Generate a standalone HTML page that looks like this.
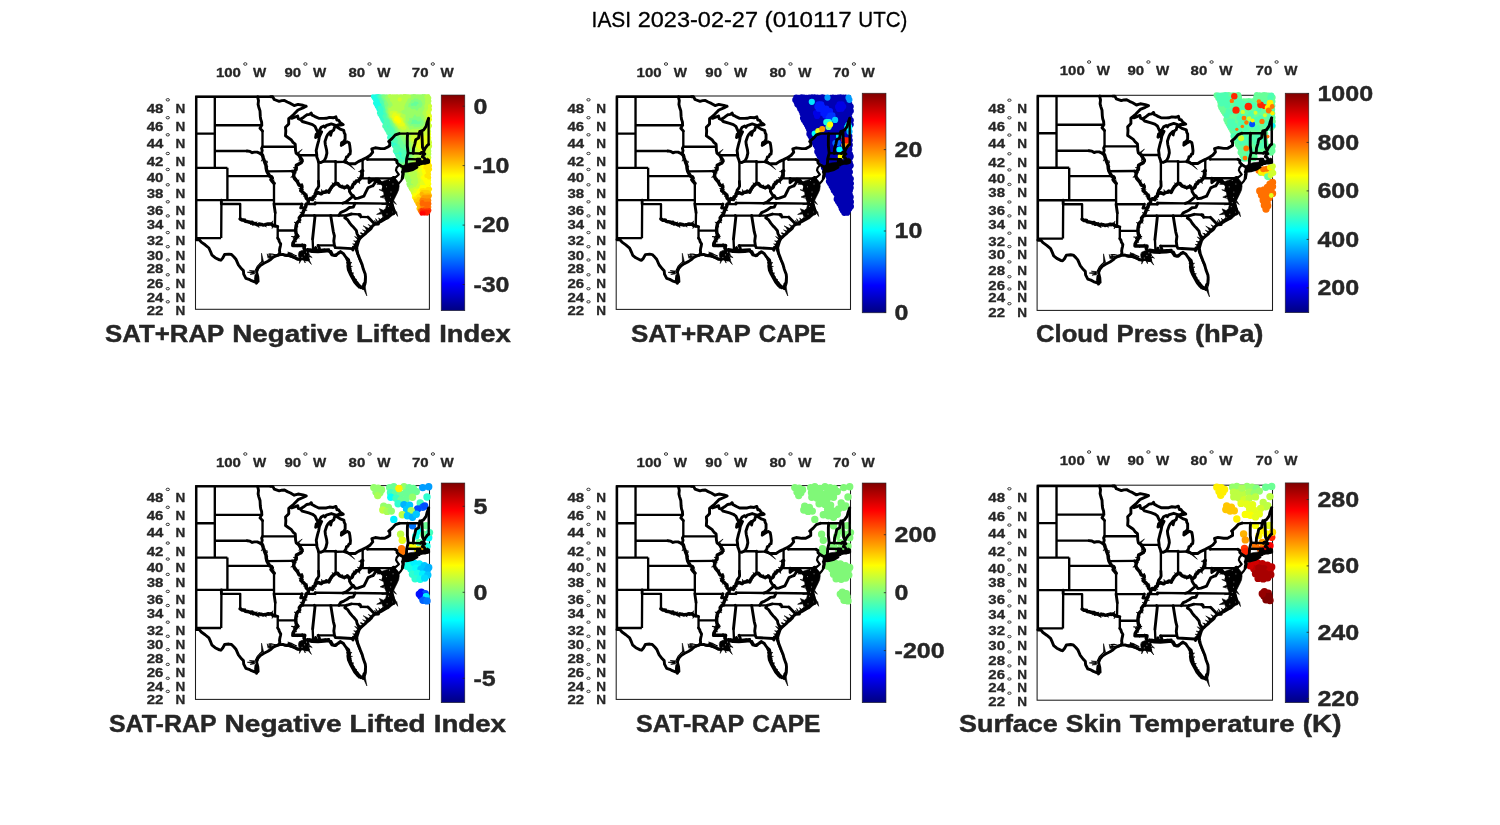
<!DOCTYPE html>
<html><head><meta charset="utf-8"><title>IASI 2023-02-27 (010117 UTC)</title>
<style>html,body{margin:0;padding:0;background:#fff;width:1500px;height:825px;overflow:hidden;font-family:"Liberation Sans",sans-serif}</style>
</head><body>
<svg width="1500" height="825" viewBox="0 0 1500 825" style="display:block;position:absolute;left:0;top:0;will-change:transform">
<defs>
<linearGradient id="jet" x1="0" y1="1" x2="0" y2="0"><stop offset="0.0000" stop-color="#000080"/><stop offset="0.0312" stop-color="#00009f"/><stop offset="0.0625" stop-color="#0000bf"/><stop offset="0.0938" stop-color="#0000df"/><stop offset="0.1250" stop-color="#0000ff"/><stop offset="0.1562" stop-color="#0020ff"/><stop offset="0.1875" stop-color="#0040ff"/><stop offset="0.2188" stop-color="#0060ff"/><stop offset="0.2500" stop-color="#0080ff"/><stop offset="0.2812" stop-color="#009fff"/><stop offset="0.3125" stop-color="#00bfff"/><stop offset="0.3438" stop-color="#00dfff"/><stop offset="0.3750" stop-color="#00ffff"/><stop offset="0.4062" stop-color="#20ffdf"/><stop offset="0.4375" stop-color="#40ffbf"/><stop offset="0.4688" stop-color="#60ff9f"/><stop offset="0.5000" stop-color="#80ff80"/><stop offset="0.5312" stop-color="#9fff60"/><stop offset="0.5625" stop-color="#bfff40"/><stop offset="0.5938" stop-color="#dfff20"/><stop offset="0.6250" stop-color="#ffff00"/><stop offset="0.6562" stop-color="#ffdf00"/><stop offset="0.6875" stop-color="#ffbf00"/><stop offset="0.7188" stop-color="#ff9f00"/><stop offset="0.7500" stop-color="#ff8000"/><stop offset="0.7812" stop-color="#ff6000"/><stop offset="0.8125" stop-color="#ff4000"/><stop offset="0.8438" stop-color="#ff2000"/><stop offset="0.8750" stop-color="#ff0000"/><stop offset="0.9062" stop-color="#df0000"/><stop offset="0.9375" stop-color="#bf0000"/><stop offset="0.9688" stop-color="#9f0000"/><stop offset="1.0000" stop-color="#800000"/></linearGradient>
<g id="st"><path d="M19.3 0.8L19.3 71.8M0.8 37.6L19.3 37.6M19.3 29.2L66.3 29.2M19.3 55.0L51.7 55.0M0.8 71.8L31.9 71.8M31.9 71.8L31.9 104.1M31.9 80.1L74.2 80.1M0.8 104.1L78.5 104.1M25.9 108.0L25.7 142.1M25.9 108.0L44.7 108.0L44.7 122.9M0.8 142.1L25.6 142.1M78.5 87.3L78.5 108.0M79.7 116.5L79.4 129.9M82.2 130.5L82.2 142.1M67.0 34.9L67.0 50.7M67.0 50.7L99.9 50.7M71.3 75.3L96.7 75.1M78.5 108.0L106.6 108.0M82.2 134.5L100.2 134.5M103.5 59.2L121.3 59.2M105.6 119.5L150.9 119.5M117.1 142.8L117.6 154.2M122.6 149.4L138.9 149.4M110.7 108.0L119.6 108.0M119.6 106.8L147.3 107.2L159.6 107.2L196.4 107.6M155.9 118.0L163.7 118.4M165.3 120.9L172.4 121.1M123.0 85.3L123.0 65.5M167.1 63.5L167.1 82.3L196.7 82.3M140.1 87.4L140.1 66.0M126.4 65.5L140.1 65.5M140.1 66.0L148.7 65.8M199.5 63.5L171.8 63.5M203.6 37.6L223.7 37.6M212.6 57.1L224.9 57.5M211.1 63.0L221.8 63.3M0.8 144.0L0.8 0.8L77.4 0.8M233.1 22.1L233.1 48.6M233.1 64.0L233.1 66.0" fill="none" stroke-width="2.35" stroke-linecap="butt"/><path d="M51.7 55.0L54.5 55.4L56.7 56.7L58.9 56.1L61.7 56.1L63.9 57.1L65.5 58.2L67.0 59.3M25.9 104.1L25.9 108.0M0.8 143.7L3.8 143.7M78.5 108.0L79.7 116.5M79.4 129.9L82.2 130.5M82.2 142.1L83.4 143.9L83.7 145.4L85.2 148.0L84.9 149.8L84.3 152.3L84.0 154.5L84.3 156.3L83.4 158.7M66.3 29.2L64.5 32.2L67.0 34.9M67.0 50.7L66.1 52.4L66.7 54.5L66.0 57.4L67.0 59.3M62.1 0.8L63.0 4.6L62.6 8.4L63.3 11.2L64.5 14.9L64.8 20.4L65.2 23.2L66.1 25.9L66.3 29.2M96.7 75.1L98.6 76.9M106.6 108.0L105.2 111.9L109.4 111.9M75.2 0.8L77.3 0.8L78.7 3.5L83.7 5.3L86.2 4.6L89.0 4.4L91.8 6.0L95.0 7.4L98.7 9.6L102.5 8.4L107.5 9.3L110.7 10.3M110.7 10.3L107.5 11.9L102.5 14.0L98.1 18.6L94.3 21.8M94.3 21.8L93.2 22.7L93.2 28.0L90.0 31.3L90.3 34.9L90.0 39.8L93.1 42.0L95.6 43.7L97.5 46.3L99.7 48.1L99.9 50.7L100.0 54.1L100.6 57.1L103.5 59.2M118.8 119.5L119.5 120.3L117.1 142.8M135.2 119.5L137.8 135.6L138.9 139.9L138.3 145.0L138.9 149.4M122.6 149.4L123.9 152.3L123.2 154.5M138.9 149.4L139.8 151.6L156.5 152.6L157.4 154.1L157.8 151.3L161.2 151.5M143.3 119.5L145.2 116.5L148.3 115.2L151.5 113.4L154.0 111.5L157.8 111.1L159.6 107.2M119.6 108.0L119.6 106.8M150.9 119.5L155.9 118.0M163.7 118.4L163.7 119.2L164.7 118.8L165.3 120.9M172.4 121.1L179.4 128.3M150.9 119.5L149.3 121.8L152.1 123.7L154.3 127.1L156.5 129.8L158.1 131.3L160.9 134.7L161.5 137.6L163.1 140.6L165.0 141.7M119.8 97.8L120.7 94.2L122.3 92.2L123.2 90.2L123.0 85.3M140.1 65.5L140.1 66.0M154.0 93.0L154.0 95.4L155.9 98.6L157.9 99.8L153.4 103.7L150.5 106.0L147.3 107.2M157.9 99.8L159.6 102.5L162.8 102.1L165.0 101.3L168.4 100.1L170.3 96.2L172.5 91.8L176.0 90.2L177.5 89.8L180.7 84.9L183.9 87.0L184.6 85.6M184.6 85.6L182.9 83.3L180.4 83.2L177.9 84.1L176.3 84.4L173.6 86.6L173.6 82.3M184.6 85.6L186.0 87.4L187.9 88.6L188.9 89.8L187.6 93.0L189.8 93.8L191.7 95.4L193.5 96.6M196.7 82.3L197.3 92.6L201.4 92.6M196.7 82.3L197.9 81.4L199.1 81.7M203.6 68.8L201.4 66.8L201.4 64.7L199.5 63.5M171.8 63.5L171.8 61.2M203.6 68.8L208.6 71.8M148.7 65.8L151.5 66.8L153.4 67.7L157.8 67.7L159.6 67.7L162.8 65.6L167.1 63.6L171.8 61.2L174.7 59.2L177.2 56.2L176.3 52.8L179.7 51.8L185.4 52.6L189.2 52.6L192.3 50.9L194.2 49.8L194.2 46.3L193.2 45.5L196.7 42.4L199.8 38.9L203.6 37.6M223.7 37.6L224.3 35.3L226.3 34.9M148.7 65.8L150.5 63.0L150.9 60.9L152.4 60.5L153.4 58.4L154.6 58.0L154.9 55.0L154.3 49.8L153.7 46.8L151.5 45.7L149.0 47.2L145.8 49.4L146.1 46.8L148.3 45.5L149.6 43.3L149.6 38.4L148.7 36.7L148.3 34.4L144.6 33.1L140.6 30.6L138.9 31.3L138.3 34.0L136.4 35.3L135.5 37.6L135.2 39.3L134.8 35.8L132.3 38.4L131.1 40.6L129.5 45.5L129.8 48.5L131.1 54.1L131.4 57.1L130.4 61.3L128.9 64.3L127.5 65.5L125.1 66.6L123.0 66.0L122.6 64.3L121.3 60.9L121.3 59.2L120.7 54.5L122.0 48.9L123.2 44.6L123.9 40.6L126.1 35.8L124.2 38.4L121.7 40.6L120.1 41.5L120.7 38.4L122.6 36.7M122.6 36.7L121.3 34.4L119.5 30.4L117.0 28.6L113.2 27.3L106.8 25.5L105.0 23.6M122.6 36.7L125.7 31.3L128.3 30.0L129.5 31.3L130.8 29.5L135.8 27.9L139.6 29.1L140.6 29.8L142.7 28.8L145.2 29.1L147.7 28.6L144.6 26.4L143.0 24.1L141.4 24.1L140.4 20.8L137.7 21.8L133.9 21.4L130.8 22.3L128.3 22.4L123.2 22.3L120.1 20.9L118.2 19.8L116.6 19.1L115.7 17.0L114.1 18.4L111.3 18.8L108.2 21.2L105.0 23.2M105.0 23.6L102.8 22.7L102.2 20.0L100.0 20.9L96.2 22.3L94.3 21.8M3.8 143.7L5.8 146.1L9.6 148.8L13.4 152.0L15.2 156.0L16.5 159.2L19.6 161.7L24.0 163.9L25.3 164.2L27.2 162.1L29.1 158.5L33.4 158.1L36.0 158.5L38.5 161.0L40.4 163.2L42.9 168.9L46.0 172.8L47.9 174.6L48.2 178.1L50.4 182.3L53.5 183.3L56.0 184.7L59.8 186.1L62.6 185.4M62.6 185.4L62.3 180.9L61.1 176.0L62.3 172.4L64.8 169.6L68.0 167.5L72.4 165.3L75.5 163.2L77.4 161.4L79.3 160.3L83.4 158.7M83.4 158.7L87.4 158.4L91.2 159.6L94.3 159.6L96.2 160.3L99.4 161.7L101.9 163.2L105.0 163.2L107.5 162.5L111.3 163.9L112.9 163.5L111.3 161.0L110.0 158.9L111.3 156.7L108.8 156.0L110.0 155.2M110.0 155.2L111.9 154.5L114.4 153.8L117.6 154.2L119.5 154.5L120.1 151.6L120.7 153.8L123.2 154.5L125.1 154.2L129.5 153.8L132.6 154.5L134.5 156.0L136.4 158.9L138.9 159.6L142.7 157.4L145.2 156.0L147.7 157.4L150.2 161.0L153.1 163.9L154.0 168.2L153.4 171.7L154.6 172.4L154.6 175.3L156.5 178.8L157.8 181.6L159.3 184.4L161.5 186.5L163.4 191.0L166.5 191.0L167.8 190.3L168.4 187.9L169.6 186.5L170.0 180.9L169.7 178.1L167.8 173.1L166.5 168.2L164.7 163.9L162.2 157.4L161.5 153.8L161.2 151.5M161.2 151.5L162.2 148.0L163.4 144.3L165.0 141.7L167.2 139.9L170.3 137.3L170.9 136.5L174.1 133.9L175.7 132.4L177.2 129.8L179.4 128.3L182.9 128.1L183.8 125.6L187.3 123.0L191.3 122.0L193.5 119.9L197.0 118.0L198.4 117.6L198.8 114.9L197.9 112.6L196.4 107.6M196.4 107.6L195.4 104.6L193.5 104.1L191.0 102.5L193.5 103.3L192.9 101.7L190.4 100.1L193.5 100.1L193.5 98.6L189.8 96.2L193.5 96.6L192.9 93.8L192.3 90.6L192.9 88.2L192.3 86.6L194.8 83.7L195.4 84.9L194.2 88.2L193.5 90.6L194.2 93.8L196.1 95.4L197.3 97.0L196.1 100.1L195.4 102.5L195.6 103.1L197.9 99.3L199.5 96.2L201.1 93.0L201.4 92.6L201.1 89.8L199.2 85.7L198.3 83.3L199.1 81.7M208.0 75.3L212.4 74.9L217.4 73.5L221.4 71.2L218.7 70.6L216.8 72.0L213.0 72.2L209.6 73.1L208.0 73.9M210.2 71.8L213.6 70.6L214.9 69.6L218.7 69.5L221.4 69.2L223.7 68.7L224.3 67.7L224.3 65.1L225.6 66.0L226.1 67.7L227.4 67.2L229.0 67.2L229.3 65.6L230.0 67.2L233.1 66.4M233.1 65.3L230.0 65.3L229.6 63.9L228.7 61.8L226.8 60.9L227.4 59.2L229.3 58.0L228.1 56.7L228.0 56.1L228.7 54.4L229.6 52.4L230.9 50.7L231.8 49.4L233.1 48.5M212.1 37.6L211.8 42.0L211.8 49.8L212.6 57.1L211.1 63.0L210.8 69.3L209.7 71.0L210.2 71.8M223.7 37.6L223.1 42.0L220.2 43.7L219.3 48.1L218.0 52.4L217.7 57.3M226.3 34.9L226.8 46.3L227.0 51.5L228.0 53.7L228.7 54.4M226.3 34.9L228.1 34.0L230.6 30.4L231.5 26.8L233.1 22.3M224.9 57.5L225.9 56.5L228.0 56.1M221.8 63.3L224.4 63.3L224.4 64.3L225.6 66.0M221.8 63.3L221.9 68.5L221.4 69.2M190.5 122.6L185.5 125.5L182.5 127.0L178.6 128.5L176.0 131.0L173.5 133.6L171.0 136.0L168.5 138.7L166.0 141.0L163.4 143.4L161.5 146.0L160.0 148.9L158.9 152.0M167.7 192.5L165.5 191.0L162.9 188.6M151.1 162.6L152.9 166.0L152.3 170.0L152.9 174.0L154.7 178.0L156.9 182.0L159.1 186.0L161.9 189.4L165.1 191.6M152.1 166.6L153.7 170.4L154.3 174.4L156.1 178.6L158.3 182.4L160.5 185.6L163.1 188.6M135.5 155.6L137.1 158.8L140.3 159.6L142.9 157.0L144.9 155.6M143.1 156.6L145.5 156.0L147.9 157.6M111.7 154.6L116.5 155.6L122.5 155.8L128.5 155.4L133.3 154.8L135.5 155.6M111.9 153.4L116.5 154.2L122.5 154.4L128.5 154.0L133.3 153.6M60.5 179.5L60.1 183.0L61.0 187.2M207.8 71.7L207.4 75.0L207.2 78.6L206.7 82.3" fill="none"/><path d="M44.7 122.9L46.6 124.1L48.5 124.0L49.8 125.3L51.7 125.6L53.5 126.0L55.1 126.4L56.7 126.2L57.6 127.9L59.2 127.4L60.8 128.3L62.3 129.0L63.6 127.9L64.8 128.3L66.1 128.4L67.4 129.0L69.2 128.7L71.1 128.3L72.7 127.9L74.3 128.1L75.8 127.9L76.8 129.0L78.0 129.6L79.4 129.9M74.2 80.1L76.1 80.9L76.8 82.1L75.5 83.7L76.8 85.3L78.6 87.3M67.0 59.3L67.7 61.8L68.3 63.5L69.2 66.0L70.5 69.3L70.8 72.6L71.4 75.1L72.7 77.6L74.2 80.1M103.5 59.2L105.0 61.8L106.6 64.3L105.6 66.8L103.8 67.7L100.9 69.3L100.6 73.5L98.7 75.5L98.6 76.9M98.6 76.9L98.1 80.1L99.1 82.5L101.9 85.7L103.5 89.0L106.3 89.8L106.4 91.4L105.3 94.6L108.2 97.0L110.7 99.7L110.7 102.1L112.9 104.1M112.9 104.1L112.6 107.2L110.7 108.0L110.4 109.9L109.4 111.9L108.2 114.6L106.9 118.4L105.6 119.5L103.8 121.8L104.1 124.1L101.3 127.1L100.6 130.2L100.3 132.4L100.2 134.5L100.6 137.6L101.9 139.9L100.6 142.1L98.7 145.0L97.5 147.2L97.3 149.4L109.2 149.4L108.5 152.0L109.7 154.5L110.0 155.2M112.9 104.1L114.4 102.5L117.0 103.5L117.6 100.9L119.5 100.1L119.8 97.8M119.8 97.8L122.6 96.6L125.7 97.8L127.6 96.3L129.5 96.2L130.8 95.0L133.3 96.2L134.2 94.0L136.4 90.6L140.1 87.4M140.1 87.4L142.1 87.4L143.9 89.8L147.1 91.1L149.6 91.4L152.1 90.3L154.0 93.0M154.0 93.0L156.5 91.4L157.8 88.2L159.3 87.4L160.9 84.9L162.8 84.9L165.0 82.5L166.5 78.4L166.2 75.1L167.1 74.8" fill="none" stroke-width="3.5"/><path d="M199.1 81.7L201.1 80.5L203.3 78.4L201.4 76.0L200.5 74.3L201.1 71.8L203.6 68.8M198.6 84.1L201.1 86.6L202.3 88.6L205.5 84.9L207.4 81.7L208.0 78.4L208.0 76.4L206.4 76.0L207.7 74.7L208.0 73.9L208.6 71.8" fill="none" stroke-width="2.2"/><path d="M185.8 85.7L191.8 83.7L197.2 81.4L199.9 82.4L202.9 86.0L203.7 90.0L203.1 94.0L201.8 97.0L199.8 101.0L197.2 106.3L198.5 111.7L201.2 118.3L197.2 115.0L195.9 120.0L193.1 122.8L190.5 123.4L187.9 121.6L186.1 117.6L183.8 112.6L187.8 114.3L190.1 112.4L190.9 109.0L190.5 105.6L189.2 102.3L184.5 101.0L188.5 99.0L187.8 93.0L186.5 89.0ZM186.3 86.0L181.3 88.2L186.7 88.0ZM188.3 94.2L183.5 93.6L187.9 95.8ZM191.3 106.6L186.1 108.6L191.7 108.2ZM196.9 105.6L200.9 108.4L198.1 104.4ZM185.2 116.0L181.1 118.4L185.8 118.0ZM199.8 116.2L202.1 120.4L201.2 115.8ZM187.7 120.4L185.9 124.4L189.3 121.6ZM183.2 126.6L180.1 122.6L181.8 127.4ZM179.2 128.2L177.1 125.4L178.0 128.8ZM176.5 130.4L172.7 128.4L175.5 131.6ZM174.0 132.8L167.6 129.8L173.0 134.4ZM171.4 135.3L167.1 133.8L170.6 136.7ZM168.8 138.0L164.5 136.8L168.2 139.4ZM166.4 140.1L161.1 138.6L165.6 141.9ZM164.0 142.6L159.1 140.4L162.8 144.2ZM161.8 145.2L158.1 144.8L161.2 146.8ZM160.3 148.2L157.1 147.8L159.7 149.6ZM186.2 125.1L183.1 121.8L184.8 125.9ZM165.1 141.9L162.5 138.2L163.9 142.5ZM168.1 139.7L166.1 136.6L166.9 140.3ZM181.2 127.8L179.1 124.2L179.8 128.2ZM172.7 134.6L169.9 131.6L171.5 135.4ZM167.4 191.4L171.3 199.9L169.6 190.6ZM154.0 167.9L156.5 166.6L153.6 166.5ZM153.5 171.3L156.9 170.4L153.5 169.9ZM153.9 174.4L156.5 174.8L154.3 173.2ZM155.6 178.1L158.3 177.0L155.4 176.7ZM156.7 181.0L159.5 181.2L157.1 179.8ZM158.9 184.2L161.3 183.4L158.9 183.0ZM160.4 187.0L162.9 186.8L160.6 185.8ZM103.9 155.6L106.5 154.4L109.5 154.0L112.1 155.0L113.5 157.4L114.1 160.2L113.1 162.8L111.1 164.2L108.1 164.0L105.1 163.0L103.3 161.2L102.9 158.2ZM110.6 162.6L115.9 168.4L112.4 161.4ZM104.4 162.3L103.9 167.4L106.2 162.9ZM108.0 163.8L109.7 167.0L109.4 163.4ZM112.9 160.3L116.7 161.6L113.7 158.9ZM96.5 157.3L92.3 156.0L95.7 158.7ZM75.6 162.1L74.5 157.6L73.8 162.1ZM73.8 161.4L71.7 157.8L72.4 161.8ZM68.1 165.9L66.0 157.2L66.1 166.1ZM58.9 175.2L51.8 176.3L58.9 177.4ZM58.6 174.8L53.9 174.4L58.4 176.0ZM58.4 176.8L54.5 178.4L58.6 178.0ZM150.0 66.4L159.2 73.5L151.4 64.8ZM145.9 46.2L147.9 45.6L149.1 47.2L148.5 49.0L146.5 49.2L145.5 47.8ZM207.9 69.6L211.2 67.8L214.5 66.9L218.5 66.4L222.5 65.8L226.5 64.6L229.5 63.2L231.9 62.2L233.9 63.2L234.1 66.0L231.9 67.6L229.1 67.2L227.5 66.8L223.5 67.8L218.5 68.8L214.5 69.8L211.1 71.2L208.1 72.2L207.3 71.0ZM101.7 59.1L106.7 53.3L100.5 57.7ZM48.3 124.0L47.8 125.8L46.8 124.1ZM51.4 125.6L49.8 122.6L49.9 125.3ZM55.4 126.5L53.6 127.9L53.9 126.1ZM57.6 127.9L54.5 128.6L56.9 126.6ZM60.0 127.8L61.7 125.8L58.7 127.1ZM63.3 128.2L63.5 131.6L62.2 129.2ZM66.7 128.5L64.6 130.2L65.2 128.3ZM69.8 128.5L70.8 131.2L68.3 128.8ZM73.1 127.8L73.6 129.9L71.6 128.2ZM76.3 128.5L77.3 124.8L75.4 127.4ZM78.7 129.8L76.5 132.5L77.3 129.2ZM77.0 82.5L74.4 82.6L76.3 81.2ZM76.7 85.2L78.9 84.1L75.8 84.0ZM68.2 63.1L65.6 65.2L67.6 61.7ZM69.1 65.5L72.3 65.4L68.5 64.1ZM70.3 68.8L72.3 66.2L69.8 67.4ZM70.8 72.3L72.5 70.4L70.6 70.8ZM72.1 76.4L73.3 75.5L71.4 75.0ZM73.3 78.6L71.6 79.5L72.5 77.3ZM74.5 80.6L71.2 80.1L73.8 79.3ZM105.5 62.6L103.4 65.1L104.7 61.3ZM105.7 66.6L108.2 65.7L106.3 65.2ZM103.7 67.7L103.9 65.7L105.1 67.1ZM101.5 69.0L102.3 70.1L102.8 68.2ZM100.7 73.0L97.6 71.6L100.8 71.5ZM98.6 75.7L100.9 77.1L99.6 74.6ZM98.4 80.8L95.1 81.3L97.9 79.4ZM100.4 84.0L101.0 82.0L99.4 82.9ZM102.4 86.8L103.6 83.7L101.7 85.4ZM104.5 89.3L103.6 90.4L103.0 88.9ZM106.8 89.9L106.7 87.2L105.3 89.5ZM105.8 93.2L103.1 92.4L106.3 91.8ZM106.1 95.2L108.4 93.6L104.9 94.2ZM108.5 97.3L105.9 98.4L107.4 96.3ZM110.5 99.5L111.7 97.8L109.5 98.4ZM110.7 102.5L107.8 100.1L110.7 101.0ZM111.8 107.5L112.4 105.2L113.2 106.9ZM110.4 109.5L108.9 108.4L110.7 108.0ZM109.5 111.8L111.7 111.6L110.1 110.4ZM108.1 114.7L111.7 114.2L108.7 113.3ZM107.0 118.2L104.3 116.3L107.4 116.8ZM105.2 119.9L108.0 120.6L106.3 118.9ZM103.9 122.8L105.4 121.4L103.7 121.3ZM102.5 125.8L105.5 126.9L103.5 124.7ZM101.0 128.2L98.5 126.1L101.3 126.8ZM100.5 131.4L102.7 130.7L100.7 129.9ZM100.2 133.9L101.5 134.0L100.3 132.4ZM100.7 138.3L103.0 138.5L100.5 136.9ZM101.4 140.6L103.7 142.4L102.2 139.3ZM99.7 143.6L98.7 141.6L100.5 142.3ZM98.4 145.6L101.3 145.8L99.2 144.3ZM97.3 147.6L100.0 149.2L98.0 146.3ZM99.0 149.4L98.6 146.3L97.5 149.4ZM103.0 149.4L101.8 151.1L101.5 149.4ZM106.4 149.4L106.8 147.3L104.9 149.4ZM109.4 149.4L109.4 151.3L107.9 149.4ZM109.0 153.1L110.2 150.9L108.4 151.8ZM116.0 103.1L115.3 104.6L114.7 102.6ZM117.7 100.5L120.0 103.7L117.3 102.0ZM119.7 98.2L118.2 99.2L119.5 99.7ZM123.4 96.9L121.9 98.6L122.0 96.4ZM125.5 97.7L123.7 98.5L124.1 97.1ZM127.5 96.5L126.0 93.4L126.3 97.4ZM130.4 95.3L130.9 97.5L129.3 96.3ZM133.7 96.4L133.7 93.6L132.3 95.7ZM134.8 93.1L135.8 94.5L134.0 94.4ZM136.5 90.5L137.0 92.4L135.7 91.8ZM139.2 88.1L136.4 86.7L138.1 89.1ZM143.3 88.9L140.9 89.4L142.3 87.7ZM146.4 90.9L147.1 88.8L145.0 90.3ZM149.1 91.3L148.7 93.7L147.6 91.2ZM152.1 90.3L151.5 88.2L150.7 90.9ZM153.9 92.9L156.7 91.3L153.0 91.6ZM156.9 90.5L158.2 91.2L156.3 91.9ZM159.3 87.4L157.8 84.8L158.0 88.1ZM161.2 84.4L159.6 84.1L160.4 85.7ZM163.6 84.0L164.2 87.7L162.6 85.1ZM165.3 82.2L161.7 81.5L164.3 83.3ZM166.4 78.8L167.8 79.5L165.9 80.2ZM166.2 74.7L163.0 75.5L166.3 76.2Z" fill="#000" stroke-width="0.6"/><path d="M159.7 153.0L160.9 156.6L162.8 161.4L165.3 167.2L167.7 173.0L169.4 178.0L170.5 183.0L170.3 188.0L169.1 191.5M117.7 150.0L118.7 153.6M120.1 150.8L119.7 154.0M87.7 158.8L92.5 158.2L96.5 159.6L100.5 161.4L103.5 162.6M92.5 157.2L97.1 158.2L101.1 160.0M88.5 160.0L93.1 160.4L96.9 161.6L100.9 163.2L104.1 164.2M96.1 140.5L98.7 140.9M100.9 140.0L103.9 140.2M97.9 142.2L100.3 138.6M73.3 158.2L76.5 158.0L80.1 158.8L83.5 158.2M73.1 160.2L76.5 160.0L80.1 160.6L83.5 159.8M59.7 174.6L61.7 170.4L64.1 167.8L66.6 165.5M61.3 176.0L63.5 171.8L65.7 169.2L68.3 167.0M61.9 179.0L62.1 183.6L62.1 187.0" fill="none" stroke-width="1.2"/><path d="M193.9 84.4h0M193.9 106.4h0M192.9 110.4h0M188.5 101.4h0M197.5 88.0h0M195.5 96.0h0M191.5 118.0h0M109.1 158.8h0M106.5 161.4h0M111.1 156.2h0M190.9 90.8h0M195.1 101.2h0" fill="none" stroke="#fff" stroke-width="0.7"/></g>
</defs>
<g font-family="'Liberation Sans', sans-serif">
<text x="591.6" y="26.7" font-size="21.90" font-weight="normal" fill="#000000" stroke="#000000" stroke-width="0.30" stroke-linejoin="round" textLength="39.5" lengthAdjust="spacingAndGlyphs">IASI</text>
<text x="637.7" y="26.7" font-size="21.90" font-weight="normal" fill="#000000" stroke="#000000" stroke-width="0.30" stroke-linejoin="round" textLength="120.3" lengthAdjust="spacingAndGlyphs">2023-02-27</text>
<text x="764.6" y="26.7" font-size="21.90" font-weight="normal" fill="#000000" stroke="#000000" stroke-width="0.30" stroke-linejoin="round" textLength="87.1" lengthAdjust="spacingAndGlyphs">(010117</text>
<text x="858.3" y="26.7" font-size="21.90" font-weight="normal" fill="#000000" stroke="#000000" stroke-width="0.30" stroke-linejoin="round" textLength="49.1" lengthAdjust="spacingAndGlyphs">UTC)</text>
<rect x="195.50" y="96.00" width="233.90" height="213.30" fill="none" stroke="#1c1c1c" stroke-width="1.05"/>
<g transform="translate(429.40 96.00)">
<path d="M-56.4 0.5h0M-54.2 0.4h0M-52.4 0.3h0M-55.5 1.9h0M-53.3 2.2h0M-51.4 1.9h0M-54.5 3.6h0M-52.3 3.8h0M-50.4 3.6h0M-53.4 5.3h0M-51.5 5.0h0M-49.6 5.2h0M-54.3 7.1h0M-52.3 6.7h0M-50.6 7.0h0M-48.7 7.0h0M-53.4 8.6h0M-51.7 8.8h0M-49.6 8.5h0M-47.7 8.6h0M-52.5 10.4h0M-50.5 10.2h0M-48.5 10.4h0M-51.5 12.1h0M-47.6 12.1h0M-50.8 13.6h0M-48.9 13.7h0" stroke="#1affe5" stroke-width="4.4" stroke-linecap="round" fill="none"/><path d="M-50.8 0.1h0M-49.6 1.9h0M-48.6 3.5h0M-47.0 6.7h0M-46.7 10.0h0M-49.7 11.9h0M-45.9 11.8h0M-46.7 13.4h0M-45.0 13.7h0M-49.4 15.1h0M-47.7 15.4h0M-45.9 15.0h0M-50.4 16.9h0M-48.9 16.8h0M-46.7 16.7h0M-44.9 16.8h0M-49.8 18.6h0M-47.5 18.5h0M-45.9 18.5h0M-44.1 18.6h0M-48.5 20.2h0M-46.8 20.1h0M-47.8 21.8h0M-45.6 22.0h0M-46.9 23.7h0M-44.9 23.3h0M-43.0 23.5h0M-45.9 25.2h0M-42.1 25.2h0M-44.8 26.9h0M-41.2 26.7h0M-41.9 28.4h0M-43.0 30.1h0M-41.2 30.0h0M-42.1 31.6h0M-40.0 31.9h0M-38.4 31.7h0M-42.9 33.5h0M-39.0 33.5h0M-40.1 35.1h0M-38.4 35.2h0M-39.1 36.9h0M-40.0 38.2h0M-38.3 38.2h0M-36.2 38.5h0M-39.2 39.9h0M-37.2 39.9h0M-40.2 41.5h0M-38.1 41.6h0M-35.5 43.2h0M-38.1 44.8h0M-36.5 45.0h0M-37.1 46.7h0M-35.2 46.7h0M-33.5 46.4h0M-36.5 48.1h0M-34.6 48.2h0M-32.4 48.2h0M-35.5 49.7h0M-33.7 49.9h0M-31.6 49.9h0M-32.5 51.4h0M-33.3 53.1h0M-31.8 53.3h0M-30.6 55.1h0M-28.5 54.7h0M-33.5 56.4h0M-31.5 56.5h0M-29.8 56.6h0M-27.8 56.5h0M-32.6 58.0h0M-30.6 58.1h0M-28.7 58.4h0M-26.8 58.4h0M-29.9 60.0h0M-27.8 59.9h0M-30.4 61.6h0M-29.0 61.3h0M-26.6 61.5h0M-24.9 61.4h0M-27.9 63.0h0M-25.7 63.2h0M-24.2 63.0h0M-24.9 64.7h0M-28.0 66.3h0" stroke="#33ffcc" stroke-width="4.4" stroke-linecap="round" fill="none"/><path d="M-48.9 0.5h0M-47.9 2.0h0M-46.7 3.8h0M-47.5 5.5h0M-46.0 5.3h0M-45.1 6.7h0M-45.8 8.5h0M-44.8 10.2h0M-44.2 12.1h0M-43.0 13.7h0M-44.2 15.4h0M-43.2 17.1h0M-41.8 18.5h0M-44.8 20.2h0M-42.9 20.3h0M-44.0 21.6h0M-42.2 22.0h0M-41.2 23.5h0M-39.1 23.5h0M-43.7 24.9h0M-40.4 25.0h0M-42.8 26.5h0M-39.4 26.9h0M-44.1 28.4h0M-40.0 28.2h0M-38.3 28.3h0M-45.1 30.1h0M-39.1 30.1h0M-37.4 29.9h0M-43.9 31.7h0M-36.3 31.8h0M-41.2 33.5h0M-37.1 33.2h0M-35.2 33.3h0M-41.9 35.1h0M-36.3 35.0h0M-34.4 35.0h0M-41.2 36.8h0M-37.5 36.9h0M-35.5 36.7h0M-34.4 38.3h0M-35.4 39.8h0M-33.6 40.0h0M-36.6 41.6h0M-34.2 41.4h0M-32.5 41.9h0M-39.3 43.5h0M-37.3 43.5h0M-33.5 43.5h0M-31.8 43.5h0M-34.4 44.7h0M-32.4 45.0h0M-30.5 45.1h0M-31.6 46.4h0M-30.8 48.3h0M-28.9 48.3h0M-29.6 49.9h0M-26.0 49.7h0M-34.3 51.4h0M-30.4 51.4h0M-29.0 51.6h0M-26.9 51.6h0M-29.6 53.4h0M-27.7 53.0h0M-25.8 53.0h0M-23.8 53.3h0M-34.5 54.9h0M-32.4 54.9h0M-26.8 55.1h0M-24.9 54.7h0M-22.9 54.6h0M-21.3 54.9h0M-25.7 56.5h0M-24.1 56.7h0M-21.9 56.7h0M-25.0 58.3h0M-23.3 58.1h0M-31.8 59.9h0M-26.1 59.6h0M-24.1 60.1h0M-22.0 60.0h0M-22.9 61.5h0M-20.9 61.3h0M-31.5 63.0h0M-29.7 63.4h0M-30.8 64.6h0M-28.7 64.7h0M-27.0 64.8h0M-23.1 64.5h0M-21.1 64.6h0M-29.9 66.2h0M-26.0 66.7h0M-23.9 66.2h0M-26.8 68.1h0" stroke="#4dffb2" stroke-width="4.4" stroke-linecap="round" fill="none"/><path d="M-46.7 0.5h0M-45.7 2.1h0M-44.8 3.7h0M-44.1 5.2h0M-15.6 5.3h0M-13.5 5.3h0M-11.5 5.3h0M-18.5 6.8h0M-16.4 6.7h0M-14.3 7.1h0M-12.5 7.1h0M-10.6 6.9h0M-43.7 8.6h0M-19.5 8.8h0M-17.5 8.6h0M-15.6 8.6h0M-13.5 8.4h0M-11.4 8.5h0M-9.7 8.6h0M-43.1 10.0h0M-18.2 10.1h0M-16.5 10.5h0M-14.3 10.4h0M-12.8 10.0h0M-17.2 11.8h0M-13.3 12.1h0M-41.1 20.4h0M-40.0 21.6h0M-18.3 23.6h0M-16.4 23.6h0M-14.7 23.3h0M-12.8 23.4h0M-8.9 23.6h0M-38.1 24.9h0M-17.3 24.9h0M-15.5 25.2h0M-13.4 25.1h0M-11.5 25.1h0M-9.8 25.3h0M-7.9 25.2h0M-37.4 26.9h0M-18.4 26.9h0M-16.4 26.7h0M-14.3 26.6h0M-12.7 26.7h0M-10.8 26.5h0M-9.0 26.8h0M-6.9 26.9h0M-36.6 28.4h0M-19.3 28.4h0M-17.1 28.5h0M-15.4 28.5h0M-13.6 28.4h0M-11.8 28.6h0M-9.6 28.3h0M-35.5 29.9h0M-34.2 31.7h0M-33.4 33.2h0M-32.6 34.9h0M-33.3 36.8h0M-31.8 36.8h0M-32.8 38.5h0M-30.9 38.3h0M-31.6 40.0h0M-29.5 39.8h0M-30.7 41.7h0M-28.8 41.5h0M-29.7 43.0h0M-27.8 43.2h0M-28.7 44.9h0M-26.6 45.0h0M-25.1 45.1h0M-29.7 46.5h0M-27.8 46.4h0M-25.8 46.5h0M-27.0 48.4h0M-25.1 48.1h0M-23.1 48.2h0M-27.6 49.7h0M-24.1 50.0h0M-21.9 49.9h0M-25.0 51.8h0M-23.0 51.5h0M-21.4 51.5h0M-22.0 53.4h0M-20.2 53.4h0M-19.4 55.0h0M-20.2 56.6h0M-21.1 58.3h0M-19.1 58.1h0M-20.4 59.6h0M-18.5 59.9h0M-19.0 61.2h0M-22.2 63.0h0M-20.0 63.2h0M-18.1 63.2h0M-19.3 64.5h0M-22.0 66.3h0M-28.9 68.1h0M-25.2 67.9h0M-27.6 69.9h0" stroke="#66ff99" stroke-width="4.4" stroke-linecap="round" fill="none"/><path d="M-45.1 0.4h0M-43.0 0.4h0M-43.8 2.2h0M-19.1 1.8h0M-15.4 1.9h0M-13.5 2.0h0M-11.5 2.2h0M-43.1 3.8h0M-18.1 3.7h0M-16.2 3.6h0M-14.3 3.4h0M-12.7 3.6h0M-10.8 3.7h0M-8.7 3.6h0M-41.9 5.5h0M-19.3 5.2h0M-17.3 5.1h0M-9.6 5.1h0M-7.7 5.4h0M-43.0 6.9h0M-41.1 6.7h0M-22.3 6.9h0M-20.1 6.9h0M-8.8 6.9h0M-6.7 7.1h0M-41.9 8.7h0M-39.9 8.3h0M-21.1 8.7h0M-7.9 8.5h0M-5.9 8.6h0M-41.1 10.0h0M-22.0 10.3h0M-20.2 10.3h0M-10.8 10.2h0M-8.7 10.0h0M-6.9 10.0h0M-42.3 11.7h0M-20.9 12.1h0M-19.0 11.8h0M-15.5 11.8h0M-11.8 11.8h0M-9.8 11.8h0M-7.9 11.8h0M-41.2 13.4h0M-18.2 13.8h0M-16.5 13.4h0M-14.6 13.5h0M-12.7 13.8h0M-10.9 13.4h0M-41.9 15.1h0M-19.4 15.3h0M-13.8 15.1h0M-11.5 15.0h0M-41.0 16.7h0M-14.7 16.7h0M-40.0 18.7h0M-15.6 18.7h0M-13.7 18.7h0M-16.6 20.2h0M-14.5 20.0h0M-12.7 20.1h0M-10.8 19.9h0M-8.6 20.4h0M-21.1 22.0h0M-19.3 21.6h0M-17.5 21.7h0M-15.3 21.6h0M-13.7 21.7h0M-11.6 21.9h0M-9.8 21.9h0M-7.7 21.8h0M-37.3 23.6h0M-20.2 23.2h0M-10.7 23.4h0M-7.1 23.7h0M-5.0 23.5h0M-36.4 25.0h0M-23.1 25.0h0M-20.9 25.2h0M-19.5 25.1h0M-6.1 25.0h0M-35.4 26.5h0M-22.0 26.8h0M-20.4 26.6h0M-4.8 26.7h0M-34.7 28.4h0M-21.1 28.6h0M-7.6 28.2h0M-6.1 28.4h0M-33.5 29.9h0M-20.3 30.1h0M-18.2 30.0h0M-16.3 29.9h0M-14.4 30.0h0M-12.7 30.2h0M-10.5 30.2h0M-8.8 30.0h0M-6.8 30.1h0M-32.5 31.7h0M-19.2 31.6h0M-15.5 31.6h0M-13.8 31.5h0M-11.5 31.6h0M-10.0 31.6h0M-31.4 33.1h0M-30.6 35.1h0M-29.7 36.4h0M-28.8 38.4h0M-27.6 39.8h0M-25.7 40.0h0M-26.8 41.7h0M-25.0 41.6h0M-25.8 43.5h0M-24.0 43.4h0M-22.2 43.4h0M-22.9 44.8h0M-24.0 46.4h0M-22.1 46.6h0M-21.0 48.3h0M-20.4 49.8h0M-19.4 51.6h0M-18.2 53.2h0M-17.2 54.8h0M-18.2 56.4h0M-16.3 56.7h0M-17.5 58.1h0M-16.6 59.7h0M-17.5 61.4h0M-16.3 63.1h0M-17.2 64.8h0M-20.2 66.5h0M-23.0 68.2h0M-20.9 68.2h0M-26.1 69.7h0M-24.2 69.8h0" stroke="#80ff80" stroke-width="4.4" stroke-linecap="round" fill="none"/><path d="M-41.2 0.6h0M-22.1 0.4h0M-18.1 0.5h0M-16.3 0.3h0M-14.4 0.3h0M-12.6 0.5h0M-10.9 0.4h0M-9.0 0.4h0M-6.9 0.2h0M-4.9 0.3h0M-42.2 1.8h0M-40.2 1.8h0M-38.4 1.9h0M-36.3 2.0h0M-21.2 1.7h0M-17.5 1.7h0M-9.7 1.8h0M-7.9 1.8h0M-6.2 1.9h0M-3.9 1.8h0M-40.9 3.9h0M-39.2 3.8h0M-22.3 3.4h0M-20.2 3.7h0M-6.7 3.6h0M-5.1 3.6h0M-2.9 3.8h0M-40.2 5.2h0M-38.4 5.3h0M-23.2 5.1h0M-21.1 5.2h0M-5.7 5.2h0M-4.1 5.5h0M-39.4 6.8h0M-37.1 7.2h0M-23.9 7.1h0M-5.1 7.1h0M-3.0 7.1h0M-38.2 8.7h0M-36.5 8.5h0M-24.7 8.6h0M-22.9 8.4h0M-4.2 8.7h0M-39.2 10.3h0M-37.3 10.1h0M-35.4 10.2h0M-25.8 10.3h0M-24.1 10.1h0M-5.2 10.3h0M-40.1 11.9h0M-38.2 11.8h0M-28.9 11.7h0M-25.0 11.7h0M-22.9 11.9h0M-6.1 11.9h0M-3.9 11.9h0M-31.4 13.6h0M-27.6 13.7h0M-25.7 13.6h0M-24.0 13.6h0M-21.9 13.5h0M-20.2 13.4h0M-9.0 13.6h0M-6.8 13.4h0M-5.2 13.5h0M-40.1 15.2h0M-30.5 15.2h0M-28.9 15.0h0M-26.9 15.1h0M-24.8 15.2h0M-23.0 15.4h0M-21.3 15.2h0M-17.6 15.3h0M-15.3 15.3h0M-9.8 15.2h0M-7.6 15.2h0M-5.8 15.1h0M-29.6 16.8h0M-27.6 16.9h0M-25.8 16.8h0M-23.8 16.6h0M-22.3 16.6h0M-20.1 16.9h0M-18.5 16.8h0M-16.2 16.9h0M-12.8 16.6h0M-10.7 16.6h0M-8.6 16.8h0M-6.9 16.9h0M-27.0 18.7h0M-25.1 18.7h0M-23.0 18.5h0M-21.1 18.4h0M-19.0 18.7h0M-17.2 18.5h0M-11.8 18.5h0M-9.6 18.3h0M-7.8 18.3h0M-6.2 18.3h0M-39.0 20.3h0M-23.9 20.0h0M-22.1 19.9h0M-20.4 20.1h0M-18.3 20.1h0M-6.8 20.3h0M-5.0 20.3h0M-38.1 21.7h0M-24.7 22.0h0M-22.9 21.6h0M-6.1 21.7h0M-3.8 21.9h0M-24.1 23.4h0M-22.2 23.5h0M-25.0 25.3h0M-4.2 25.1h0M-23.9 26.6h0M-3.0 27.0h0M-23.2 28.4h0M-4.1 28.3h0M-31.8 29.8h0M-21.9 29.8h0M-4.8 30.2h0M-3.3 30.0h0M-30.5 31.5h0M-21.1 31.5h0M-17.5 31.7h0M-7.9 32.0h0M-6.1 31.9h0M-29.7 33.2h0M-20.0 33.3h0M-18.5 33.3h0M-16.3 33.2h0M-14.4 33.4h0M-12.5 33.2h0M-10.9 33.2h0M-8.9 33.3h0M-7.1 33.4h0M-28.7 34.8h0M-19.1 34.9h0M-27.9 36.6h0M-25.8 36.6h0M-26.8 38.2h0M-24.8 38.5h0M-23.3 38.4h0M-24.0 40.0h0M-21.9 40.2h0M-23.0 41.8h0M-21.3 44.7h0M-19.2 44.8h0M-20.0 46.6h0M-18.5 46.5h0M-19.1 48.3h0M-17.6 48.4h0M-18.3 49.8h0M-17.3 51.5h0M-16.5 53.1h0M-15.3 54.9h0M-14.4 56.6h0M-15.4 57.9h0M-14.4 59.9h0M-15.4 61.3h0M-11.7 61.6h0M-14.4 63.1h0M-15.5 64.8h0M-18.1 66.6h0M-16.4 66.3h0M-19.4 68.1h0M-21.9 69.9h0M-27.0 71.3h0M-25.0 71.3h0M-25.8 73.1h0M-24.8 74.5h0M-23.2 74.6h0M-21.0 74.8h0M-19.3 74.7h0M-25.9 76.3h0M-23.9 76.3h0M-22.0 76.5h0M-18.2 76.3h0M-24.7 77.9h0M-23.3 77.8h0M-21.3 78.1h0M-17.5 77.9h0M-24.2 79.8h0M-22.0 79.8h0M-20.1 79.6h0M-18.4 79.4h0M-16.3 79.4h0M-22.9 81.4h0M-21.4 81.1h0M-19.1 81.5h0M-15.6 81.3h0M-22.1 82.7h0M-20.4 82.7h0M-18.2 83.0h0M-16.2 82.9h0M-21.4 84.7h0M-19.3 84.4h0M-17.5 84.8h0M-20.1 86.3h0M-18.3 86.1h0M-20.9 88.1h0M-19.1 88.2h0M-17.3 88.1h0M-15.4 88.0h0M-20.3 89.4h0M-18.5 89.6h0M-16.3 89.6h0M-19.2 91.1h0" stroke="#99ff66" stroke-width="4.4" stroke-linecap="round" fill="none"/><path d="M-39.4 0.3h0M-37.2 0.5h0M-35.3 0.4h0M-33.4 0.5h0M-31.7 0.4h0M-29.5 0.5h0M-27.8 0.5h0M-25.7 0.3h0M-23.9 0.2h0M-20.4 0.4h0M-3.0 0.5h0M-1.3 0.1h0M-34.5 2.1h0M-32.3 1.9h0M-30.9 1.7h0M-28.6 1.7h0M-26.7 2.0h0M-25.0 2.1h0M-23.3 1.8h0M-2.3 1.9h0M-0.2 2.0h0M-37.4 3.8h0M-35.2 3.5h0M-33.7 3.6h0M-31.6 3.7h0M-27.6 3.4h0M-25.8 3.4h0M-24.1 3.8h0M-1.3 3.8h0M-36.1 5.1h0M-34.3 5.0h0M-32.7 5.1h0M-30.6 5.2h0M-28.8 5.3h0M-27.0 5.4h0M-25.1 5.3h0M-2.3 5.5h0M-0.1 5.1h0M-35.2 6.7h0M-33.7 7.1h0M-31.6 7.1h0M-29.8 6.9h0M-27.8 6.9h0M-25.8 6.7h0M-1.0 6.9h0M-34.7 8.4h0M-32.6 8.4h0M-30.8 8.8h0M-28.7 8.6h0M-26.6 8.6h0M-2.3 8.3h0M-0.4 8.3h0M-33.4 10.2h0M-31.4 10.5h0M-29.6 10.1h0M-28.0 10.4h0M-3.1 10.3h0M-1.3 10.2h0M-36.2 11.7h0M-34.6 12.0h0M-32.8 11.8h0M-30.5 12.0h0M-26.9 12.0h0M-2.0 11.9h0M-0.4 12.0h0M-39.0 13.6h0M-37.3 13.5h0M-35.3 13.6h0M-33.3 13.5h0M-29.5 13.7h0M-3.1 13.7h0M-1.4 13.3h0M-38.4 15.4h0M-36.3 15.1h0M-34.7 15.2h0M-32.6 15.3h0M-3.9 15.1h0M-1.9 15.0h0M-39.1 16.7h0M-31.7 16.7h0M-4.9 17.0h0M-3.2 16.8h0M-38.4 18.7h0M-28.8 18.5h0M-3.8 18.7h0M-2.1 18.4h0M-29.8 19.9h0M-27.7 20.3h0M-25.8 20.2h0M-3.2 20.3h0M-36.4 21.6h0M-29.0 21.6h0M-26.7 21.7h0M-2.3 21.9h0M-25.8 23.6h0M-3.0 23.3h0M-26.8 25.0h0M-2.3 25.0h0M-33.6 26.6h0M-25.9 26.6h0M-1.3 26.8h0M-32.5 28.4h0M-25.1 28.5h0M-1.9 28.2h0M-24.2 30.2h0M-28.9 31.5h0M-23.1 31.5h0M-4.1 31.7h0M-27.9 33.3h0M-25.8 33.5h0M-24.1 33.4h0M-22.2 33.3h0M-5.0 33.3h0M-3.1 33.6h0M-26.8 35.0h0M-24.9 35.1h0M-22.8 34.8h0M-21.2 35.3h0M-17.2 35.3h0M-15.5 35.2h0M-13.7 35.3h0M-11.7 34.9h0M-9.6 35.1h0M-7.6 35.2h0M-5.8 35.0h0M-23.9 36.8h0M-22.3 36.5h0M-20.1 36.7h0M-18.5 36.5h0M-16.2 36.7h0M-14.6 36.5h0M-12.4 36.8h0M-21.2 38.3h0M-19.3 38.2h0M-17.3 38.4h0M-15.2 38.6h0M-20.2 39.7h0M-18.5 40.1h0M-21.4 41.4h0M-19.4 41.5h0M-17.2 41.6h0M-20.4 43.4h0M-18.5 43.3h0M-17.5 44.8h0M-15.6 44.9h0M-16.5 46.7h0M-15.6 48.1h0M-16.3 50.1h0M-14.5 49.9h0M-15.7 51.5h0M-13.6 51.6h0M-0.2 51.8h0M-14.7 53.0h0M-12.5 53.1h0M-13.4 54.8h0M-0.2 55.0h0M-12.6 56.6h0M-10.8 56.6h0M-7.0 56.6h0M-3.0 56.4h0M-13.6 58.2h0M-11.8 58.1h0M-9.6 58.4h0M-3.9 58.3h0M-2.3 58.2h0M-0.2 57.9h0M-12.7 59.8h0M-10.8 59.8h0M-8.9 59.7h0M-7.0 59.7h0M-5.1 59.6h0M-3.2 59.9h0M-1.3 59.6h0M-13.5 61.7h0M-9.7 61.5h0M-8.0 61.4h0M-12.8 63.1h0M-10.8 63.1h0M-9.0 62.9h0M-13.3 64.6h0M-14.6 66.3h0M-17.3 68.2h0M-20.3 69.8h0M-18.4 69.6h0M-16.3 69.9h0M-22.9 71.2h0M-21.1 71.5h0M-19.3 71.2h0M-17.5 71.2h0M-23.9 73.0h0M-22.1 72.9h0M-20.2 72.9h0M-18.2 72.8h0M-16.6 72.9h0M-14.5 73.1h0M-17.4 74.7h0M-15.3 74.6h0M-13.4 74.9h0M-11.6 74.9h0M-20.0 76.5h0M-16.4 76.4h0M-14.5 76.5h0M-12.4 76.1h0M-19.1 77.8h0M-15.3 78.2h0M-13.7 77.8h0M-11.4 78.2h0M-14.4 79.9h0M-12.5 79.7h0M-17.1 81.4h0M-13.5 81.4h0M-11.8 81.5h0M-14.6 82.8h0M-12.8 82.7h0M-10.7 82.9h0M-15.3 84.8h0M-13.6 84.9h0M-11.8 84.7h0M-16.4 86.0h0M-14.7 86.1h0M-12.6 86.1h0M-10.5 86.3h0M-13.6 87.9h0M-11.6 87.8h0M-14.4 89.5h0M-12.5 89.6h0M-17.5 91.3h0M-15.5 91.3h0M-13.7 91.4h0M-18.5 92.8h0M-16.3 92.8h0" stroke="#b3ff4c" stroke-width="4.4" stroke-linecap="round" fill="none"/><path d="M-29.7 3.4h0M0.6 10.1h0M0.5 13.4h0M-0.1 15.0h0M-37.4 16.9h0M-35.5 16.8h0M-33.6 16.9h0M-1.2 16.6h0M-36.3 18.3h0M-32.5 18.6h0M-30.7 18.7h0M-0.2 18.6h0M-37.3 20.1h0M-1.2 20.3h0M-0.5 22.0h0M-35.3 23.5h0M-27.8 23.6h0M-1.4 23.4h0M-34.5 24.9h0M-0.4 25.1h0M-30.7 28.3h0M-0.4 28.3h0M-29.9 30.2h0M-28.0 30.0h0M-25.8 30.1h0M-1.1 29.9h0M0.5 29.8h0M-26.6 31.6h0M-25.0 31.5h0M-2.0 31.7h0M-0.5 31.7h0M-1.3 33.6h0M-3.8 34.8h0M-2.0 35.1h0M-0.4 35.2h0M-10.6 36.6h0M-8.9 36.6h0M-7.1 36.7h0M-5.0 36.8h0M-3.1 36.7h0M-1.2 36.9h0M-13.3 38.3h0M-11.5 38.4h0M-9.6 38.6h0M-8.1 38.3h0M-6.0 38.4h0M-4.2 38.6h0M-2.3 38.3h0M-16.3 40.1h0M-14.7 40.0h0M-12.8 39.8h0M-10.8 40.2h0M-8.7 40.2h0M-7.1 39.9h0M-5.2 39.9h0M-3.3 40.2h0M-1.3 40.0h0M-15.3 41.6h0M-13.7 41.7h0M-11.9 41.9h0M-16.5 43.2h0M-14.7 43.2h0M-13.7 44.8h0M-11.8 44.9h0M-0.1 44.8h0M-14.3 46.8h0M0.5 46.4h0M-13.6 48.5h0M-2.2 48.1h0M-0.2 48.4h0M-12.4 49.9h0M-1.3 49.7h0M0.6 50.0h0M-11.4 51.4h0M-2.1 51.5h0M-10.6 53.3h0M-8.7 53.2h0M-5.2 53.3h0M-3.0 53.4h0M-1.3 53.4h0M-11.7 54.7h0M-9.8 55.1h0M-7.7 54.6h0M-6.2 54.7h0M-4.0 54.8h0M-2.3 54.8h0M-8.8 56.7h0M-5.2 56.5h0M-1.1 56.4h0M-8.0 58.0h0M-6.1 58.0h0M-5.7 61.6h0M-4.2 61.4h0M-2.1 61.4h0M-0.2 61.5h0M-6.7 63.1h0M-5.1 62.9h0M-3.1 63.3h0M-11.7 64.9h0M-9.8 64.9h0M-12.5 66.4h0M-15.5 68.3h0M-13.6 68.0h0M-11.7 68.0h0M-14.6 69.7h0M-15.3 71.4h0M-13.8 71.4h0M-11.6 71.3h0M-10.0 71.3h0M-12.8 73.3h0M-10.5 73.0h0M-10.6 76.4h0M-8.8 76.5h0M-9.6 78.0h0M-10.5 79.9h0M-8.6 79.9h0M-9.7 81.2h0M-8.9 83.2h0M-9.5 84.5h0M-8.1 84.4h0M-8.6 86.3h0M-9.7 88.1h0M-10.6 89.6h0M-8.7 89.6h0M-11.8 91.4h0M-9.8 91.2h0M-14.7 93.0h0M-12.4 92.9h0M-10.7 92.9h0M-17.3 94.3h0M-15.3 94.3h0M-16.6 96.1h0" stroke="#ccff33" stroke-width="4.4" stroke-linecap="round" fill="none"/><path d="M-34.7 18.4h0M-35.4 20.3h0M-33.5 20.2h0M-31.6 20.3h0M0.5 20.3h0M-34.3 22.0h0M-30.8 22.0h0M-29.6 23.3h0M0.5 23.4h0M-32.8 25.3h0M-28.9 25.0h0M-31.8 26.6h0M-29.7 26.5h0M-27.9 26.7h0M-29.0 28.3h0M-26.7 28.4h0M-0.4 38.3h0M-9.6 41.5h0M-7.9 41.8h0M-5.8 41.7h0M-4.3 41.8h0M-2.4 41.7h0M-0.2 41.8h0M-12.6 43.3h0M-10.8 43.3h0M-8.6 43.2h0M-6.9 43.3h0M-4.8 43.2h0M-3.0 43.2h0M-1.3 43.4h0M-9.6 44.8h0M-7.7 45.1h0M-5.9 45.0h0M-3.9 45.0h0M-2.1 45.1h0M-12.4 46.8h0M-10.5 46.8h0M-9.0 46.6h0M-6.9 46.7h0M-4.9 46.6h0M-2.9 46.4h0M-1.2 46.8h0M-11.7 48.2h0M-9.5 48.5h0M-7.9 48.1h0M-5.8 48.4h0M-4.1 48.4h0M-10.9 50.1h0M-8.6 49.7h0M-6.8 49.8h0M-5.2 49.7h0M-3.3 50.0h0M-9.8 51.3h0M-7.7 51.4h0M-5.8 51.7h0M-4.2 51.8h0M-7.0 53.1h0M-1.4 63.1h0M-7.6 64.5h0M-6.1 64.7h0M-3.9 64.9h0M-10.6 66.3h0M-8.7 66.7h0M-9.5 67.9h0M-12.5 69.8h0M-10.7 69.5h0M-9.0 69.6h0M-7.9 71.6h0M-9.0 73.2h0M-6.7 72.9h0M-9.5 74.5h0M-7.6 74.5h0M-7.1 76.3h0M-7.7 78.1h0M-5.9 77.9h0M-6.9 79.4h0M-7.6 81.2h0M-7.0 83.1h0M-6.2 84.8h0M-7.1 86.2h0M-4.8 86.3h0M-7.7 87.8h0M-6.2 87.8h0M-4.1 88.1h0M-7.1 89.7h0M-4.9 89.5h0M-2.9 89.6h0M-8.7 93.0h0M-13.7 94.7h0M-11.5 94.4h0M-14.3 96.3h0M-12.4 96.3h0M-15.7 98.0h0M-13.6 97.9h0" stroke="#e5ff1a" stroke-width="4.4" stroke-linecap="round" fill="none"/><path d="M-32.7 21.9h0M-33.3 23.3h0M-31.5 23.3h0M-30.5 25.2h0M-2.1 65.0h0M-0.4 64.7h0M-7.0 66.5h0M-5.2 66.2h0M-3.1 66.3h0M-7.9 67.9h0M-5.9 67.9h0M-4.2 68.0h0M-6.7 69.7h0M-4.9 69.7h0M-6.0 71.6h0M-4.9 73.2h0M-2.9 72.9h0M-5.8 74.5h0M-4.1 74.7h0M-5.1 76.6h0M-3.3 76.4h0M-4.0 78.1h0M-2.2 78.1h0M-4.9 79.7h0M-6.2 81.4h0M-4.2 81.2h0M-2.2 81.4h0M-5.0 82.8h0M-3.3 83.0h0M-1.0 82.7h0M-4.0 84.6h0M-2.3 84.7h0M-0.4 84.4h0M-3.0 86.3h0M-1.4 86.1h0M-2.1 87.9h0M-0.2 87.9h0M-1.4 89.6h0M-7.8 91.2h0M-5.9 91.3h0M-3.8 91.3h0M-2.4 91.5h0M-0.5 91.0h0M-6.8 92.7h0M-4.9 92.7h0M-3.3 92.9h0M-9.7 94.7h0M-10.9 96.2h0M-9.0 96.1h0M-11.7 98.1h0M-9.6 97.9h0M-14.5 99.3h0M-12.8 99.7h0M-15.4 101.1h0M-13.5 101.1h0" stroke="#ffff00" stroke-width="4.4" stroke-linecap="round" fill="none"/><path d="M-1.1 66.5h0M-2.1 68.2h0M-0.3 68.0h0M-3.2 69.6h0M-1.0 69.8h0M0.5 69.8h0M-3.9 71.4h0M-2.3 71.5h0M-0.5 71.4h0M-1.4 72.9h0M0.6 73.2h0M-2.0 74.8h0M-0.4 74.9h0M-1.4 76.5h0M-0.4 78.2h0M-2.9 79.7h0M-1.3 79.4h0M-0.3 81.4h0M-1.4 92.9h0M0.6 93.1h0M-7.8 94.5h0M-6.1 94.3h0M-4.2 94.5h0M-2.1 94.5h0M-0.2 94.6h0M-10.5 99.7h0M-8.8 99.6h0M-11.8 101.0h0M-9.6 101.1h0M-8.1 101.2h0M-14.5 102.6h0M-12.5 102.9h0M-9.8 110.8h0" stroke="#ffe500" stroke-width="4.4" stroke-linecap="round" fill="none"/><path d="M-6.9 96.3h0M-5.1 96.3h0M-3.3 96.1h0M-1.4 96.2h0M-5.7 97.8h0M-4.0 97.6h0M-2.2 97.7h0M-0.2 97.6h0M-10.5 102.9h0M-8.8 103.0h0M-13.5 104.7h0M-11.4 104.6h0M-9.8 104.3h0M-12.5 105.9h0M-10.7 105.9h0M-10.8 112.6h0" stroke="#ffcc00" stroke-width="4.4" stroke-linecap="round" fill="none"/><path d="M-7.7 98.0h0M-6.8 99.5h0M-5.2 99.6h0M-3.1 99.6h0M-1.4 99.4h0M0.5 99.6h0M-8.8 105.9h0M-11.7 107.9h0M-9.6 107.7h0M-10.5 109.5h0M-8.6 109.2h0M-4.3 111.2h0M-8.6 112.8h0" stroke="#ffb300" stroke-width="4.4" stroke-linecap="round" fill="none"/><path d="M-5.8 101.2h0M-4.2 101.4h0M-2.3 101.1h0M-0.3 101.0h0M-6.9 102.8h0M-4.9 102.9h0M-3.1 103.0h0M-1.3 103.0h0M-7.7 110.9h0M-6.1 111.1h0M-2.0 110.9h0" stroke="#ff9900" stroke-width="4.4" stroke-linecap="round" fill="none"/><path d="M-7.8 104.3h0M-6.1 104.2h0M-4.0 104.4h0M-1.9 104.6h0M-0.2 104.4h0M-5.0 106.0h0M-3.1 106.0h0M-1.1 105.9h0M-6.8 109.5h0M-4.8 109.5h0M-0.2 110.9h0M-6.8 112.6h0M-3.0 112.6h0M-9.6 114.5h0" stroke="#ff8000" stroke-width="4.4" stroke-linecap="round" fill="none"/><path d="M-7.1 106.1h0M-7.7 107.7h0M-6.1 107.7h0M-4.2 107.9h0M-2.3 107.7h0M-0.1 107.8h0M-3.2 109.2h0M-1.4 109.3h0M-4.8 112.9h0M-1.4 112.7h0M-8.7 115.8h0" stroke="#ff6600" stroke-width="4.4" stroke-linecap="round" fill="none"/><path d="M-7.8 114.3h0M-6.0 114.5h0M-3.9 114.6h0M-2.4 114.4h0M-0.1 114.2h0" stroke="#ff3300" stroke-width="4.4" stroke-linecap="round" fill="none"/><path d="M-7.0 116.0h0M-4.9 116.0h0M-3.3 116.0h0M-1.0 115.9h0M-4.0 117.4h0M-2.3 117.5h0" stroke="#ff1a00" stroke-width="4.4" stroke-linecap="round" fill="none"/><path d="M-7.7 117.5h0M-5.9 117.4h0" stroke="#ff0000" stroke-width="4.4" stroke-linecap="round" fill="none"/>
</g>
<use href="#st" transform="translate(195.50 96.00) scale(1.00000 1.00000)" fill="none" stroke="#000" stroke-width="2.9" stroke-linejoin="round" stroke-linecap="round"/>
<rect x="441.20" y="95.00" width="23.60" height="215.70" fill="url(#jet)" stroke="#262626" stroke-width="0.6"/>
<path d="M464.8 106.2h-2.2" stroke="#262626" stroke-width="0.8"/>
<text x="473.4" y="113.5" font-size="21.20" font-weight="bold" fill="#262626" text-anchor="start" textLength="13.9" lengthAdjust="spacingAndGlyphs" stroke="#262626" stroke-width="0.40" stroke-linejoin="round">0</text>
<path d="M464.8 165.6h-2.2" stroke="#262626" stroke-width="0.8"/>
<text x="473.4" y="172.9" font-size="21.20" font-weight="bold" fill="#262626" text-anchor="start" textLength="36.1" lengthAdjust="spacingAndGlyphs" stroke="#262626" stroke-width="0.40" stroke-linejoin="round">-10</text>
<path d="M464.8 225.1h-2.2" stroke="#262626" stroke-width="0.8"/>
<text x="473.4" y="232.4" font-size="21.20" font-weight="bold" fill="#262626" text-anchor="start" textLength="36.1" lengthAdjust="spacingAndGlyphs" stroke="#262626" stroke-width="0.40" stroke-linejoin="round">-20</text>
<path d="M464.8 284.5h-2.2" stroke="#262626" stroke-width="0.8"/>
<text x="473.4" y="291.8" font-size="21.20" font-weight="bold" fill="#262626" text-anchor="start" textLength="36.1" lengthAdjust="spacingAndGlyphs" stroke="#262626" stroke-width="0.40" stroke-linejoin="round">-30</text>
<text x="146.7" y="112.6" font-size="12.70" font-weight="bold" fill="#262626" text-anchor="start" textLength="16.7" lengthAdjust="spacingAndGlyphs" stroke="#262626" stroke-width="0.30" stroke-linejoin="round">48</text>
<text x="175.6" y="112.6" font-size="12.70" font-weight="bold" fill="#262626" text-anchor="start" textLength="9.8" lengthAdjust="spacingAndGlyphs" stroke="#262626" stroke-width="0.30" stroke-linejoin="round">N</text>
<ellipse cx="167.8" cy="99.8" rx="1.7" ry="1.2" fill="none" stroke="#262626" stroke-width="0.95"/>
<text x="146.7" y="130.6" font-size="12.70" font-weight="bold" fill="#262626" text-anchor="start" textLength="16.7" lengthAdjust="spacingAndGlyphs" stroke="#262626" stroke-width="0.30" stroke-linejoin="round">46</text>
<text x="175.6" y="130.6" font-size="12.70" font-weight="bold" fill="#262626" text-anchor="start" textLength="9.8" lengthAdjust="spacingAndGlyphs" stroke="#262626" stroke-width="0.30" stroke-linejoin="round">N</text>
<ellipse cx="167.8" cy="117.7" rx="1.7" ry="1.2" fill="none" stroke="#262626" stroke-width="0.95"/>
<text x="146.7" y="147.7" font-size="12.70" font-weight="bold" fill="#262626" text-anchor="start" textLength="16.7" lengthAdjust="spacingAndGlyphs" stroke="#262626" stroke-width="0.30" stroke-linejoin="round">44</text>
<text x="175.6" y="147.7" font-size="12.70" font-weight="bold" fill="#262626" text-anchor="start" textLength="9.8" lengthAdjust="spacingAndGlyphs" stroke="#262626" stroke-width="0.30" stroke-linejoin="round">N</text>
<ellipse cx="167.8" cy="134.8" rx="1.7" ry="1.2" fill="none" stroke="#262626" stroke-width="0.95"/>
<text x="146.7" y="166.3" font-size="12.70" font-weight="bold" fill="#262626" text-anchor="start" textLength="16.7" lengthAdjust="spacingAndGlyphs" stroke="#262626" stroke-width="0.30" stroke-linejoin="round">42</text>
<text x="175.6" y="166.3" font-size="12.70" font-weight="bold" fill="#262626" text-anchor="start" textLength="9.8" lengthAdjust="spacingAndGlyphs" stroke="#262626" stroke-width="0.30" stroke-linejoin="round">N</text>
<ellipse cx="167.8" cy="153.5" rx="1.7" ry="1.2" fill="none" stroke="#262626" stroke-width="0.95"/>
<text x="146.7" y="182.3" font-size="12.70" font-weight="bold" fill="#262626" text-anchor="start" textLength="16.7" lengthAdjust="spacingAndGlyphs" stroke="#262626" stroke-width="0.30" stroke-linejoin="round">40</text>
<text x="175.6" y="182.3" font-size="12.70" font-weight="bold" fill="#262626" text-anchor="start" textLength="9.8" lengthAdjust="spacingAndGlyphs" stroke="#262626" stroke-width="0.30" stroke-linejoin="round">N</text>
<ellipse cx="167.8" cy="169.5" rx="1.7" ry="1.2" fill="none" stroke="#262626" stroke-width="0.95"/>
<text x="146.7" y="197.7" font-size="12.70" font-weight="bold" fill="#262626" text-anchor="start" textLength="16.7" lengthAdjust="spacingAndGlyphs" stroke="#262626" stroke-width="0.30" stroke-linejoin="round">38</text>
<text x="175.6" y="197.7" font-size="12.70" font-weight="bold" fill="#262626" text-anchor="start" textLength="9.8" lengthAdjust="spacingAndGlyphs" stroke="#262626" stroke-width="0.30" stroke-linejoin="round">N</text>
<ellipse cx="167.8" cy="184.8" rx="1.7" ry="1.2" fill="none" stroke="#262626" stroke-width="0.95"/>
<text x="146.7" y="214.7" font-size="12.70" font-weight="bold" fill="#262626" text-anchor="start" textLength="16.7" lengthAdjust="spacingAndGlyphs" stroke="#262626" stroke-width="0.30" stroke-linejoin="round">36</text>
<text x="175.6" y="214.7" font-size="12.70" font-weight="bold" fill="#262626" text-anchor="start" textLength="9.8" lengthAdjust="spacingAndGlyphs" stroke="#262626" stroke-width="0.30" stroke-linejoin="round">N</text>
<ellipse cx="167.8" cy="201.8" rx="1.7" ry="1.2" fill="none" stroke="#262626" stroke-width="0.95"/>
<text x="146.7" y="228.8" font-size="12.70" font-weight="bold" fill="#262626" text-anchor="start" textLength="16.7" lengthAdjust="spacingAndGlyphs" stroke="#262626" stroke-width="0.30" stroke-linejoin="round">34</text>
<text x="175.6" y="228.8" font-size="12.70" font-weight="bold" fill="#262626" text-anchor="start" textLength="9.8" lengthAdjust="spacingAndGlyphs" stroke="#262626" stroke-width="0.30" stroke-linejoin="round">N</text>
<ellipse cx="167.8" cy="215.9" rx="1.7" ry="1.2" fill="none" stroke="#262626" stroke-width="0.95"/>
<text x="146.7" y="245.4" font-size="12.70" font-weight="bold" fill="#262626" text-anchor="start" textLength="16.7" lengthAdjust="spacingAndGlyphs" stroke="#262626" stroke-width="0.30" stroke-linejoin="round">32</text>
<text x="175.6" y="245.4" font-size="12.70" font-weight="bold" fill="#262626" text-anchor="start" textLength="9.8" lengthAdjust="spacingAndGlyphs" stroke="#262626" stroke-width="0.30" stroke-linejoin="round">N</text>
<ellipse cx="167.8" cy="232.6" rx="1.7" ry="1.2" fill="none" stroke="#262626" stroke-width="0.95"/>
<text x="146.7" y="259.6" font-size="12.70" font-weight="bold" fill="#262626" text-anchor="start" textLength="16.7" lengthAdjust="spacingAndGlyphs" stroke="#262626" stroke-width="0.30" stroke-linejoin="round">30</text>
<text x="175.6" y="259.6" font-size="12.70" font-weight="bold" fill="#262626" text-anchor="start" textLength="9.8" lengthAdjust="spacingAndGlyphs" stroke="#262626" stroke-width="0.30" stroke-linejoin="round">N</text>
<ellipse cx="167.8" cy="246.7" rx="1.7" ry="1.2" fill="none" stroke="#262626" stroke-width="0.95"/>
<text x="146.7" y="272.9" font-size="12.70" font-weight="bold" fill="#262626" text-anchor="start" textLength="16.7" lengthAdjust="spacingAndGlyphs" stroke="#262626" stroke-width="0.30" stroke-linejoin="round">28</text>
<text x="175.6" y="272.9" font-size="12.70" font-weight="bold" fill="#262626" text-anchor="start" textLength="9.8" lengthAdjust="spacingAndGlyphs" stroke="#262626" stroke-width="0.30" stroke-linejoin="round">N</text>
<ellipse cx="167.8" cy="260.0" rx="1.7" ry="1.2" fill="none" stroke="#262626" stroke-width="0.95"/>
<text x="146.7" y="287.7" font-size="12.70" font-weight="bold" fill="#262626" text-anchor="start" textLength="16.7" lengthAdjust="spacingAndGlyphs" stroke="#262626" stroke-width="0.30" stroke-linejoin="round">26</text>
<text x="175.6" y="287.7" font-size="12.70" font-weight="bold" fill="#262626" text-anchor="start" textLength="9.8" lengthAdjust="spacingAndGlyphs" stroke="#262626" stroke-width="0.30" stroke-linejoin="round">N</text>
<ellipse cx="167.8" cy="274.8" rx="1.7" ry="1.2" fill="none" stroke="#262626" stroke-width="0.95"/>
<text x="146.7" y="301.6" font-size="12.70" font-weight="bold" fill="#262626" text-anchor="start" textLength="16.7" lengthAdjust="spacingAndGlyphs" stroke="#262626" stroke-width="0.30" stroke-linejoin="round">24</text>
<text x="175.6" y="301.6" font-size="12.70" font-weight="bold" fill="#262626" text-anchor="start" textLength="9.8" lengthAdjust="spacingAndGlyphs" stroke="#262626" stroke-width="0.30" stroke-linejoin="round">N</text>
<ellipse cx="167.8" cy="288.7" rx="1.7" ry="1.2" fill="none" stroke="#262626" stroke-width="0.95"/>
<text x="146.7" y="314.7" font-size="12.70" font-weight="bold" fill="#262626" text-anchor="start" textLength="16.7" lengthAdjust="spacingAndGlyphs" stroke="#262626" stroke-width="0.30" stroke-linejoin="round">22</text>
<text x="175.6" y="314.7" font-size="12.70" font-weight="bold" fill="#262626" text-anchor="start" textLength="9.8" lengthAdjust="spacingAndGlyphs" stroke="#262626" stroke-width="0.30" stroke-linejoin="round">N</text>
<ellipse cx="167.8" cy="301.8" rx="1.7" ry="1.2" fill="none" stroke="#262626" stroke-width="0.95"/>
<text x="215.9" y="77.0" font-size="12.70" font-weight="bold" fill="#262626" text-anchor="start" textLength="25.1" lengthAdjust="spacingAndGlyphs" stroke="#262626" stroke-width="0.30" stroke-linejoin="round">100</text>
<ellipse cx="245.3" cy="64.0" rx="1.65" ry="1.3" fill="none" stroke="#262626" stroke-width="0.9"/>
<text x="253.0" y="77.0" font-size="12.70" font-weight="bold" fill="#262626" text-anchor="start" textLength="13.2" lengthAdjust="spacingAndGlyphs" stroke="#262626" stroke-width="0.30" stroke-linejoin="round">W</text>
<text x="284.4" y="77.0" font-size="12.70" font-weight="bold" fill="#262626" text-anchor="start" textLength="16.7" lengthAdjust="spacingAndGlyphs" stroke="#262626" stroke-width="0.30" stroke-linejoin="round">90</text>
<ellipse cx="305.4" cy="64.0" rx="1.65" ry="1.3" fill="none" stroke="#262626" stroke-width="0.9"/>
<text x="313.1" y="77.0" font-size="12.70" font-weight="bold" fill="#262626" text-anchor="start" textLength="13.2" lengthAdjust="spacingAndGlyphs" stroke="#262626" stroke-width="0.30" stroke-linejoin="round">W</text>
<text x="348.5" y="77.0" font-size="12.70" font-weight="bold" fill="#262626" text-anchor="start" textLength="16.7" lengthAdjust="spacingAndGlyphs" stroke="#262626" stroke-width="0.30" stroke-linejoin="round">80</text>
<ellipse cx="369.5" cy="64.0" rx="1.65" ry="1.3" fill="none" stroke="#262626" stroke-width="0.9"/>
<text x="377.2" y="77.0" font-size="12.70" font-weight="bold" fill="#262626" text-anchor="start" textLength="13.2" lengthAdjust="spacingAndGlyphs" stroke="#262626" stroke-width="0.30" stroke-linejoin="round">W</text>
<text x="411.8" y="77.0" font-size="12.70" font-weight="bold" fill="#262626" text-anchor="start" textLength="16.7" lengthAdjust="spacingAndGlyphs" stroke="#262626" stroke-width="0.30" stroke-linejoin="round">70</text>
<ellipse cx="432.8" cy="64.0" rx="1.65" ry="1.3" fill="none" stroke="#262626" stroke-width="0.9"/>
<text x="440.5" y="77.0" font-size="12.70" font-weight="bold" fill="#262626" text-anchor="start" textLength="13.2" lengthAdjust="spacingAndGlyphs" stroke="#262626" stroke-width="0.30" stroke-linejoin="round">W</text>
<text x="105.0" y="341.5" font-size="24.30" font-weight="bold" fill="#262626" stroke="#262626" stroke-width="0.45" stroke-linejoin="round" textLength="119.3" lengthAdjust="spacingAndGlyphs">SAT+RAP</text>
<text x="232.3" y="341.5" font-size="24.30" font-weight="bold" fill="#262626" stroke="#262626" stroke-width="0.45" stroke-linejoin="round" textLength="115.7" lengthAdjust="spacingAndGlyphs">Negative</text>
<text x="356.0" y="341.5" font-size="24.30" font-weight="bold" fill="#262626" stroke="#262626" stroke-width="0.45" stroke-linejoin="round" textLength="75.2" lengthAdjust="spacingAndGlyphs">Lifted</text>
<text x="439.2" y="341.5" font-size="24.30" font-weight="bold" fill="#262626" stroke="#262626" stroke-width="0.45" stroke-linejoin="round" textLength="71.5" lengthAdjust="spacingAndGlyphs">Index</text>
<rect x="616.20" y="96.00" width="234.30" height="213.40" fill="none" stroke="#1c1c1c" stroke-width="1.05"/>
<g transform="translate(850.50 96.00)">
<path d="M-54.2 1.6h0M-51.7 1.8h0M-48.8 1.3h0M-46.5 1.7h0M-43.9 1.8h0M-41.2 1.6h0M-38.5 1.4h0M-36.1 1.4h0M-33.3 1.6h0M-31.0 1.8h0M-28.2 1.4h0M-25.6 1.8h0M-20.1 1.8h0M-17.6 1.5h0M-15.1 1.8h0M-12.4 1.6h0M-10.1 1.4h0M-7.3 1.6h0M-5.1 1.7h0M-55.2 3.9h0M-52.9 3.9h0M-50.5 3.8h0M-47.6 3.7h0M-45.3 3.7h0M-42.6 3.9h0M-40.1 3.5h0M-37.4 3.9h0M-34.5 3.9h0M-31.8 3.7h0M-29.8 3.8h0M-26.9 3.6h0M-24.2 3.7h0M-21.9 3.7h0M-18.8 3.5h0M-16.6 3.7h0M-14.1 3.7h0M-11.5 4.0h0M-8.7 3.9h0M-6.3 3.8h0M-3.4 4.0h0M-53.9 6.1h0M-51.5 6.0h0M-48.9 5.9h0M-46.4 6.0h0M-43.9 5.8h0M-41.4 6.1h0M-35.8 5.9h0M-33.1 6.1h0M-30.9 6.3h0M-28.0 5.9h0M-25.8 6.1h0M-22.8 6.1h0M-20.2 6.0h0M-17.7 5.9h0M-15.3 6.0h0M-12.7 6.0h0M-9.8 5.8h0M-7.6 5.9h0M-4.5 6.1h0M-2.5 6.2h0M-53.2 8.2h0M-50.6 8.1h0M-47.9 8.4h0M-45.2 8.1h0M-42.7 8.2h0M-39.7 8.4h0M-37.5 8.4h0M-34.7 8.3h0M-26.8 8.3h0M-24.2 8.2h0M-21.8 8.3h0M-19.0 8.2h0M-16.2 8.3h0M-13.7 8.4h0M-6.0 8.5h0M-3.3 8.1h0M-1.2 8.1h0M-51.3 10.3h0M-49.2 10.8h0M-46.4 10.4h0M-43.6 10.5h0M-41.2 10.5h0M-38.8 10.3h0M-35.9 10.8h0M-25.5 10.7h0M-23.3 10.4h0M-20.4 10.7h0M-17.6 10.7h0M-15.3 10.5h0M-4.9 10.4h0M-2.3 10.6h0M0.2 10.6h0M-50.3 12.8h0M-47.8 12.7h0M-44.8 12.7h0M-42.5 12.8h0M-40.1 12.8h0M-37.5 12.7h0M-34.8 12.7h0M-21.6 12.6h0M-19.2 13.0h0M-16.2 12.9h0M-14.1 12.8h0M-6.0 12.9h0M-3.4 12.8h0M-0.6 12.8h0M-48.9 15.0h0M-46.5 14.8h0M-43.6 15.3h0M-41.3 15.4h0M-38.4 14.9h0M-35.8 15.0h0M-33.5 15.0h0M-30.9 14.8h0M-28.5 14.9h0M-17.7 15.4h0M-15.4 14.9h0M-12.4 15.3h0M-9.7 15.1h0M-7.5 14.9h0M-4.6 15.3h0M-2.2 15.3h0M0.3 15.1h0M-48.0 17.6h0M-45.1 17.4h0M-42.3 17.6h0M-39.9 17.4h0M-37.1 17.3h0M-29.4 17.7h0M-19.0 17.6h0M-16.4 17.3h0M-14.0 17.1h0M-11.5 17.1h0M-8.4 17.1h0M-6.0 17.1h0M-3.2 17.4h0M-1.1 17.6h0M-46.6 19.3h0M-43.7 19.5h0M-41.4 19.6h0M-38.7 19.5h0M-36.0 19.6h0M-30.6 19.5h0M-28.0 19.5h0M-23.1 19.9h0M-14.9 19.4h0M-12.8 19.6h0M-9.8 19.7h0M-7.1 19.8h0M-4.8 19.9h0M-2.3 19.4h0M-47.5 22.0h0M-44.8 22.1h0M-42.4 21.9h0M-40.1 21.9h0M-37.3 21.7h0M-34.9 21.8h0M-32.3 22.0h0M-29.6 22.2h0M-26.8 21.9h0M-24.3 21.8h0M-16.4 21.7h0M-13.9 21.7h0M-11.4 21.9h0M-8.9 21.7h0M-6.0 21.9h0M-3.3 21.7h0M-1.1 22.1h0M-46.6 24.0h0M-43.5 24.4h0M-41.1 24.1h0M-38.9 24.3h0M-36.2 24.0h0M-33.4 24.4h0M-31.0 23.9h0M-28.0 23.8h0M-25.5 23.9h0M-23.1 24.0h0M-20.4 24.4h0M-17.6 24.2h0M-12.7 24.3h0M-9.8 23.9h0M-7.5 24.4h0M-5.0 23.9h0M-2.3 24.4h0M0.3 24.3h0M-45.0 26.6h0M-42.6 26.6h0M-39.9 26.1h0M-37.5 26.1h0M-34.9 26.7h0M-32.0 26.6h0M-29.3 26.3h0M-26.8 26.5h0M-19.1 26.5h0M-16.4 26.6h0M-14.0 26.3h0M-11.2 26.1h0M-8.5 26.3h0M-6.2 26.3h0M-3.4 26.2h0M-1.1 26.1h0M-43.6 28.8h0M-41.4 28.4h0M-38.3 28.8h0M-35.9 28.5h0M-33.2 28.7h0M-31.0 28.5h0M-27.9 28.7h0M-25.8 28.4h0M-22.8 28.6h0M-18.0 28.7h0M-15.2 28.5h0M-12.8 28.6h0M-10.2 28.4h0M-7.4 28.4h0M-4.7 28.8h0M0.2 28.6h0M-42.5 30.9h0M-39.8 31.0h0M-37.0 31.1h0M-34.8 31.1h0M-32.3 30.9h0M-29.5 31.1h0M-27.2 30.7h0M-24.5 31.0h0M-18.9 30.9h0M-16.7 31.0h0M-14.0 30.9h0M-11.5 31.0h0M-8.8 31.2h0M-6.1 31.0h0M-41.4 33.4h0M-38.9 33.4h0M-36.2 33.1h0M-33.3 32.9h0M-30.8 33.4h0M-25.9 33.5h0M-23.2 33.3h0M-20.3 33.1h0M-17.8 33.3h0M-15.4 33.0h0M-12.3 33.0h0M-10.0 33.2h0M-7.2 33.4h0M-4.6 33.3h0M-2.2 32.9h0M-39.7 35.2h0M-37.0 35.7h0M-34.7 35.5h0M-29.8 35.7h0M-26.7 35.4h0M-24.2 35.4h0M-21.6 35.2h0M-18.9 35.3h0M-16.4 35.5h0M-13.7 35.5h0M-11.5 35.6h0M-8.8 35.5h0M-5.9 35.7h0M-3.7 35.4h0M-41.1 37.9h0M-38.6 37.5h0M-33.4 38.0h0M-30.9 37.7h0M-28.1 37.8h0M-25.7 37.7h0M-22.8 37.8h0M-20.6 37.8h0M-17.6 37.8h0M-15.0 37.6h0M-12.7 37.9h0M-10.1 37.5h0M-7.6 37.9h0M-4.6 37.5h0M-2.1 37.5h0M-39.9 39.9h0M-37.3 39.9h0M-34.5 40.0h0M-32.0 40.0h0M-29.5 39.8h0M-26.8 39.9h0M-24.4 40.0h0M-21.9 40.1h0M-18.9 39.9h0M-16.7 40.3h0M-13.8 39.9h0M-8.9 40.2h0M-6.0 39.8h0M-3.6 39.7h0M-1.1 40.0h0M-38.8 42.2h0M-36.0 42.3h0M-33.6 42.1h0M-31.0 42.3h0M-28.3 42.5h0M-25.4 42.4h0M-23.1 42.4h0M-20.4 42.4h0M-17.5 42.0h0M-15.0 42.5h0M-12.7 42.1h0M-10.3 42.5h0M-7.6 41.9h0M-5.0 42.2h0M-2.1 42.5h0M-37.3 44.2h0M-34.7 44.8h0M-32.1 44.6h0M-29.6 44.8h0M-26.9 44.7h0M-24.2 44.7h0M-21.8 44.8h0M-18.8 44.7h0M-16.3 44.4h0M-14.0 44.7h0M-11.1 44.6h0M-8.7 44.2h0M-0.8 44.3h0M-35.8 46.7h0M-33.4 47.0h0M-30.6 47.1h0M-28.1 46.8h0M-25.6 46.9h0M-22.9 46.5h0M-20.4 46.9h0M-17.9 47.0h0M-10.0 46.7h0M-7.5 46.5h0M-4.6 46.6h0M-2.3 46.6h0M-35.0 48.8h0M-32.0 48.8h0M-29.8 49.0h0M-27.2 48.9h0M-24.2 48.9h0M-21.5 48.9h0M-19.2 49.0h0M-16.3 48.8h0M-13.7 48.8h0M-11.0 49.1h0M-8.5 49.0h0M-0.7 48.9h0M-33.5 51.0h0M-31.0 51.4h0M-28.2 51.5h0M-25.6 51.2h0M-23.1 51.1h0M-20.4 51.4h0M-18.0 51.3h0M-14.9 51.4h0M-12.7 51.4h0M-10.2 51.1h0M-7.2 51.4h0M-4.7 51.3h0M-2.3 51.5h0M-32.2 53.6h0M-29.7 53.6h0M-27.0 53.4h0M-24.1 53.7h0M-21.7 53.4h0M-19.1 53.6h0M-16.3 53.6h0M-14.2 53.3h0M-8.7 53.3h0M-5.9 53.7h0M-3.6 53.4h0M-1.2 53.4h0M-33.2 55.7h0M-31.0 55.5h0M-28.2 55.8h0M-25.8 55.9h0M-23.2 56.1h0M-20.1 55.7h0M-18.1 55.6h0M-15.2 55.7h0M-12.4 55.8h0M-10.1 55.6h0M-7.1 56.0h0M-4.7 55.6h0M-2.2 56.0h0M-32.0 57.9h0M-29.6 58.3h0M-26.9 58.2h0M-24.3 58.0h0M-22.0 58.3h0M-18.9 58.2h0M-16.7 58.2h0M-13.8 57.9h0M-11.4 58.3h0M-8.8 58.1h0M-6.4 57.8h0M-3.8 58.0h0M-0.6 58.1h0M-30.7 60.5h0M-28.4 60.4h0M-25.9 60.1h0M-22.9 60.0h0M-20.5 60.2h0M-17.6 60.2h0M-15.4 60.4h0M-12.8 60.6h0M-7.3 60.1h0M-5.0 60.5h0M-2.2 60.5h0M0.2 60.4h0M-29.3 62.8h0M-26.6 62.4h0M-24.0 62.5h0M-21.7 62.4h0M-19.2 62.6h0M-16.5 62.5h0M-13.9 62.6h0M-11.5 62.7h0M-8.8 62.3h0M-6.3 62.6h0M-3.4 62.3h0M-0.7 62.3h0M-28.5 64.8h0M-25.8 64.8h0M-22.7 65.1h0M-20.2 65.1h0M-17.9 65.0h0M-15.1 65.1h0M-12.7 65.1h0M-10.2 64.9h0M-7.1 65.0h0M-4.6 64.7h0M-2.3 64.9h0M-26.8 67.3h0M-24.5 67.2h0M-21.7 66.9h0M-19.2 66.9h0M-16.3 67.2h0M-13.9 67.3h0M-11.1 67.1h0M-9.0 67.2h0M-6.3 67.2h0M-3.7 67.3h0M-0.7 66.9h0M-25.8 69.2h0M-22.9 69.6h0M-20.5 69.4h0M-17.5 69.4h0M-15.3 69.6h0M-12.5 69.3h0M-9.8 69.2h0M-7.6 69.2h0M-4.9 69.6h0M-2.3 69.1h0M0.2 69.6h0M-26.6 71.4h0M-24.2 71.5h0M-21.8 71.8h0M-19.4 71.9h0M-16.4 71.9h0M-13.7 71.7h0M-11.4 71.4h0M-8.5 71.8h0M-6.2 71.5h0M-3.2 71.5h0M-1.1 71.5h0M-25.3 73.7h0M-23.1 73.7h0M-20.3 73.9h0M-17.6 74.2h0M-15.0 73.8h0M-12.5 74.2h0M-10.0 73.9h0M-7.1 74.0h0M-5.1 73.9h0M-2.4 73.6h0M-24.5 76.2h0M-21.5 76.0h0M-18.9 75.9h0M-16.6 75.9h0M-14.1 76.3h0M-11.0 76.3h0M-8.9 76.2h0M-6.0 76.0h0M-3.8 76.4h0M-0.6 76.1h0M-23.2 78.7h0M-20.7 78.3h0M-18.1 78.5h0M-15.0 78.5h0M-12.7 78.6h0M-9.9 78.6h0M-7.3 78.3h0M-5.1 78.3h0M-2.4 78.6h0M-21.7 80.9h0M-19.1 80.9h0M-16.6 80.4h0M-13.7 80.6h0M-11.4 80.8h0M-8.4 80.7h0M-6.1 80.5h0M-3.8 80.6h0M-1.1 80.7h0M-20.3 82.9h0M-18.0 82.7h0M-15.4 82.9h0M-12.4 83.2h0M-10.2 83.1h0M-7.5 82.9h0M-4.6 83.0h0M-2.2 83.2h0M0.3 82.8h0M-21.6 85.3h0M-19.2 85.1h0M-16.8 85.0h0M-14.0 85.1h0M-11.5 85.4h0M-8.9 85.2h0M-6.3 85.2h0M-3.8 85.0h0M-0.7 85.3h0M-20.4 87.2h0M-18.0 87.2h0M-15.2 87.3h0M-12.7 87.3h0M-9.7 87.6h0M-7.7 87.6h0M-5.0 87.7h0M-2.2 87.6h0M0.4 87.6h0M-18.9 89.9h0M-16.2 90.0h0M-13.8 89.8h0M-11.1 90.0h0M-8.8 89.9h0M-6.1 89.8h0M-3.6 89.8h0M-0.9 89.6h0M-17.7 91.9h0M-15.4 91.7h0M-12.7 91.9h0M-9.8 92.0h0M-7.1 92.1h0M-4.9 92.0h0M-2.0 91.8h0M0.2 91.8h0M-16.7 94.5h0M-14.2 94.3h0M-11.4 94.2h0M-8.5 94.2h0M-6.0 94.5h0M-3.3 94.4h0M-0.6 94.5h0M-15.0 96.8h0M-12.6 96.8h0M-10.1 96.6h0M-7.3 96.8h0M-4.7 96.4h0M-2.2 96.7h0M-13.8 98.5h0M-11.2 99.0h0M-8.5 98.9h0M-6.3 98.7h0M-3.6 99.1h0M-0.7 98.8h0M-12.8 100.8h0M-9.9 101.0h0M-7.2 100.9h0M-4.6 101.2h0M-2.1 101.3h0M0.2 101.1h0M-13.8 103.2h0M-11.0 103.3h0M-9.0 103.4h0M-5.9 103.0h0M-3.4 103.2h0M-1.1 103.3h0M-12.5 105.6h0M-10.1 105.5h0M-7.5 105.6h0M-5.0 105.8h0M-2.3 105.3h0M0.4 105.9h0M-11.2 107.5h0M-8.6 107.6h0M-5.8 107.9h0M-3.5 107.6h0M-1.2 107.8h0M-9.8 109.8h0M-7.6 110.4h0M-4.5 110.0h0M-2.5 110.3h0M0.4 110.4h0M-8.8 112.4h0M-6.2 112.6h0M-3.2 112.3h0M-1.1 112.5h0M-7.7 114.4h0M-4.7 114.7h0M-2.4 114.4h0M-6.2 116.8h0M-3.3 116.7h0" stroke="#0000b2" stroke-width="6.2" stroke-linecap="round" fill="none"/><path d="M-11.0 8.4h0M-8.7 8.3h0M-12.4 10.9h0M-10.0 10.4h0M-7.3 10.6h0M-11.4 13.0h0M-8.9 12.7h0M-34.5 17.1h0M-31.9 17.4h0M-33.4 19.9h0" stroke="#0000e6" stroke-width="6.2" stroke-linecap="round" fill="none"/><path d="M-32.1 8.4h0M-29.3 8.3h0M-33.1 10.7h0M-30.5 10.5h0M-28.3 10.8h0M-31.8 12.7h0M-29.6 12.9h0M-27.0 12.8h0M-24.2 12.6h0M-25.7 14.9h0M-23.2 15.3h0M-20.5 15.1h0M-27.1 17.3h0M-24.1 17.5h0M-21.7 17.5h0M-25.3 19.4h0" stroke="#001aff" stroke-width="6.2" stroke-linecap="round" fill="none"/><path d="M-20.3 19.7h0M-18.0 19.4h0M-21.9 22.2h0M-18.9 22.0h0" stroke="#0033ff" stroke-width="6.2" stroke-linecap="round" fill="none"/><path d="M-15.1 47.0h0M-12.7 46.9h0" stroke="#0066ff" stroke-width="6.2" stroke-linecap="round" fill="none"/><path d="M-23.0 1.6h0M-2.0 1.7h0M-1.1 3.8h0" stroke="#0099ff" stroke-width="6.2" stroke-linecap="round" fill="none"/><path d="M-1.0 35.7h0" stroke="#00b2ff" stroke-width="6.2" stroke-linecap="round" fill="none"/><path d="M-15.4 23.9h0" stroke="#00ccff" stroke-width="6.2" stroke-linecap="round" fill="none"/><path d="M-38.7 5.8h0M-11.5 40.0h0" stroke="#00e5ff" stroke-width="6.2" stroke-linecap="round" fill="none"/><path d="M-2.1 28.9h0M-3.2 31.2h0M-1.2 31.2h0M-35.8 37.5h0M-11.0 53.6h0" stroke="#00ffff" stroke-width="6.2" stroke-linecap="round" fill="none"/><path d="M-24.2 26.2h0M-21.5 26.2h0" stroke="#1affe5" stroke-width="6.2" stroke-linecap="round" fill="none"/><path d="M-21.9 31.0h0" stroke="#80ff80" stroke-width="6.2" stroke-linecap="round" fill="none"/><path d="M-32.2 35.2h0" stroke="#e5ff1a" stroke-width="6.2" stroke-linecap="round" fill="none"/><path d="M-20.4 28.5h0M-9.7 60.6h0" stroke="#ffff00" stroke-width="6.2" stroke-linecap="round" fill="none"/><path d="M-6.0 49.1h0" stroke="#ffe500" stroke-width="6.2" stroke-linecap="round" fill="none"/><path d="M-28.3 33.0h0M-3.7 48.8h0" stroke="#ff9900" stroke-width="6.2" stroke-linecap="round" fill="none"/><path d="M-6.1 44.2h0M-3.5 44.3h0" stroke="#ff1a00" stroke-width="6.2" stroke-linecap="round" fill="none"/>
</g>
<use href="#st" transform="translate(616.20 96.00) scale(1.00171 1.00047)" fill="none" stroke="#000" stroke-width="2.9" stroke-linejoin="round" stroke-linecap="round"/>
<rect x="862.20" y="93.20" width="23.80" height="219.60" fill="url(#jet)" stroke="#262626" stroke-width="0.6"/>
<path d="M886.0 149.6h-2.2" stroke="#262626" stroke-width="0.8"/>
<text x="894.6" y="156.9" font-size="21.20" font-weight="bold" fill="#262626" text-anchor="start" textLength="27.8" lengthAdjust="spacingAndGlyphs" stroke="#262626" stroke-width="0.40" stroke-linejoin="round">20</text>
<path d="M886.0 231.0h-2.2" stroke="#262626" stroke-width="0.8"/>
<text x="894.6" y="238.3" font-size="21.20" font-weight="bold" fill="#262626" text-anchor="start" textLength="27.8" lengthAdjust="spacingAndGlyphs" stroke="#262626" stroke-width="0.40" stroke-linejoin="round">10</text>
<path d="M886.0 312.4h-2.2" stroke="#262626" stroke-width="0.8"/>
<text x="894.6" y="319.7" font-size="21.20" font-weight="bold" fill="#262626" text-anchor="start" textLength="13.9" lengthAdjust="spacingAndGlyphs" stroke="#262626" stroke-width="0.40" stroke-linejoin="round">0</text>
<text x="567.4" y="112.6" font-size="12.70" font-weight="bold" fill="#262626" text-anchor="start" textLength="16.7" lengthAdjust="spacingAndGlyphs" stroke="#262626" stroke-width="0.30" stroke-linejoin="round">48</text>
<text x="596.3" y="112.6" font-size="12.70" font-weight="bold" fill="#262626" text-anchor="start" textLength="9.8" lengthAdjust="spacingAndGlyphs" stroke="#262626" stroke-width="0.30" stroke-linejoin="round">N</text>
<ellipse cx="588.5" cy="99.8" rx="1.7" ry="1.2" fill="none" stroke="#262626" stroke-width="0.95"/>
<text x="567.4" y="130.6" font-size="12.70" font-weight="bold" fill="#262626" text-anchor="start" textLength="16.7" lengthAdjust="spacingAndGlyphs" stroke="#262626" stroke-width="0.30" stroke-linejoin="round">46</text>
<text x="596.3" y="130.6" font-size="12.70" font-weight="bold" fill="#262626" text-anchor="start" textLength="9.8" lengthAdjust="spacingAndGlyphs" stroke="#262626" stroke-width="0.30" stroke-linejoin="round">N</text>
<ellipse cx="588.5" cy="117.7" rx="1.7" ry="1.2" fill="none" stroke="#262626" stroke-width="0.95"/>
<text x="567.4" y="147.7" font-size="12.70" font-weight="bold" fill="#262626" text-anchor="start" textLength="16.7" lengthAdjust="spacingAndGlyphs" stroke="#262626" stroke-width="0.30" stroke-linejoin="round">44</text>
<text x="596.3" y="147.7" font-size="12.70" font-weight="bold" fill="#262626" text-anchor="start" textLength="9.8" lengthAdjust="spacingAndGlyphs" stroke="#262626" stroke-width="0.30" stroke-linejoin="round">N</text>
<ellipse cx="588.5" cy="134.8" rx="1.7" ry="1.2" fill="none" stroke="#262626" stroke-width="0.95"/>
<text x="567.4" y="166.3" font-size="12.70" font-weight="bold" fill="#262626" text-anchor="start" textLength="16.7" lengthAdjust="spacingAndGlyphs" stroke="#262626" stroke-width="0.30" stroke-linejoin="round">42</text>
<text x="596.3" y="166.3" font-size="12.70" font-weight="bold" fill="#262626" text-anchor="start" textLength="9.8" lengthAdjust="spacingAndGlyphs" stroke="#262626" stroke-width="0.30" stroke-linejoin="round">N</text>
<ellipse cx="588.5" cy="153.5" rx="1.7" ry="1.2" fill="none" stroke="#262626" stroke-width="0.95"/>
<text x="567.4" y="182.3" font-size="12.70" font-weight="bold" fill="#262626" text-anchor="start" textLength="16.7" lengthAdjust="spacingAndGlyphs" stroke="#262626" stroke-width="0.30" stroke-linejoin="round">40</text>
<text x="596.3" y="182.3" font-size="12.70" font-weight="bold" fill="#262626" text-anchor="start" textLength="9.8" lengthAdjust="spacingAndGlyphs" stroke="#262626" stroke-width="0.30" stroke-linejoin="round">N</text>
<ellipse cx="588.5" cy="169.5" rx="1.7" ry="1.2" fill="none" stroke="#262626" stroke-width="0.95"/>
<text x="567.4" y="197.7" font-size="12.70" font-weight="bold" fill="#262626" text-anchor="start" textLength="16.7" lengthAdjust="spacingAndGlyphs" stroke="#262626" stroke-width="0.30" stroke-linejoin="round">38</text>
<text x="596.3" y="197.7" font-size="12.70" font-weight="bold" fill="#262626" text-anchor="start" textLength="9.8" lengthAdjust="spacingAndGlyphs" stroke="#262626" stroke-width="0.30" stroke-linejoin="round">N</text>
<ellipse cx="588.5" cy="184.8" rx="1.7" ry="1.2" fill="none" stroke="#262626" stroke-width="0.95"/>
<text x="567.4" y="214.7" font-size="12.70" font-weight="bold" fill="#262626" text-anchor="start" textLength="16.7" lengthAdjust="spacingAndGlyphs" stroke="#262626" stroke-width="0.30" stroke-linejoin="round">36</text>
<text x="596.3" y="214.7" font-size="12.70" font-weight="bold" fill="#262626" text-anchor="start" textLength="9.8" lengthAdjust="spacingAndGlyphs" stroke="#262626" stroke-width="0.30" stroke-linejoin="round">N</text>
<ellipse cx="588.5" cy="201.8" rx="1.7" ry="1.2" fill="none" stroke="#262626" stroke-width="0.95"/>
<text x="567.4" y="228.8" font-size="12.70" font-weight="bold" fill="#262626" text-anchor="start" textLength="16.7" lengthAdjust="spacingAndGlyphs" stroke="#262626" stroke-width="0.30" stroke-linejoin="round">34</text>
<text x="596.3" y="228.8" font-size="12.70" font-weight="bold" fill="#262626" text-anchor="start" textLength="9.8" lengthAdjust="spacingAndGlyphs" stroke="#262626" stroke-width="0.30" stroke-linejoin="round">N</text>
<ellipse cx="588.5" cy="215.9" rx="1.7" ry="1.2" fill="none" stroke="#262626" stroke-width="0.95"/>
<text x="567.4" y="245.4" font-size="12.70" font-weight="bold" fill="#262626" text-anchor="start" textLength="16.7" lengthAdjust="spacingAndGlyphs" stroke="#262626" stroke-width="0.30" stroke-linejoin="round">32</text>
<text x="596.3" y="245.4" font-size="12.70" font-weight="bold" fill="#262626" text-anchor="start" textLength="9.8" lengthAdjust="spacingAndGlyphs" stroke="#262626" stroke-width="0.30" stroke-linejoin="round">N</text>
<ellipse cx="588.5" cy="232.6" rx="1.7" ry="1.2" fill="none" stroke="#262626" stroke-width="0.95"/>
<text x="567.4" y="259.6" font-size="12.70" font-weight="bold" fill="#262626" text-anchor="start" textLength="16.7" lengthAdjust="spacingAndGlyphs" stroke="#262626" stroke-width="0.30" stroke-linejoin="round">30</text>
<text x="596.3" y="259.6" font-size="12.70" font-weight="bold" fill="#262626" text-anchor="start" textLength="9.8" lengthAdjust="spacingAndGlyphs" stroke="#262626" stroke-width="0.30" stroke-linejoin="round">N</text>
<ellipse cx="588.5" cy="246.7" rx="1.7" ry="1.2" fill="none" stroke="#262626" stroke-width="0.95"/>
<text x="567.4" y="272.9" font-size="12.70" font-weight="bold" fill="#262626" text-anchor="start" textLength="16.7" lengthAdjust="spacingAndGlyphs" stroke="#262626" stroke-width="0.30" stroke-linejoin="round">28</text>
<text x="596.3" y="272.9" font-size="12.70" font-weight="bold" fill="#262626" text-anchor="start" textLength="9.8" lengthAdjust="spacingAndGlyphs" stroke="#262626" stroke-width="0.30" stroke-linejoin="round">N</text>
<ellipse cx="588.5" cy="260.0" rx="1.7" ry="1.2" fill="none" stroke="#262626" stroke-width="0.95"/>
<text x="567.4" y="287.7" font-size="12.70" font-weight="bold" fill="#262626" text-anchor="start" textLength="16.7" lengthAdjust="spacingAndGlyphs" stroke="#262626" stroke-width="0.30" stroke-linejoin="round">26</text>
<text x="596.3" y="287.7" font-size="12.70" font-weight="bold" fill="#262626" text-anchor="start" textLength="9.8" lengthAdjust="spacingAndGlyphs" stroke="#262626" stroke-width="0.30" stroke-linejoin="round">N</text>
<ellipse cx="588.5" cy="274.8" rx="1.7" ry="1.2" fill="none" stroke="#262626" stroke-width="0.95"/>
<text x="567.4" y="301.6" font-size="12.70" font-weight="bold" fill="#262626" text-anchor="start" textLength="16.7" lengthAdjust="spacingAndGlyphs" stroke="#262626" stroke-width="0.30" stroke-linejoin="round">24</text>
<text x="596.3" y="301.6" font-size="12.70" font-weight="bold" fill="#262626" text-anchor="start" textLength="9.8" lengthAdjust="spacingAndGlyphs" stroke="#262626" stroke-width="0.30" stroke-linejoin="round">N</text>
<ellipse cx="588.5" cy="288.7" rx="1.7" ry="1.2" fill="none" stroke="#262626" stroke-width="0.95"/>
<text x="567.4" y="314.7" font-size="12.70" font-weight="bold" fill="#262626" text-anchor="start" textLength="16.7" lengthAdjust="spacingAndGlyphs" stroke="#262626" stroke-width="0.30" stroke-linejoin="round">22</text>
<text x="596.3" y="314.7" font-size="12.70" font-weight="bold" fill="#262626" text-anchor="start" textLength="9.8" lengthAdjust="spacingAndGlyphs" stroke="#262626" stroke-width="0.30" stroke-linejoin="round">N</text>
<ellipse cx="588.5" cy="301.8" rx="1.7" ry="1.2" fill="none" stroke="#262626" stroke-width="0.95"/>
<text x="636.6" y="77.0" font-size="12.70" font-weight="bold" fill="#262626" text-anchor="start" textLength="25.1" lengthAdjust="spacingAndGlyphs" stroke="#262626" stroke-width="0.30" stroke-linejoin="round">100</text>
<ellipse cx="666.0" cy="64.0" rx="1.65" ry="1.3" fill="none" stroke="#262626" stroke-width="0.9"/>
<text x="673.7" y="77.0" font-size="12.70" font-weight="bold" fill="#262626" text-anchor="start" textLength="13.2" lengthAdjust="spacingAndGlyphs" stroke="#262626" stroke-width="0.30" stroke-linejoin="round">W</text>
<text x="705.3" y="77.0" font-size="12.70" font-weight="bold" fill="#262626" text-anchor="start" textLength="16.7" lengthAdjust="spacingAndGlyphs" stroke="#262626" stroke-width="0.30" stroke-linejoin="round">90</text>
<ellipse cx="726.3" cy="64.0" rx="1.65" ry="1.3" fill="none" stroke="#262626" stroke-width="0.9"/>
<text x="734.0" y="77.0" font-size="12.70" font-weight="bold" fill="#262626" text-anchor="start" textLength="13.2" lengthAdjust="spacingAndGlyphs" stroke="#262626" stroke-width="0.30" stroke-linejoin="round">W</text>
<text x="769.5" y="77.0" font-size="12.70" font-weight="bold" fill="#262626" text-anchor="start" textLength="16.7" lengthAdjust="spacingAndGlyphs" stroke="#262626" stroke-width="0.30" stroke-linejoin="round">80</text>
<ellipse cx="790.5" cy="64.0" rx="1.65" ry="1.3" fill="none" stroke="#262626" stroke-width="0.9"/>
<text x="798.2" y="77.0" font-size="12.70" font-weight="bold" fill="#262626" text-anchor="start" textLength="13.2" lengthAdjust="spacingAndGlyphs" stroke="#262626" stroke-width="0.30" stroke-linejoin="round">W</text>
<text x="832.9" y="77.0" font-size="12.70" font-weight="bold" fill="#262626" text-anchor="start" textLength="16.7" lengthAdjust="spacingAndGlyphs" stroke="#262626" stroke-width="0.30" stroke-linejoin="round">70</text>
<ellipse cx="853.9" cy="64.0" rx="1.65" ry="1.3" fill="none" stroke="#262626" stroke-width="0.9"/>
<text x="861.6" y="77.0" font-size="12.70" font-weight="bold" fill="#262626" text-anchor="start" textLength="13.2" lengthAdjust="spacingAndGlyphs" stroke="#262626" stroke-width="0.30" stroke-linejoin="round">W</text>
<text x="631.0" y="341.5" font-size="24.30" font-weight="bold" fill="#262626" stroke="#262626" stroke-width="0.45" stroke-linejoin="round" textLength="119.8" lengthAdjust="spacingAndGlyphs">SAT+RAP</text>
<text x="758.8" y="341.5" font-size="24.30" font-weight="bold" fill="#262626" stroke="#262626" stroke-width="0.45" stroke-linejoin="round" textLength="67.2" lengthAdjust="spacingAndGlyphs">CAPE</text>
<rect x="1037.10" y="95.30" width="235.40" height="215.10" fill="none" stroke="#1c1c1c" stroke-width="1.05"/>
<g transform="translate(1272.50 95.30)">
<path d="M-56.0 -0.0h0M-48.5 -0.1h0M-43.7 -0.2h0M-41.3 0.3h0M-39.3 0.0h0M-37.1 0.2h0M-34.2 -0.3h0M-15.7 -0.3h0M-13.1 -0.1h0M-10.6 0.2h0M-8.4 -0.3h0M-6.3 -0.0h0M-3.8 0.2h0M-54.4 2.4h0M-52.3 2.2h0M-47.6 2.4h0M-45.1 2.0h0M-43.1 1.9h0M-40.2 1.9h0M-37.8 2.2h0M-35.5 1.9h0M-33.4 2.0h0M-16.4 1.9h0M-14.1 2.3h0M-11.7 2.3h0M-9.2 2.3h0M-7.1 1.8h0M-4.5 2.0h0M0.2 2.1h0M-51.1 4.2h0M-41.8 3.8h0M-39.3 4.2h0M-34.5 3.9h0M-15.5 3.8h0M-13.0 4.4h0M-10.6 4.0h0M-8.7 3.8h0M-5.9 3.8h0M-3.3 4.0h0M-1.4 3.9h0M-52.4 6.4h0M-47.5 6.1h0M-42.8 6.0h0M-40.2 5.9h0M-38.3 6.4h0M-35.6 6.1h0M-30.7 6.0h0M-28.6 6.0h0M-26.2 6.0h0M-23.7 5.8h0M-21.4 6.4h0M-19.0 5.8h0M-16.7 6.2h0M-14.2 6.1h0M-12.0 6.0h0M-9.7 6.0h0M-7.4 6.3h0M-4.8 6.0h0M-2.1 5.9h0M0.0 6.1h0M-48.6 8.5h0M-46.2 7.8h0M-44.2 8.2h0M-41.5 7.9h0M-38.9 7.9h0M-36.9 7.9h0M-34.8 7.9h0M-32.4 7.8h0M-27.4 8.0h0M-25.0 8.4h0M-20.1 8.2h0M-17.8 8.2h0M-15.4 8.0h0M-13.1 7.9h0M-3.5 8.0h0M-1.2 8.0h0M-52.0 10.3h0M-50.2 10.3h0M-47.7 10.1h0M-42.6 10.3h0M-40.5 10.4h0M-38.0 10.2h0M-33.5 9.9h0M-28.5 10.5h0M-24.0 10.0h0M-16.8 10.0h0M-14.6 10.5h0M-11.6 10.3h0M-7.0 10.0h0M-4.6 10.0h0M-0.1 10.5h0M-51.3 12.3h0M-48.6 12.2h0M-46.7 11.9h0M-44.0 11.9h0M-41.3 12.2h0M-39.5 11.9h0M-34.6 11.9h0M-32.4 12.1h0M-27.0 12.0h0M-22.7 12.0h0M-19.9 12.3h0M-18.0 11.9h0M-15.5 12.3h0M-13.0 12.4h0M-10.8 12.2h0M-8.5 12.0h0M-6.2 12.4h0M-1.4 11.9h0M-50.0 14.4h0M-47.3 14.4h0M-45.1 14.2h0M-42.7 14.6h0M-40.3 14.1h0M-35.9 14.1h0M-33.4 14.0h0M-28.8 14.2h0M-25.8 14.3h0M-23.8 14.2h0M-21.7 14.3h0M-18.9 14.0h0M-16.9 14.4h0M-12.0 14.5h0M-9.6 14.2h0M-6.8 14.3h0M-4.7 14.0h0M-2.4 14.0h0M-0.3 14.3h0M-48.9 16.2h0M-46.0 16.5h0M-39.4 16.0h0M-36.6 16.1h0M-34.6 16.4h0M-32.0 16.5h0M-30.0 16.3h0M-27.5 16.2h0M-25.3 16.2h0M-22.6 16.4h0M-19.9 16.5h0M-17.7 16.4h0M-15.2 16.2h0M-13.0 16.3h0M-11.0 16.0h0M-8.3 16.5h0M-6.1 16.6h0M-3.4 16.0h0M-1.1 16.6h0M-47.6 18.1h0M-44.9 18.6h0M-42.9 18.1h0M-40.4 18.5h0M-37.8 18.1h0M-35.8 18.4h0M-33.5 18.4h0M-31.1 18.0h0M-28.3 18.6h0M-26.2 18.3h0M-23.5 18.2h0M-19.3 18.1h0M-16.6 18.1h0M-14.2 18.4h0M-11.7 18.0h0M-9.3 18.6h0M-6.9 18.4h0M-4.9 18.5h0M-2.4 18.1h0M-44.3 20.2h0M-41.6 20.5h0M-39.5 20.3h0M-36.9 20.1h0M-34.6 20.5h0M-29.5 20.5h0M-27.6 20.4h0M-24.8 20.7h0M-22.7 20.4h0M-20.0 20.4h0M-17.9 20.6h0M-15.8 20.3h0M-13.0 20.1h0M-11.0 20.4h0M-8.3 20.3h0M-6.2 20.3h0M-3.9 20.6h0M-1.5 20.2h0M-45.0 22.4h0M-42.5 22.5h0M-40.7 22.1h0M-38.1 22.7h0M-35.4 22.3h0M-30.7 22.4h0M-28.2 22.2h0M-26.3 22.4h0M-21.4 22.1h0M-18.7 22.7h0M-17.0 22.6h0M-14.2 22.2h0M-9.7 22.4h0M-7.0 22.3h0M-5.0 22.4h0M0.1 22.3h0M-46.2 24.1h0M-44.0 24.5h0M-41.4 24.1h0M-39.5 24.4h0M-37.2 24.3h0M-34.4 24.7h0M-32.1 24.6h0M-29.4 24.8h0M-25.0 24.6h0M-22.7 24.7h0M-17.9 24.4h0M-10.4 24.3h0M-8.1 24.6h0M-5.7 24.5h0M-3.5 24.3h0M-0.9 24.4h0M-45.1 26.6h0M-38.1 26.6h0M-35.5 26.2h0M-33.0 26.2h0M-28.3 26.5h0M-26.2 26.3h0M-23.9 26.8h0M-19.1 26.6h0M-16.9 26.2h0M-14.1 26.4h0M-11.6 26.2h0M-9.5 26.5h0M-7.1 26.6h0M-4.6 26.7h0M-2.6 26.3h0M0.3 26.3h0M-43.9 28.7h0M-39.5 28.7h0M-36.6 28.2h0M-34.7 28.8h0M-24.9 28.8h0M-22.6 28.3h0M-17.5 28.6h0M-15.6 28.6h0M-13.1 28.3h0M-10.4 28.4h0M-8.0 28.4h0M-3.3 28.5h0M-0.9 28.6h0M-40.3 30.3h0M-35.5 30.3h0M-33.4 30.6h0M-30.9 30.8h0M-28.7 30.4h0M-26.4 30.5h0M-23.4 30.3h0M-18.7 30.4h0M-16.5 30.5h0M-14.1 30.5h0M-11.9 30.7h0M-9.3 30.3h0M-7.5 30.8h0M-4.5 30.3h0M-2.4 30.3h0M0.3 30.8h0M-41.7 32.7h0M-34.8 32.3h0M-32.4 32.6h0M-29.5 32.6h0M-27.7 32.8h0M-24.9 32.8h0M-22.4 32.8h0M-20.5 32.9h0M-18.0 32.3h0M-13.3 32.3h0M-10.8 32.8h0M-8.5 32.9h0M-5.8 32.4h0M-1.2 32.8h0M-40.4 34.9h0M-38.3 34.7h0M-31.2 34.7h0M-28.3 34.5h0M-24.1 34.7h0M-21.4 34.8h0M-18.7 34.7h0M-16.9 34.6h0M-14.0 34.5h0M-11.7 34.3h0M-9.7 34.7h0M-7.4 34.8h0M-39.5 36.5h0M-37.0 36.4h0M-34.2 36.4h0M-32.3 36.8h0M-30.0 36.9h0M-27.2 36.6h0M-25.3 36.5h0M-22.7 36.9h0M-20.3 36.7h0M-17.8 36.6h0M-15.4 36.6h0M-13.3 36.6h0M-10.8 36.6h0M-8.3 36.5h0M-38.1 38.9h0M-35.4 38.6h0M-32.9 38.5h0M-30.7 38.7h0M-28.7 38.6h0M-26.2 38.5h0M-23.8 38.8h0M-21.5 38.4h0M-18.9 38.5h0M-16.6 38.7h0M-14.1 38.6h0M-11.8 38.5h0M-9.8 38.7h0M-7.1 38.4h0M-37.0 41.0h0M-34.3 40.9h0M-32.0 40.7h0M-29.9 40.4h0M-25.1 40.7h0M-22.6 41.0h0M-20.1 40.6h0M-18.0 40.8h0M-13.4 40.8h0M-11.0 40.6h0M-8.5 40.9h0M-38.2 42.6h0M-33.3 42.8h0M-26.3 42.6h0M-23.5 42.5h0M-19.2 42.6h0M-16.7 42.6h0M-14.3 42.5h0M-11.7 42.8h0M-9.3 43.1h0M-7.4 42.8h0M-36.5 44.7h0M-34.2 44.5h0M-32.0 44.8h0M-29.5 44.6h0M-27.3 45.0h0M-22.6 45.1h0M-20.0 44.7h0M-17.8 44.9h0M-15.2 45.0h0M-13.1 44.8h0M-10.7 44.5h0M-35.5 46.6h0M-33.1 46.9h0M-26.3 47.2h0M-21.5 46.8h0M-18.7 46.6h0M-14.3 46.9h0M-12.0 47.2h0M-9.6 47.0h0M-7.2 46.6h0M-34.8 49.2h0M-32.0 48.6h0M-29.5 49.0h0M-27.5 48.6h0M-25.2 48.9h0M-22.3 48.9h0M-20.5 49.2h0M-17.8 49.2h0M-15.1 48.8h0M-12.8 49.2h0M-11.0 48.7h0M-33.4 51.1h0M-31.1 51.2h0M-28.8 50.9h0M-26.1 50.8h0M-23.9 51.0h0M-21.4 51.1h0M-18.7 50.9h0M-16.3 51.0h0M-14.1 51.1h0M-9.4 50.8h0M-7.5 50.6h0M-4.9 50.9h0M-2.1 51.1h0M0.3 50.7h0M-32.0 53.3h0M-29.5 53.3h0M-27.4 53.0h0M-22.3 53.0h0M-20.2 53.0h0M-18.1 52.7h0M-15.6 52.7h0M-12.9 53.2h0M-10.9 53.1h0M-8.2 53.1h0M-6.3 53.0h0M-3.5 53.3h0M-1.0 52.9h0M-31.2 55.0h0M-28.3 54.8h0M-26.1 55.3h0M-23.7 55.1h0M-18.9 54.7h0M-16.9 54.8h0M-14.3 55.2h0M-12.1 54.9h0M-9.7 55.3h0M-7.0 54.8h0M-4.5 55.1h0M-2.3 55.3h0M-0.2 54.8h0M-32.0 57.3h0M-29.8 56.8h0M-27.2 57.0h0M-25.0 57.3h0M-22.8 57.4h0M-20.4 56.8h0M-17.9 57.0h0M-30.6 59.1h0M-28.5 59.1h0M-26.0 59.0h0M-21.5 59.0h0M-19.0 58.7h0M-29.8 61.0h0M-27.1 61.1h0M-24.9 60.8h0M-22.5 61.3h0M-20.4 61.0h0M-17.9 61.4h0M-26.4 63.3h0M-24.0 63.3h0M-21.6 63.3h0M-18.7 63.2h0M-42.4 0.0h0M-46.7 1.4h0M-52.6 2.7h0M-11.9 1.4h0M-7.6 0.0h0M-3.4 1.7h0M-9.3 3.9h0M0.0 55.7h0M-1.4 57.4h0M-4.2 82.0h0M-11.9 77.8h0" stroke="#66ff99" stroke-width="6.0" stroke-linecap="round" fill="none"/><path d="M-53.8 0.3h0M-50.9 0.2h0M-46.7 -0.3h0M-1.1 0.2h0M-50.1 2.0h0M-2.2 2.2h0M-53.3 3.8h0M-48.6 4.2h0M-46.4 3.9h0M-44.2 4.0h0M-37.0 4.3h0M-50.1 6.1h0M-45.0 6.3h0M-33.2 6.3h0M-50.9 8.3h0M-29.5 8.4h0M-22.9 8.3h0M-10.8 8.3h0M-8.2 8.3h0M-5.8 7.9h0M-45.3 10.1h0M-35.7 9.9h0M-30.9 10.4h0M-26.2 10.2h0M-21.5 10.4h0M-19.2 10.0h0M-9.5 10.5h0M-2.7 10.0h0M-36.8 12.5h0M-29.8 11.9h0M-25.0 12.2h0M-3.7 12.0h0M-38.1 14.0h0M-30.9 13.9h0M-14.0 14.5h0M-43.9 16.2h0M-41.4 16.3h0M-21.3 18.7h0M-0.2 18.1h0M-46.0 20.1h0M-31.8 20.7h0M-33.1 22.7h0M-23.7 22.2h0M-11.6 22.7h0M-2.2 22.1h0M-27.6 24.7h0M-20.2 24.7h0M-15.6 24.4h0M-13.4 24.3h0M-42.5 26.2h0M-40.3 26.2h0M-31.1 26.3h0M-21.7 26.4h0M-41.7 28.4h0M-31.8 28.5h0M-29.8 28.3h0M-27.3 28.4h0M-20.5 28.5h0M-5.9 28.3h0M-42.7 30.8h0M-38.2 30.5h0M-21.2 30.7h0M-39.3 32.7h0M-37.0 32.8h0M-15.7 32.5h0M-3.6 32.5h0M-35.9 34.5h0M-33.5 34.6h0M-26.4 34.4h0M-39.1 40.7h0M-27.4 40.5h0M-15.3 40.6h0M-35.6 42.9h0M-31.2 43.1h0M-28.5 42.6h0M-21.3 42.9h0M-24.8 45.0h0M-8.4 44.8h0M-31.0 47.2h0M-28.3 46.8h0M-23.6 47.1h0M-16.6 46.7h0M-8.0 49.0h0M-11.9 50.7h0M-24.8 53.0h0M-21.5 54.9h0M-23.6 59.0h0M-28.7 63.5h0" stroke="#4dffb2" stroke-width="6.0" stroke-linecap="round" fill="none"/><circle cx="-38.2" cy="1.0" r="3.2" fill="#ff2400"/><circle cx="-40.7" cy="5.6" r="2.2" fill="#ff7500"/><circle cx="-36.5" cy="14.9" r="3.6" fill="#ff2400"/><circle cx="-24.1" cy="11.2" r="3.8" fill="#ff2400"/><circle cx="-11.9" cy="9.5" r="3.4" fill="#ff2400"/><circle cx="-8.1" cy="11.2" r="2.6" fill="#ff2400"/><circle cx="-13.6" cy="6.1" r="2.2" fill="#ff7500"/><circle cx="-2.5" cy="7.8" r="3.4" fill="#fff000"/><circle cx="-4.8" cy="12.4" r="3.0" fill="#fff000"/><circle cx="-3.7" cy="15.3" r="3.0" fill="#ff7500"/><circle cx="-0.3" cy="11.2" r="2.4" fill="#ff7500"/><circle cx="0.0" cy="18.0" r="2.2" fill="#fff000"/><circle cx="-28.5" cy="22.8" r="2.4" fill="#ff7500"/><circle cx="-26.1" cy="27.2" r="2.2" fill="#ff7500"/><circle cx="-30.2" cy="31.2" r="1.8" fill="#ff7500"/><circle cx="-20.4" cy="28.9" r="3.0" fill="#004dff"/><circle cx="-19.9" cy="25.1" r="2.0" fill="#fff000"/><circle cx="-23.4" cy="23.4" r="2.4" fill="#d1ff2e"/><circle cx="-10.5" cy="26.1" r="2.6" fill="#ff7500"/><circle cx="0.3" cy="30.2" r="2.4" fill="#00f0ff"/><circle cx="-4.8" cy="41.3" r="1.8" fill="#ff7500"/><circle cx="-31.4" cy="43.0" r="3.0" fill="#d1ff2e"/><circle cx="-26.3" cy="53.1" r="2.8" fill="#ff7500"/><circle cx="-27.5" cy="62.8" r="2.4" fill="#ff7500"/><circle cx="-29.7" cy="16.6" r="2.2" fill="#d1ff2e"/><circle cx="-17.0" cy="17.5" r="2.0" fill="#d1ff2e"/><circle cx="-35.7" cy="34.0" r="1.6" fill="#ff7500"/><circle cx="-7.6" cy="20.0" r="2.0" fill="#d1ff2e"/><circle cx="-13.9" cy="75.2" r="3.2" fill="#ff7500"/><circle cx="-11.0" cy="76.9" r="3.4" fill="#fff000"/><circle cx="-7.6" cy="77.8" r="3.4" fill="#fff000"/><circle cx="-4.2" cy="76.4" r="3.2" fill="#fff000"/><circle cx="-0.8" cy="75.2" r="3.2" fill="#d1ff2e"/><circle cx="0.8" cy="77.8" r="3.0" fill="#d1ff2e"/><circle cx="-9.3" cy="74.0" r="3.0" fill="#ff7500"/><circle cx="-5.9" cy="73.5" r="3.0" fill="#ff7500"/><circle cx="-2.5" cy="72.3" r="3.0" fill="#fff000"/><circle cx="0.3" cy="71.0" r="3.0" fill="#d1ff2e"/><circle cx="-5.1" cy="81.2" r="3.2" fill="#61ff9e"/><circle cx="-2.0" cy="80.3" r="2.8" fill="#d1ff2e"/><path d="M-2.5 88.8h0M0.0 91.3h0M-5.1 92.2h0M-8.5 94.7h0M-12.7 95.6h0M-2.5 95.6h0M0.0 98.1h0M-11.0 99.8h0M-6.8 99.8h0M-3.4 102.4h0M-9.3 104.9h0M-5.4 106.6h0M-8.1 110.0h0M-4.8 110.4h0M-6.5 113.8h0M0.0 87.1h0" stroke="#ff7000" stroke-width="7.4" stroke-linecap="round" fill="none"/><circle cx="-1.2" cy="100.2" r="2.4" fill="#e5ff1a"/>
</g>
<use href="#st" transform="translate(1037.10 95.30) scale(1.00641 1.00844)" fill="none" stroke="#000" stroke-width="2.9" stroke-linejoin="round" stroke-linecap="round"/>
<rect x="1285.20" y="93.20" width="23.60" height="219.50" fill="url(#jet)" stroke="#262626" stroke-width="0.6"/>
<path d="M1308.8 93.6h-2.2" stroke="#262626" stroke-width="0.8"/>
<text x="1317.4" y="100.9" font-size="21.20" font-weight="bold" fill="#262626" text-anchor="start" textLength="55.7" lengthAdjust="spacingAndGlyphs" stroke="#262626" stroke-width="0.40" stroke-linejoin="round">1000</text>
<path d="M1308.8 142.4h-2.2" stroke="#262626" stroke-width="0.8"/>
<text x="1317.4" y="149.7" font-size="21.20" font-weight="bold" fill="#262626" text-anchor="start" textLength="41.8" lengthAdjust="spacingAndGlyphs" stroke="#262626" stroke-width="0.40" stroke-linejoin="round">800</text>
<path d="M1308.8 190.9h-2.2" stroke="#262626" stroke-width="0.8"/>
<text x="1317.4" y="198.2" font-size="21.20" font-weight="bold" fill="#262626" text-anchor="start" textLength="41.8" lengthAdjust="spacingAndGlyphs" stroke="#262626" stroke-width="0.40" stroke-linejoin="round">600</text>
<path d="M1308.8 239.4h-2.2" stroke="#262626" stroke-width="0.8"/>
<text x="1317.4" y="246.7" font-size="21.20" font-weight="bold" fill="#262626" text-anchor="start" textLength="41.8" lengthAdjust="spacingAndGlyphs" stroke="#262626" stroke-width="0.40" stroke-linejoin="round">400</text>
<path d="M1308.8 287.9h-2.2" stroke="#262626" stroke-width="0.8"/>
<text x="1317.4" y="295.2" font-size="21.20" font-weight="bold" fill="#262626" text-anchor="start" textLength="41.8" lengthAdjust="spacingAndGlyphs" stroke="#262626" stroke-width="0.40" stroke-linejoin="round">200</text>
<text x="988.3" y="113.0" font-size="12.70" font-weight="bold" fill="#262626" text-anchor="start" textLength="16.7" lengthAdjust="spacingAndGlyphs" stroke="#262626" stroke-width="0.30" stroke-linejoin="round">48</text>
<text x="1017.2" y="113.0" font-size="12.70" font-weight="bold" fill="#262626" text-anchor="start" textLength="9.8" lengthAdjust="spacingAndGlyphs" stroke="#262626" stroke-width="0.30" stroke-linejoin="round">N</text>
<ellipse cx="1009.4" cy="100.2" rx="1.7" ry="1.2" fill="none" stroke="#262626" stroke-width="0.95"/>
<text x="988.3" y="130.7" font-size="12.70" font-weight="bold" fill="#262626" text-anchor="start" textLength="16.7" lengthAdjust="spacingAndGlyphs" stroke="#262626" stroke-width="0.30" stroke-linejoin="round">46</text>
<text x="1017.2" y="130.7" font-size="12.70" font-weight="bold" fill="#262626" text-anchor="start" textLength="9.8" lengthAdjust="spacingAndGlyphs" stroke="#262626" stroke-width="0.30" stroke-linejoin="round">N</text>
<ellipse cx="1009.4" cy="117.8" rx="1.7" ry="1.2" fill="none" stroke="#262626" stroke-width="0.95"/>
<text x="988.3" y="147.9" font-size="12.70" font-weight="bold" fill="#262626" text-anchor="start" textLength="16.7" lengthAdjust="spacingAndGlyphs" stroke="#262626" stroke-width="0.30" stroke-linejoin="round">44</text>
<text x="1017.2" y="147.9" font-size="12.70" font-weight="bold" fill="#262626" text-anchor="start" textLength="9.8" lengthAdjust="spacingAndGlyphs" stroke="#262626" stroke-width="0.30" stroke-linejoin="round">N</text>
<ellipse cx="1009.4" cy="135.1" rx="1.7" ry="1.2" fill="none" stroke="#262626" stroke-width="0.95"/>
<text x="988.3" y="166.7" font-size="12.70" font-weight="bold" fill="#262626" text-anchor="start" textLength="16.7" lengthAdjust="spacingAndGlyphs" stroke="#262626" stroke-width="0.30" stroke-linejoin="round">42</text>
<text x="1017.2" y="166.7" font-size="12.70" font-weight="bold" fill="#262626" text-anchor="start" textLength="9.8" lengthAdjust="spacingAndGlyphs" stroke="#262626" stroke-width="0.30" stroke-linejoin="round">N</text>
<ellipse cx="1009.4" cy="153.8" rx="1.7" ry="1.2" fill="none" stroke="#262626" stroke-width="0.95"/>
<text x="988.3" y="182.8" font-size="12.70" font-weight="bold" fill="#262626" text-anchor="start" textLength="16.7" lengthAdjust="spacingAndGlyphs" stroke="#262626" stroke-width="0.30" stroke-linejoin="round">40</text>
<text x="1017.2" y="182.8" font-size="12.70" font-weight="bold" fill="#262626" text-anchor="start" textLength="9.8" lengthAdjust="spacingAndGlyphs" stroke="#262626" stroke-width="0.30" stroke-linejoin="round">N</text>
<ellipse cx="1009.4" cy="169.9" rx="1.7" ry="1.2" fill="none" stroke="#262626" stroke-width="0.95"/>
<text x="988.3" y="197.2" font-size="12.70" font-weight="bold" fill="#262626" text-anchor="start" textLength="16.7" lengthAdjust="spacingAndGlyphs" stroke="#262626" stroke-width="0.30" stroke-linejoin="round">38</text>
<text x="1017.2" y="197.2" font-size="12.70" font-weight="bold" fill="#262626" text-anchor="start" textLength="9.8" lengthAdjust="spacingAndGlyphs" stroke="#262626" stroke-width="0.30" stroke-linejoin="round">N</text>
<ellipse cx="1009.4" cy="184.4" rx="1.7" ry="1.2" fill="none" stroke="#262626" stroke-width="0.95"/>
<text x="988.3" y="214.8" font-size="12.70" font-weight="bold" fill="#262626" text-anchor="start" textLength="16.7" lengthAdjust="spacingAndGlyphs" stroke="#262626" stroke-width="0.30" stroke-linejoin="round">36</text>
<text x="1017.2" y="214.8" font-size="12.70" font-weight="bold" fill="#262626" text-anchor="start" textLength="9.8" lengthAdjust="spacingAndGlyphs" stroke="#262626" stroke-width="0.30" stroke-linejoin="round">N</text>
<ellipse cx="1009.4" cy="202.0" rx="1.7" ry="1.2" fill="none" stroke="#262626" stroke-width="0.95"/>
<text x="988.3" y="228.8" font-size="12.70" font-weight="bold" fill="#262626" text-anchor="start" textLength="16.7" lengthAdjust="spacingAndGlyphs" stroke="#262626" stroke-width="0.30" stroke-linejoin="round">34</text>
<text x="1017.2" y="228.8" font-size="12.70" font-weight="bold" fill="#262626" text-anchor="start" textLength="9.8" lengthAdjust="spacingAndGlyphs" stroke="#262626" stroke-width="0.30" stroke-linejoin="round">N</text>
<ellipse cx="1009.4" cy="215.9" rx="1.7" ry="1.2" fill="none" stroke="#262626" stroke-width="0.95"/>
<text x="988.3" y="246.0" font-size="12.70" font-weight="bold" fill="#262626" text-anchor="start" textLength="16.7" lengthAdjust="spacingAndGlyphs" stroke="#262626" stroke-width="0.30" stroke-linejoin="round">32</text>
<text x="1017.2" y="246.0" font-size="12.70" font-weight="bold" fill="#262626" text-anchor="start" textLength="9.8" lengthAdjust="spacingAndGlyphs" stroke="#262626" stroke-width="0.30" stroke-linejoin="round">N</text>
<ellipse cx="1009.4" cy="233.2" rx="1.7" ry="1.2" fill="none" stroke="#262626" stroke-width="0.95"/>
<text x="988.3" y="259.4" font-size="12.70" font-weight="bold" fill="#262626" text-anchor="start" textLength="16.7" lengthAdjust="spacingAndGlyphs" stroke="#262626" stroke-width="0.30" stroke-linejoin="round">30</text>
<text x="1017.2" y="259.4" font-size="12.70" font-weight="bold" fill="#262626" text-anchor="start" textLength="9.8" lengthAdjust="spacingAndGlyphs" stroke="#262626" stroke-width="0.30" stroke-linejoin="round">N</text>
<ellipse cx="1009.4" cy="246.6" rx="1.7" ry="1.2" fill="none" stroke="#262626" stroke-width="0.95"/>
<text x="988.3" y="274.8" font-size="12.70" font-weight="bold" fill="#262626" text-anchor="start" textLength="16.7" lengthAdjust="spacingAndGlyphs" stroke="#262626" stroke-width="0.30" stroke-linejoin="round">28</text>
<text x="1017.2" y="274.8" font-size="12.70" font-weight="bold" fill="#262626" text-anchor="start" textLength="9.8" lengthAdjust="spacingAndGlyphs" stroke="#262626" stroke-width="0.30" stroke-linejoin="round">N</text>
<ellipse cx="1009.4" cy="261.9" rx="1.7" ry="1.2" fill="none" stroke="#262626" stroke-width="0.95"/>
<text x="988.3" y="289.6" font-size="12.70" font-weight="bold" fill="#262626" text-anchor="start" textLength="16.7" lengthAdjust="spacingAndGlyphs" stroke="#262626" stroke-width="0.30" stroke-linejoin="round">26</text>
<text x="1017.2" y="289.6" font-size="12.70" font-weight="bold" fill="#262626" text-anchor="start" textLength="9.8" lengthAdjust="spacingAndGlyphs" stroke="#262626" stroke-width="0.30" stroke-linejoin="round">N</text>
<ellipse cx="1009.4" cy="276.7" rx="1.7" ry="1.2" fill="none" stroke="#262626" stroke-width="0.95"/>
<text x="988.3" y="301.9" font-size="12.70" font-weight="bold" fill="#262626" text-anchor="start" textLength="16.7" lengthAdjust="spacingAndGlyphs" stroke="#262626" stroke-width="0.30" stroke-linejoin="round">24</text>
<text x="1017.2" y="301.9" font-size="12.70" font-weight="bold" fill="#262626" text-anchor="start" textLength="9.8" lengthAdjust="spacingAndGlyphs" stroke="#262626" stroke-width="0.30" stroke-linejoin="round">N</text>
<ellipse cx="1009.4" cy="289.0" rx="1.7" ry="1.2" fill="none" stroke="#262626" stroke-width="0.95"/>
<text x="988.3" y="316.6" font-size="12.70" font-weight="bold" fill="#262626" text-anchor="start" textLength="16.7" lengthAdjust="spacingAndGlyphs" stroke="#262626" stroke-width="0.30" stroke-linejoin="round">22</text>
<text x="1017.2" y="316.6" font-size="12.70" font-weight="bold" fill="#262626" text-anchor="start" textLength="9.8" lengthAdjust="spacingAndGlyphs" stroke="#262626" stroke-width="0.30" stroke-linejoin="round">N</text>
<ellipse cx="1009.4" cy="303.7" rx="1.7" ry="1.2" fill="none" stroke="#262626" stroke-width="0.95"/>
<text x="1059.7" y="75.0" font-size="12.70" font-weight="bold" fill="#262626" text-anchor="start" textLength="25.1" lengthAdjust="spacingAndGlyphs" stroke="#262626" stroke-width="0.30" stroke-linejoin="round">100</text>
<ellipse cx="1089.1" cy="62.0" rx="1.65" ry="1.3" fill="none" stroke="#262626" stroke-width="0.9"/>
<text x="1096.8" y="75.0" font-size="12.70" font-weight="bold" fill="#262626" text-anchor="start" textLength="13.2" lengthAdjust="spacingAndGlyphs" stroke="#262626" stroke-width="0.30" stroke-linejoin="round">W</text>
<text x="1127.4" y="75.0" font-size="12.70" font-weight="bold" fill="#262626" text-anchor="start" textLength="16.7" lengthAdjust="spacingAndGlyphs" stroke="#262626" stroke-width="0.30" stroke-linejoin="round">90</text>
<ellipse cx="1148.4" cy="62.0" rx="1.65" ry="1.3" fill="none" stroke="#262626" stroke-width="0.9"/>
<text x="1156.1" y="75.0" font-size="12.70" font-weight="bold" fill="#262626" text-anchor="start" textLength="13.2" lengthAdjust="spacingAndGlyphs" stroke="#262626" stroke-width="0.30" stroke-linejoin="round">W</text>
<text x="1190.6" y="75.0" font-size="12.70" font-weight="bold" fill="#262626" text-anchor="start" textLength="16.7" lengthAdjust="spacingAndGlyphs" stroke="#262626" stroke-width="0.30" stroke-linejoin="round">80</text>
<ellipse cx="1211.6" cy="62.0" rx="1.65" ry="1.3" fill="none" stroke="#262626" stroke-width="0.9"/>
<text x="1219.3" y="75.0" font-size="12.70" font-weight="bold" fill="#262626" text-anchor="start" textLength="13.2" lengthAdjust="spacingAndGlyphs" stroke="#262626" stroke-width="0.30" stroke-linejoin="round">W</text>
<text x="1255.6" y="75.0" font-size="12.70" font-weight="bold" fill="#262626" text-anchor="start" textLength="16.7" lengthAdjust="spacingAndGlyphs" stroke="#262626" stroke-width="0.30" stroke-linejoin="round">70</text>
<ellipse cx="1276.6" cy="62.0" rx="1.65" ry="1.3" fill="none" stroke="#262626" stroke-width="0.9"/>
<text x="1284.3" y="75.0" font-size="12.70" font-weight="bold" fill="#262626" text-anchor="start" textLength="13.2" lengthAdjust="spacingAndGlyphs" stroke="#262626" stroke-width="0.30" stroke-linejoin="round">W</text>
<text x="1036.0" y="342.0" font-size="24.30" font-weight="bold" fill="#262626" stroke="#262626" stroke-width="0.45" stroke-linejoin="round" textLength="72.7" lengthAdjust="spacingAndGlyphs">Cloud</text>
<text x="1116.6" y="342.0" font-size="24.30" font-weight="bold" fill="#262626" stroke="#262626" stroke-width="0.45" stroke-linejoin="round" textLength="70.5" lengthAdjust="spacingAndGlyphs">Press</text>
<text x="1195.0" y="342.0" font-size="24.30" font-weight="bold" fill="#262626" stroke="#262626" stroke-width="0.45" stroke-linejoin="round" textLength="68.5" lengthAdjust="spacingAndGlyphs">(hPa)</text>
<rect x="195.50" y="485.60" width="234.00" height="213.80" fill="none" stroke="#1c1c1c" stroke-width="1.05"/>
<g transform="translate(429.50 485.60)">
<path d="M-55.7 2.0h0M-51.3 2.5h0M-53.5 6.3h0M-49.6 7.1h0" stroke="#94ff6b" stroke-width="7.4" stroke-linecap="round" fill="none"/><path d="M-51.8 10.0h0" stroke="#a8ff57" stroke-width="7.4" stroke-linecap="round" fill="none"/><path d="M-47.9 4.2h0M-45.8 20.7h0M-41.1 21.9h0" stroke="#94ff6b" stroke-width="7.4" stroke-linecap="round" fill="none"/><path d="M-46.7 24.4h0" stroke="#bdff42" stroke-width="7.4" stroke-linecap="round" fill="none"/><path d="M-42.4 25.8h0" stroke="#a8ff57" stroke-width="7.4" stroke-linecap="round" fill="none"/><path d="M-38.2 25.5h0" stroke="#94ff6b" stroke-width="7.4" stroke-linecap="round" fill="none"/><path d="M-39.9 2.0h0M-35.7 1.2h0" stroke="#6bff94" stroke-width="7.4" stroke-linecap="round" fill="none"/><path d="M-25.5 1.2h0" stroke="#94ff6b" stroke-width="7.4" stroke-linecap="round" fill="none"/><path d="M-20.4 2.0h0M-16.1 2.9h0M-13.2 5.9h0" stroke="#6bff94" stroke-width="7.4" stroke-linecap="round" fill="none"/><path d="M-39.0 7.1h0" stroke="#42ffbd" stroke-width="7.4" stroke-linecap="round" fill="none"/><path d="M-34.0 7.6h0" stroke="#57ffa8" stroke-width="7.4" stroke-linecap="round" fill="none"/><path d="M-28.9 8.3h0M-23.4 7.1h0M-18.3 8.0h0" stroke="#6bff94" stroke-width="7.4" stroke-linecap="round" fill="none"/><path d="M-38.7 11.7h0" stroke="#05fffa" stroke-width="7.4" stroke-linecap="round" fill="none"/><path d="M-33.4 12.7h0" stroke="#42ffbd" stroke-width="7.4" stroke-linecap="round" fill="none"/><path d="M-28.4 14.4h0M-23.3 13.1h0" stroke="#6bff94" stroke-width="7.4" stroke-linecap="round" fill="none"/><path d="M-17.0 11.7h0" stroke="#94ff6b" stroke-width="7.4" stroke-linecap="round" fill="none"/><path d="M-30.6 2.9h0" stroke="#fff000" stroke-width="7.4" stroke-linecap="round" fill="none"/><path d="M-31.4 18.2h0" stroke="#2effd1" stroke-width="7.4" stroke-linecap="round" fill="none"/><path d="M-25.5 19.0h0" stroke="#00b2ff" stroke-width="7.4" stroke-linecap="round" fill="none"/><path d="M-19.9 19.5h0" stroke="#00c7ff" stroke-width="7.4" stroke-linecap="round" fill="none"/><path d="M-9.3 17.3h0" stroke="#42ffbd" stroke-width="7.4" stroke-linecap="round" fill="none"/><path d="M-6.8 21.6h0" stroke="#0061ff" stroke-width="7.4" stroke-linecap="round" fill="none"/><path d="M-11.9 23.3h0M-4.8 20.4h0" stroke="#004dff" stroke-width="7.4" stroke-linecap="round" fill="none"/><path d="M-22.9 23.8h0" stroke="#00c7ff" stroke-width="7.4" stroke-linecap="round" fill="none"/><path d="M-18.3 25.0h0" stroke="#a8ff57" stroke-width="7.4" stroke-linecap="round" fill="none"/><path d="M-27.2 29.2h0" stroke="#bdff42" stroke-width="7.4" stroke-linecap="round" fill="none"/><path d="M-22.1 30.1h0" stroke="#00c7ff" stroke-width="7.4" stroke-linecap="round" fill="none"/><path d="M-17.0 31.7h0" stroke="#00b2ff" stroke-width="7.4" stroke-linecap="round" fill="none"/><path d="M-13.2 28.7h0" stroke="#00c7ff" stroke-width="7.4" stroke-linecap="round" fill="none"/><path d="M-35.7 33.8h0" stroke="#00f0ff" stroke-width="7.4" stroke-linecap="round" fill="none"/><path d="M-6.8 2.0h0M-0.8 1.2h0" stroke="#009eff" stroke-width="7.4" stroke-linecap="round" fill="none"/><path d="M-2.5 11.4h0" stroke="#2effd1" stroke-width="7.4" stroke-linecap="round" fill="none"/><path d="M-28.9 48.7h0" stroke="#bdff42" stroke-width="7.4" stroke-linecap="round" fill="none"/><path d="M-27.2 54.7h0" stroke="#e5ff1a" stroke-width="7.4" stroke-linecap="round" fill="none"/><path d="M-28.0 63.2h0M-27.5 66.6h0" stroke="#ff7500" stroke-width="7.4" stroke-linecap="round" fill="none"/><path d="M-17.0 40.2h0" stroke="#0075ff" stroke-width="7.4" stroke-linecap="round" fill="none"/><path d="M-13.6 50.4h0" stroke="#1affe5" stroke-width="7.4" stroke-linecap="round" fill="none"/><path d="M-10.2 45.3h0" stroke="#05fffa" stroke-width="7.4" stroke-linecap="round" fill="none"/><path d="M-5.9 48.7h0M-3.4 40.2h0" stroke="#6bff94" stroke-width="7.4" stroke-linecap="round" fill="none"/><path d="M-0.8 52.1h0" stroke="#05fffa" stroke-width="7.4" stroke-linecap="round" fill="none"/><path d="M-17.0 60.6h0" stroke="#faff05" stroke-width="7.4" stroke-linecap="round" fill="none"/><path d="M-10.2 57.2h0" stroke="#6bff94" stroke-width="7.4" stroke-linecap="round" fill="none"/><path d="M-2.5 60.6h0" stroke="#1affe5" stroke-width="7.4" stroke-linecap="round" fill="none"/><path d="M0.0 47.0h0" stroke="#42ffbd" stroke-width="7.4" stroke-linecap="round" fill="none"/><path d="M-11.9 64.0h0" stroke="#fff000" stroke-width="7.4" stroke-linecap="round" fill="none"/><path d="M-6.8 63.7h0" stroke="#ffb300" stroke-width="7.4" stroke-linecap="round" fill="none"/><path d="M-20.4 78.4h0" stroke="#05fffa" stroke-width="7.4" stroke-linecap="round" fill="none"/><path d="M-15.3 77.6h0M-10.2 78.4h0" stroke="#00f0ff" stroke-width="7.4" stroke-linecap="round" fill="none"/><path d="M-5.1 80.1h0" stroke="#00c7ff" stroke-width="7.4" stroke-linecap="round" fill="none"/><path d="M-18.7 83.5h0" stroke="#1affe5" stroke-width="7.4" stroke-linecap="round" fill="none"/><path d="M-13.6 82.7h0" stroke="#05fffa" stroke-width="7.4" stroke-linecap="round" fill="none"/><path d="M-8.5 83.5h0" stroke="#00c7ff" stroke-width="7.4" stroke-linecap="round" fill="none"/><path d="M-2.5 85.2h0" stroke="#00b2ff" stroke-width="7.4" stroke-linecap="round" fill="none"/><path d="M-17.0 88.6h0" stroke="#2effd1" stroke-width="7.4" stroke-linecap="round" fill="none"/><path d="M-11.9 87.8h0" stroke="#1affe5" stroke-width="7.4" stroke-linecap="round" fill="none"/><path d="M-6.8 88.6h0" stroke="#00f0ff" stroke-width="7.4" stroke-linecap="round" fill="none"/><path d="M-1.7 89.5h0" stroke="#00c7ff" stroke-width="7.4" stroke-linecap="round" fill="none"/><path d="M-14.4 93.2h0" stroke="#2effd1" stroke-width="7.4" stroke-linecap="round" fill="none"/><path d="M-9.3 93.7h0" stroke="#1affe5" stroke-width="7.4" stroke-linecap="round" fill="none"/><path d="M-4.8 92.5h0" stroke="#00dbff" stroke-width="7.4" stroke-linecap="round" fill="none"/><path d="M-22.4 80.6h0" stroke="#1affe5" stroke-width="7.4" stroke-linecap="round" fill="none"/><path d="M-0.8 81.8h0" stroke="#00b2ff" stroke-width="7.4" stroke-linecap="round" fill="none"/><path d="M-8.1 106.5h0" stroke="#000fff" stroke-width="7.4" stroke-linecap="round" fill="none"/><path d="M-4.2 108.1h0" stroke="#004dff" stroke-width="7.4" stroke-linecap="round" fill="none"/><path d="M-8.5 110.7h0" stroke="#0024ff" stroke-width="7.4" stroke-linecap="round" fill="none"/><path d="M-3.4 111.2h0" stroke="#00f0ff" stroke-width="7.4" stroke-linecap="round" fill="none"/><path d="M-6.5 114.6h0" stroke="#0061ff" stroke-width="7.4" stroke-linecap="round" fill="none"/><path d="M-2.5 115.3h0" stroke="#0075ff" stroke-width="7.4" stroke-linecap="round" fill="none"/><path d="M-10.2 108.5h0" stroke="#000fff" stroke-width="7.4" stroke-linecap="round" fill="none"/>
</g>
<use href="#st" transform="translate(195.50 485.60) scale(1.00043 1.00234)" fill="none" stroke="#000" stroke-width="2.9" stroke-linejoin="round" stroke-linecap="round"/>
<rect x="441.20" y="483.00" width="23.60" height="219.70" fill="url(#jet)" stroke="#262626" stroke-width="0.6"/>
<path d="M464.8 506.3h-2.2" stroke="#262626" stroke-width="0.8"/>
<text x="473.4" y="513.6" font-size="21.20" font-weight="bold" fill="#262626" text-anchor="start" textLength="13.9" lengthAdjust="spacingAndGlyphs" stroke="#262626" stroke-width="0.40" stroke-linejoin="round">5</text>
<path d="M464.8 592.3h-2.2" stroke="#262626" stroke-width="0.8"/>
<text x="473.4" y="599.6" font-size="21.20" font-weight="bold" fill="#262626" text-anchor="start" textLength="13.9" lengthAdjust="spacingAndGlyphs" stroke="#262626" stroke-width="0.40" stroke-linejoin="round">0</text>
<path d="M464.8 678.3h-2.2" stroke="#262626" stroke-width="0.8"/>
<text x="473.4" y="685.6" font-size="21.20" font-weight="bold" fill="#262626" text-anchor="start" textLength="22.2" lengthAdjust="spacingAndGlyphs" stroke="#262626" stroke-width="0.40" stroke-linejoin="round">-5</text>
<text x="146.7" y="502.3" font-size="12.70" font-weight="bold" fill="#262626" text-anchor="start" textLength="16.7" lengthAdjust="spacingAndGlyphs" stroke="#262626" stroke-width="0.30" stroke-linejoin="round">48</text>
<text x="175.6" y="502.3" font-size="12.70" font-weight="bold" fill="#262626" text-anchor="start" textLength="9.8" lengthAdjust="spacingAndGlyphs" stroke="#262626" stroke-width="0.30" stroke-linejoin="round">N</text>
<ellipse cx="167.8" cy="489.4" rx="1.7" ry="1.2" fill="none" stroke="#262626" stroke-width="0.95"/>
<text x="146.7" y="520.2" font-size="12.70" font-weight="bold" fill="#262626" text-anchor="start" textLength="16.7" lengthAdjust="spacingAndGlyphs" stroke="#262626" stroke-width="0.30" stroke-linejoin="round">46</text>
<text x="175.6" y="520.2" font-size="12.70" font-weight="bold" fill="#262626" text-anchor="start" textLength="9.8" lengthAdjust="spacingAndGlyphs" stroke="#262626" stroke-width="0.30" stroke-linejoin="round">N</text>
<ellipse cx="167.8" cy="507.3" rx="1.7" ry="1.2" fill="none" stroke="#262626" stroke-width="0.95"/>
<text x="146.7" y="537.3" font-size="12.70" font-weight="bold" fill="#262626" text-anchor="start" textLength="16.7" lengthAdjust="spacingAndGlyphs" stroke="#262626" stroke-width="0.30" stroke-linejoin="round">44</text>
<text x="175.6" y="537.3" font-size="12.70" font-weight="bold" fill="#262626" text-anchor="start" textLength="9.8" lengthAdjust="spacingAndGlyphs" stroke="#262626" stroke-width="0.30" stroke-linejoin="round">N</text>
<ellipse cx="167.8" cy="524.4" rx="1.7" ry="1.2" fill="none" stroke="#262626" stroke-width="0.95"/>
<text x="146.7" y="556.0" font-size="12.70" font-weight="bold" fill="#262626" text-anchor="start" textLength="16.7" lengthAdjust="spacingAndGlyphs" stroke="#262626" stroke-width="0.30" stroke-linejoin="round">42</text>
<text x="175.6" y="556.0" font-size="12.70" font-weight="bold" fill="#262626" text-anchor="start" textLength="9.8" lengthAdjust="spacingAndGlyphs" stroke="#262626" stroke-width="0.30" stroke-linejoin="round">N</text>
<ellipse cx="167.8" cy="543.1" rx="1.7" ry="1.2" fill="none" stroke="#262626" stroke-width="0.95"/>
<text x="146.7" y="572.0" font-size="12.70" font-weight="bold" fill="#262626" text-anchor="start" textLength="16.7" lengthAdjust="spacingAndGlyphs" stroke="#262626" stroke-width="0.30" stroke-linejoin="round">40</text>
<text x="175.6" y="572.0" font-size="12.70" font-weight="bold" fill="#262626" text-anchor="start" textLength="9.8" lengthAdjust="spacingAndGlyphs" stroke="#262626" stroke-width="0.30" stroke-linejoin="round">N</text>
<ellipse cx="167.8" cy="559.1" rx="1.7" ry="1.2" fill="none" stroke="#262626" stroke-width="0.95"/>
<text x="146.7" y="587.3" font-size="12.70" font-weight="bold" fill="#262626" text-anchor="start" textLength="16.7" lengthAdjust="spacingAndGlyphs" stroke="#262626" stroke-width="0.30" stroke-linejoin="round">38</text>
<text x="175.6" y="587.3" font-size="12.70" font-weight="bold" fill="#262626" text-anchor="start" textLength="9.8" lengthAdjust="spacingAndGlyphs" stroke="#262626" stroke-width="0.30" stroke-linejoin="round">N</text>
<ellipse cx="167.8" cy="574.4" rx="1.7" ry="1.2" fill="none" stroke="#262626" stroke-width="0.95"/>
<text x="146.7" y="604.3" font-size="12.70" font-weight="bold" fill="#262626" text-anchor="start" textLength="16.7" lengthAdjust="spacingAndGlyphs" stroke="#262626" stroke-width="0.30" stroke-linejoin="round">36</text>
<text x="175.6" y="604.3" font-size="12.70" font-weight="bold" fill="#262626" text-anchor="start" textLength="9.8" lengthAdjust="spacingAndGlyphs" stroke="#262626" stroke-width="0.30" stroke-linejoin="round">N</text>
<ellipse cx="167.8" cy="591.4" rx="1.7" ry="1.2" fill="none" stroke="#262626" stroke-width="0.95"/>
<text x="146.7" y="618.4" font-size="12.70" font-weight="bold" fill="#262626" text-anchor="start" textLength="16.7" lengthAdjust="spacingAndGlyphs" stroke="#262626" stroke-width="0.30" stroke-linejoin="round">34</text>
<text x="175.6" y="618.4" font-size="12.70" font-weight="bold" fill="#262626" text-anchor="start" textLength="9.8" lengthAdjust="spacingAndGlyphs" stroke="#262626" stroke-width="0.30" stroke-linejoin="round">N</text>
<ellipse cx="167.8" cy="605.5" rx="1.7" ry="1.2" fill="none" stroke="#262626" stroke-width="0.95"/>
<text x="146.7" y="635.1" font-size="12.70" font-weight="bold" fill="#262626" text-anchor="start" textLength="16.7" lengthAdjust="spacingAndGlyphs" stroke="#262626" stroke-width="0.30" stroke-linejoin="round">32</text>
<text x="175.6" y="635.1" font-size="12.70" font-weight="bold" fill="#262626" text-anchor="start" textLength="9.8" lengthAdjust="spacingAndGlyphs" stroke="#262626" stroke-width="0.30" stroke-linejoin="round">N</text>
<ellipse cx="167.8" cy="622.2" rx="1.7" ry="1.2" fill="none" stroke="#262626" stroke-width="0.95"/>
<text x="146.7" y="649.1" font-size="12.70" font-weight="bold" fill="#262626" text-anchor="start" textLength="16.7" lengthAdjust="spacingAndGlyphs" stroke="#262626" stroke-width="0.30" stroke-linejoin="round">30</text>
<text x="175.6" y="649.1" font-size="12.70" font-weight="bold" fill="#262626" text-anchor="start" textLength="9.8" lengthAdjust="spacingAndGlyphs" stroke="#262626" stroke-width="0.30" stroke-linejoin="round">N</text>
<ellipse cx="167.8" cy="636.3" rx="1.7" ry="1.2" fill="none" stroke="#262626" stroke-width="0.95"/>
<text x="146.7" y="662.5" font-size="12.70" font-weight="bold" fill="#262626" text-anchor="start" textLength="16.7" lengthAdjust="spacingAndGlyphs" stroke="#262626" stroke-width="0.30" stroke-linejoin="round">28</text>
<text x="175.6" y="662.5" font-size="12.70" font-weight="bold" fill="#262626" text-anchor="start" textLength="9.8" lengthAdjust="spacingAndGlyphs" stroke="#262626" stroke-width="0.30" stroke-linejoin="round">N</text>
<ellipse cx="167.8" cy="649.6" rx="1.7" ry="1.2" fill="none" stroke="#262626" stroke-width="0.95"/>
<text x="146.7" y="677.3" font-size="12.70" font-weight="bold" fill="#262626" text-anchor="start" textLength="16.7" lengthAdjust="spacingAndGlyphs" stroke="#262626" stroke-width="0.30" stroke-linejoin="round">26</text>
<text x="175.6" y="677.3" font-size="12.70" font-weight="bold" fill="#262626" text-anchor="start" textLength="9.8" lengthAdjust="spacingAndGlyphs" stroke="#262626" stroke-width="0.30" stroke-linejoin="round">N</text>
<ellipse cx="167.8" cy="664.4" rx="1.7" ry="1.2" fill="none" stroke="#262626" stroke-width="0.95"/>
<text x="146.7" y="691.1" font-size="12.70" font-weight="bold" fill="#262626" text-anchor="start" textLength="16.7" lengthAdjust="spacingAndGlyphs" stroke="#262626" stroke-width="0.30" stroke-linejoin="round">24</text>
<text x="175.6" y="691.1" font-size="12.70" font-weight="bold" fill="#262626" text-anchor="start" textLength="9.8" lengthAdjust="spacingAndGlyphs" stroke="#262626" stroke-width="0.30" stroke-linejoin="round">N</text>
<ellipse cx="167.8" cy="678.3" rx="1.7" ry="1.2" fill="none" stroke="#262626" stroke-width="0.95"/>
<text x="146.7" y="704.3" font-size="12.70" font-weight="bold" fill="#262626" text-anchor="start" textLength="16.7" lengthAdjust="spacingAndGlyphs" stroke="#262626" stroke-width="0.30" stroke-linejoin="round">22</text>
<text x="175.6" y="704.3" font-size="12.70" font-weight="bold" fill="#262626" text-anchor="start" textLength="9.8" lengthAdjust="spacingAndGlyphs" stroke="#262626" stroke-width="0.30" stroke-linejoin="round">N</text>
<ellipse cx="167.8" cy="691.4" rx="1.7" ry="1.2" fill="none" stroke="#262626" stroke-width="0.95"/>
<text x="215.9" y="467.0" font-size="12.70" font-weight="bold" fill="#262626" text-anchor="start" textLength="25.1" lengthAdjust="spacingAndGlyphs" stroke="#262626" stroke-width="0.30" stroke-linejoin="round">100</text>
<ellipse cx="245.3" cy="454.0" rx="1.65" ry="1.3" fill="none" stroke="#262626" stroke-width="0.9"/>
<text x="253.0" y="467.0" font-size="12.70" font-weight="bold" fill="#262626" text-anchor="start" textLength="13.2" lengthAdjust="spacingAndGlyphs" stroke="#262626" stroke-width="0.30" stroke-linejoin="round">W</text>
<text x="284.4" y="467.0" font-size="12.70" font-weight="bold" fill="#262626" text-anchor="start" textLength="16.7" lengthAdjust="spacingAndGlyphs" stroke="#262626" stroke-width="0.30" stroke-linejoin="round">90</text>
<ellipse cx="305.4" cy="454.0" rx="1.65" ry="1.3" fill="none" stroke="#262626" stroke-width="0.9"/>
<text x="313.1" y="467.0" font-size="12.70" font-weight="bold" fill="#262626" text-anchor="start" textLength="13.2" lengthAdjust="spacingAndGlyphs" stroke="#262626" stroke-width="0.30" stroke-linejoin="round">W</text>
<text x="348.6" y="467.0" font-size="12.70" font-weight="bold" fill="#262626" text-anchor="start" textLength="16.7" lengthAdjust="spacingAndGlyphs" stroke="#262626" stroke-width="0.30" stroke-linejoin="round">80</text>
<ellipse cx="369.6" cy="454.0" rx="1.65" ry="1.3" fill="none" stroke="#262626" stroke-width="0.9"/>
<text x="377.3" y="467.0" font-size="12.70" font-weight="bold" fill="#262626" text-anchor="start" textLength="13.2" lengthAdjust="spacingAndGlyphs" stroke="#262626" stroke-width="0.30" stroke-linejoin="round">W</text>
<text x="411.9" y="467.0" font-size="12.70" font-weight="bold" fill="#262626" text-anchor="start" textLength="16.7" lengthAdjust="spacingAndGlyphs" stroke="#262626" stroke-width="0.30" stroke-linejoin="round">70</text>
<ellipse cx="432.9" cy="454.0" rx="1.65" ry="1.3" fill="none" stroke="#262626" stroke-width="0.9"/>
<text x="440.6" y="467.0" font-size="12.70" font-weight="bold" fill="#262626" text-anchor="start" textLength="13.2" lengthAdjust="spacingAndGlyphs" stroke="#262626" stroke-width="0.30" stroke-linejoin="round">W</text>
<text x="109.0" y="731.5" font-size="24.30" font-weight="bold" fill="#262626" stroke="#262626" stroke-width="0.45" stroke-linejoin="round" textLength="107.5" lengthAdjust="spacingAndGlyphs">SAT-RAP</text>
<text x="224.5" y="731.5" font-size="24.30" font-weight="bold" fill="#262626" stroke="#262626" stroke-width="0.45" stroke-linejoin="round" textLength="117.0" lengthAdjust="spacingAndGlyphs">Negative</text>
<text x="349.6" y="731.5" font-size="24.30" font-weight="bold" fill="#262626" stroke="#262626" stroke-width="0.45" stroke-linejoin="round" textLength="76.1" lengthAdjust="spacingAndGlyphs">Lifted</text>
<text x="433.7" y="731.5" font-size="24.30" font-weight="bold" fill="#262626" stroke="#262626" stroke-width="0.45" stroke-linejoin="round" textLength="72.3" lengthAdjust="spacingAndGlyphs">Index</text>
<rect x="616.20" y="485.60" width="234.30" height="213.80" fill="none" stroke="#1c1c1c" stroke-width="1.05"/>
<g transform="translate(850.50 485.60)">
<path d="M-55.7 2.0h0M-51.3 2.5h0M-53.5 6.3h0M-49.6 7.1h0M-51.8 10.0h0M-47.9 4.2h0M-45.8 20.7h0M-41.1 21.9h0M-46.7 24.4h0M-42.4 25.8h0M-38.2 25.5h0M-39.9 2.0h0M-35.7 1.2h0M-25.5 1.2h0M-20.4 2.0h0M-16.1 2.9h0M-13.2 5.9h0M-39.0 7.1h0M-34.0 7.6h0M-28.9 8.3h0M-23.4 7.1h0M-18.3 8.0h0M-38.7 11.7h0M-33.4 12.7h0M-28.4 14.4h0M-23.3 13.1h0M-17.0 11.7h0M-30.6 2.9h0M-31.4 18.2h0M-25.5 19.0h0M-19.9 19.5h0M-9.3 17.3h0M-6.8 21.6h0M-11.9 23.3h0M-4.8 20.4h0M-22.9 23.8h0M-18.3 25.0h0M-27.2 29.2h0M-22.1 30.1h0M-17.0 31.7h0M-13.2 28.7h0M-35.7 33.8h0M-6.8 2.0h0M-0.8 1.2h0M-2.5 11.4h0M-28.9 48.7h0M-27.2 54.7h0M-28.0 63.2h0M-27.5 66.6h0M-17.0 40.2h0M-13.6 50.4h0M-10.2 45.3h0M-5.9 48.7h0M-3.4 40.2h0M-0.8 52.1h0M-17.0 60.6h0M-10.2 57.2h0M-2.5 60.6h0M0.0 47.0h0M-11.9 64.0h0M-6.8 63.7h0M-20.4 78.4h0M-15.3 77.6h0M-10.2 78.4h0M-5.1 80.1h0M-18.7 83.5h0M-13.6 82.7h0M-8.5 83.5h0M-2.5 85.2h0M-17.0 88.6h0M-11.9 87.8h0M-6.8 88.6h0M-1.7 89.5h0M-14.4 93.2h0M-9.3 93.7h0M-4.8 92.5h0M-22.4 80.6h0M-0.8 81.8h0M-8.1 106.5h0M-4.2 108.1h0M-8.5 110.7h0M-3.4 111.2h0M-6.5 114.6h0M-2.5 115.3h0M-10.2 108.5h0" stroke="#80f878" stroke-width="7.4" stroke-linecap="round" fill="none"/>
</g>
<use href="#st" transform="translate(616.20 485.60) scale(1.00171 1.00234)" fill="none" stroke="#000" stroke-width="2.9" stroke-linejoin="round" stroke-linecap="round"/>
<rect x="862.20" y="483.00" width="23.80" height="219.70" fill="url(#jet)" stroke="#262626" stroke-width="0.6"/>
<path d="M886.0 534.7h-2.2" stroke="#262626" stroke-width="0.8"/>
<text x="894.6" y="542.0" font-size="21.20" font-weight="bold" fill="#262626" text-anchor="start" textLength="41.8" lengthAdjust="spacingAndGlyphs" stroke="#262626" stroke-width="0.40" stroke-linejoin="round">200</text>
<path d="M886.0 592.7h-2.2" stroke="#262626" stroke-width="0.8"/>
<text x="894.6" y="600.0" font-size="21.20" font-weight="bold" fill="#262626" text-anchor="start" textLength="13.9" lengthAdjust="spacingAndGlyphs" stroke="#262626" stroke-width="0.40" stroke-linejoin="round">0</text>
<path d="M886.0 650.6h-2.2" stroke="#262626" stroke-width="0.8"/>
<text x="894.6" y="657.9" font-size="21.20" font-weight="bold" fill="#262626" text-anchor="start" textLength="50.1" lengthAdjust="spacingAndGlyphs" stroke="#262626" stroke-width="0.40" stroke-linejoin="round">-200</text>
<text x="567.4" y="502.3" font-size="12.70" font-weight="bold" fill="#262626" text-anchor="start" textLength="16.7" lengthAdjust="spacingAndGlyphs" stroke="#262626" stroke-width="0.30" stroke-linejoin="round">48</text>
<text x="596.3" y="502.3" font-size="12.70" font-weight="bold" fill="#262626" text-anchor="start" textLength="9.8" lengthAdjust="spacingAndGlyphs" stroke="#262626" stroke-width="0.30" stroke-linejoin="round">N</text>
<ellipse cx="588.5" cy="489.4" rx="1.7" ry="1.2" fill="none" stroke="#262626" stroke-width="0.95"/>
<text x="567.4" y="520.2" font-size="12.70" font-weight="bold" fill="#262626" text-anchor="start" textLength="16.7" lengthAdjust="spacingAndGlyphs" stroke="#262626" stroke-width="0.30" stroke-linejoin="round">46</text>
<text x="596.3" y="520.2" font-size="12.70" font-weight="bold" fill="#262626" text-anchor="start" textLength="9.8" lengthAdjust="spacingAndGlyphs" stroke="#262626" stroke-width="0.30" stroke-linejoin="round">N</text>
<ellipse cx="588.5" cy="507.3" rx="1.7" ry="1.2" fill="none" stroke="#262626" stroke-width="0.95"/>
<text x="567.4" y="537.3" font-size="12.70" font-weight="bold" fill="#262626" text-anchor="start" textLength="16.7" lengthAdjust="spacingAndGlyphs" stroke="#262626" stroke-width="0.30" stroke-linejoin="round">44</text>
<text x="596.3" y="537.3" font-size="12.70" font-weight="bold" fill="#262626" text-anchor="start" textLength="9.8" lengthAdjust="spacingAndGlyphs" stroke="#262626" stroke-width="0.30" stroke-linejoin="round">N</text>
<ellipse cx="588.5" cy="524.4" rx="1.7" ry="1.2" fill="none" stroke="#262626" stroke-width="0.95"/>
<text x="567.4" y="556.0" font-size="12.70" font-weight="bold" fill="#262626" text-anchor="start" textLength="16.7" lengthAdjust="spacingAndGlyphs" stroke="#262626" stroke-width="0.30" stroke-linejoin="round">42</text>
<text x="596.3" y="556.0" font-size="12.70" font-weight="bold" fill="#262626" text-anchor="start" textLength="9.8" lengthAdjust="spacingAndGlyphs" stroke="#262626" stroke-width="0.30" stroke-linejoin="round">N</text>
<ellipse cx="588.5" cy="543.1" rx="1.7" ry="1.2" fill="none" stroke="#262626" stroke-width="0.95"/>
<text x="567.4" y="572.0" font-size="12.70" font-weight="bold" fill="#262626" text-anchor="start" textLength="16.7" lengthAdjust="spacingAndGlyphs" stroke="#262626" stroke-width="0.30" stroke-linejoin="round">40</text>
<text x="596.3" y="572.0" font-size="12.70" font-weight="bold" fill="#262626" text-anchor="start" textLength="9.8" lengthAdjust="spacingAndGlyphs" stroke="#262626" stroke-width="0.30" stroke-linejoin="round">N</text>
<ellipse cx="588.5" cy="559.1" rx="1.7" ry="1.2" fill="none" stroke="#262626" stroke-width="0.95"/>
<text x="567.4" y="587.3" font-size="12.70" font-weight="bold" fill="#262626" text-anchor="start" textLength="16.7" lengthAdjust="spacingAndGlyphs" stroke="#262626" stroke-width="0.30" stroke-linejoin="round">38</text>
<text x="596.3" y="587.3" font-size="12.70" font-weight="bold" fill="#262626" text-anchor="start" textLength="9.8" lengthAdjust="spacingAndGlyphs" stroke="#262626" stroke-width="0.30" stroke-linejoin="round">N</text>
<ellipse cx="588.5" cy="574.4" rx="1.7" ry="1.2" fill="none" stroke="#262626" stroke-width="0.95"/>
<text x="567.4" y="604.3" font-size="12.70" font-weight="bold" fill="#262626" text-anchor="start" textLength="16.7" lengthAdjust="spacingAndGlyphs" stroke="#262626" stroke-width="0.30" stroke-linejoin="round">36</text>
<text x="596.3" y="604.3" font-size="12.70" font-weight="bold" fill="#262626" text-anchor="start" textLength="9.8" lengthAdjust="spacingAndGlyphs" stroke="#262626" stroke-width="0.30" stroke-linejoin="round">N</text>
<ellipse cx="588.5" cy="591.4" rx="1.7" ry="1.2" fill="none" stroke="#262626" stroke-width="0.95"/>
<text x="567.4" y="618.4" font-size="12.70" font-weight="bold" fill="#262626" text-anchor="start" textLength="16.7" lengthAdjust="spacingAndGlyphs" stroke="#262626" stroke-width="0.30" stroke-linejoin="round">34</text>
<text x="596.3" y="618.4" font-size="12.70" font-weight="bold" fill="#262626" text-anchor="start" textLength="9.8" lengthAdjust="spacingAndGlyphs" stroke="#262626" stroke-width="0.30" stroke-linejoin="round">N</text>
<ellipse cx="588.5" cy="605.5" rx="1.7" ry="1.2" fill="none" stroke="#262626" stroke-width="0.95"/>
<text x="567.4" y="635.1" font-size="12.70" font-weight="bold" fill="#262626" text-anchor="start" textLength="16.7" lengthAdjust="spacingAndGlyphs" stroke="#262626" stroke-width="0.30" stroke-linejoin="round">32</text>
<text x="596.3" y="635.1" font-size="12.70" font-weight="bold" fill="#262626" text-anchor="start" textLength="9.8" lengthAdjust="spacingAndGlyphs" stroke="#262626" stroke-width="0.30" stroke-linejoin="round">N</text>
<ellipse cx="588.5" cy="622.2" rx="1.7" ry="1.2" fill="none" stroke="#262626" stroke-width="0.95"/>
<text x="567.4" y="649.1" font-size="12.70" font-weight="bold" fill="#262626" text-anchor="start" textLength="16.7" lengthAdjust="spacingAndGlyphs" stroke="#262626" stroke-width="0.30" stroke-linejoin="round">30</text>
<text x="596.3" y="649.1" font-size="12.70" font-weight="bold" fill="#262626" text-anchor="start" textLength="9.8" lengthAdjust="spacingAndGlyphs" stroke="#262626" stroke-width="0.30" stroke-linejoin="round">N</text>
<ellipse cx="588.5" cy="636.3" rx="1.7" ry="1.2" fill="none" stroke="#262626" stroke-width="0.95"/>
<text x="567.4" y="662.5" font-size="12.70" font-weight="bold" fill="#262626" text-anchor="start" textLength="16.7" lengthAdjust="spacingAndGlyphs" stroke="#262626" stroke-width="0.30" stroke-linejoin="round">28</text>
<text x="596.3" y="662.5" font-size="12.70" font-weight="bold" fill="#262626" text-anchor="start" textLength="9.8" lengthAdjust="spacingAndGlyphs" stroke="#262626" stroke-width="0.30" stroke-linejoin="round">N</text>
<ellipse cx="588.5" cy="649.6" rx="1.7" ry="1.2" fill="none" stroke="#262626" stroke-width="0.95"/>
<text x="567.4" y="677.3" font-size="12.70" font-weight="bold" fill="#262626" text-anchor="start" textLength="16.7" lengthAdjust="spacingAndGlyphs" stroke="#262626" stroke-width="0.30" stroke-linejoin="round">26</text>
<text x="596.3" y="677.3" font-size="12.70" font-weight="bold" fill="#262626" text-anchor="start" textLength="9.8" lengthAdjust="spacingAndGlyphs" stroke="#262626" stroke-width="0.30" stroke-linejoin="round">N</text>
<ellipse cx="588.5" cy="664.4" rx="1.7" ry="1.2" fill="none" stroke="#262626" stroke-width="0.95"/>
<text x="567.4" y="691.1" font-size="12.70" font-weight="bold" fill="#262626" text-anchor="start" textLength="16.7" lengthAdjust="spacingAndGlyphs" stroke="#262626" stroke-width="0.30" stroke-linejoin="round">24</text>
<text x="596.3" y="691.1" font-size="12.70" font-weight="bold" fill="#262626" text-anchor="start" textLength="9.8" lengthAdjust="spacingAndGlyphs" stroke="#262626" stroke-width="0.30" stroke-linejoin="round">N</text>
<ellipse cx="588.5" cy="678.3" rx="1.7" ry="1.2" fill="none" stroke="#262626" stroke-width="0.95"/>
<text x="567.4" y="704.3" font-size="12.70" font-weight="bold" fill="#262626" text-anchor="start" textLength="16.7" lengthAdjust="spacingAndGlyphs" stroke="#262626" stroke-width="0.30" stroke-linejoin="round">22</text>
<text x="596.3" y="704.3" font-size="12.70" font-weight="bold" fill="#262626" text-anchor="start" textLength="9.8" lengthAdjust="spacingAndGlyphs" stroke="#262626" stroke-width="0.30" stroke-linejoin="round">N</text>
<ellipse cx="588.5" cy="691.4" rx="1.7" ry="1.2" fill="none" stroke="#262626" stroke-width="0.95"/>
<text x="636.6" y="467.0" font-size="12.70" font-weight="bold" fill="#262626" text-anchor="start" textLength="25.1" lengthAdjust="spacingAndGlyphs" stroke="#262626" stroke-width="0.30" stroke-linejoin="round">100</text>
<ellipse cx="666.0" cy="454.0" rx="1.65" ry="1.3" fill="none" stroke="#262626" stroke-width="0.9"/>
<text x="673.7" y="467.0" font-size="12.70" font-weight="bold" fill="#262626" text-anchor="start" textLength="13.2" lengthAdjust="spacingAndGlyphs" stroke="#262626" stroke-width="0.30" stroke-linejoin="round">W</text>
<text x="705.3" y="467.0" font-size="12.70" font-weight="bold" fill="#262626" text-anchor="start" textLength="16.7" lengthAdjust="spacingAndGlyphs" stroke="#262626" stroke-width="0.30" stroke-linejoin="round">90</text>
<ellipse cx="726.3" cy="454.0" rx="1.65" ry="1.3" fill="none" stroke="#262626" stroke-width="0.9"/>
<text x="734.0" y="467.0" font-size="12.70" font-weight="bold" fill="#262626" text-anchor="start" textLength="13.2" lengthAdjust="spacingAndGlyphs" stroke="#262626" stroke-width="0.30" stroke-linejoin="round">W</text>
<text x="769.5" y="467.0" font-size="12.70" font-weight="bold" fill="#262626" text-anchor="start" textLength="16.7" lengthAdjust="spacingAndGlyphs" stroke="#262626" stroke-width="0.30" stroke-linejoin="round">80</text>
<ellipse cx="790.5" cy="454.0" rx="1.65" ry="1.3" fill="none" stroke="#262626" stroke-width="0.9"/>
<text x="798.2" y="467.0" font-size="12.70" font-weight="bold" fill="#262626" text-anchor="start" textLength="13.2" lengthAdjust="spacingAndGlyphs" stroke="#262626" stroke-width="0.30" stroke-linejoin="round">W</text>
<text x="832.9" y="467.0" font-size="12.70" font-weight="bold" fill="#262626" text-anchor="start" textLength="16.7" lengthAdjust="spacingAndGlyphs" stroke="#262626" stroke-width="0.30" stroke-linejoin="round">70</text>
<ellipse cx="853.9" cy="454.0" rx="1.65" ry="1.3" fill="none" stroke="#262626" stroke-width="0.9"/>
<text x="861.6" y="467.0" font-size="12.70" font-weight="bold" fill="#262626" text-anchor="start" textLength="13.2" lengthAdjust="spacingAndGlyphs" stroke="#262626" stroke-width="0.30" stroke-linejoin="round">W</text>
<text x="636.0" y="731.5" font-size="24.30" font-weight="bold" fill="#262626" stroke="#262626" stroke-width="0.45" stroke-linejoin="round" textLength="108.2" lengthAdjust="spacingAndGlyphs">SAT-RAP</text>
<text x="752.3" y="731.5" font-size="24.30" font-weight="bold" fill="#262626" stroke="#262626" stroke-width="0.45" stroke-linejoin="round" textLength="68.2" lengthAdjust="spacingAndGlyphs">CAPE</text>
<rect x="1037.10" y="485.20" width="235.40" height="215.00" fill="none" stroke="#1c1c1c" stroke-width="1.05"/>
<g transform="translate(1272.50 485.20)">
<path d="M-55.7 2.0h0M-51.3 2.5h0M-53.5 6.3h0M-49.6 7.1h0M-51.8 10.0h0M-47.9 4.2h0" stroke="#fff000" stroke-width="7.4" stroke-linecap="round" fill="none"/><path d="M-45.8 20.7h0M-41.1 21.9h0M-46.7 24.4h0M-42.4 25.8h0M-38.2 25.5h0" stroke="#ffc700" stroke-width="7.4" stroke-linecap="round" fill="none"/><path d="M-39.9 2.0h0M-35.7 1.2h0M-25.5 1.2h0M-20.4 2.0h0" stroke="#94ff6b" stroke-width="7.4" stroke-linecap="round" fill="none"/><path d="M-16.1 2.9h0" stroke="#80ff80" stroke-width="7.4" stroke-linecap="round" fill="none"/><path d="M-13.2 5.9h0" stroke="#94ff6b" stroke-width="7.4" stroke-linecap="round" fill="none"/><path d="M-39.0 7.1h0M-34.0 7.6h0M-28.9 8.3h0" stroke="#bdff42" stroke-width="7.4" stroke-linecap="round" fill="none"/><path d="M-23.4 7.1h0" stroke="#a8ff57" stroke-width="7.4" stroke-linecap="round" fill="none"/><path d="M-18.3 8.0h0" stroke="#94ff6b" stroke-width="7.4" stroke-linecap="round" fill="none"/><path d="M-38.7 11.7h0M-33.4 12.7h0" stroke="#bdff42" stroke-width="7.4" stroke-linecap="round" fill="none"/><path d="M-28.4 14.4h0" stroke="#d1ff2e" stroke-width="7.4" stroke-linecap="round" fill="none"/><path d="M-23.3 13.1h0M-17.0 11.7h0" stroke="#bdff42" stroke-width="7.4" stroke-linecap="round" fill="none"/><path d="M-30.6 2.9h0" stroke="#a8ff57" stroke-width="7.4" stroke-linecap="round" fill="none"/><path d="M-31.4 18.2h0M-25.5 19.0h0M-19.9 19.5h0" stroke="#e5ff1a" stroke-width="7.4" stroke-linecap="round" fill="none"/><path d="M-9.3 17.3h0M-6.8 21.6h0" stroke="#bdff42" stroke-width="7.4" stroke-linecap="round" fill="none"/><path d="M-11.9 23.3h0" stroke="#d1ff2e" stroke-width="7.4" stroke-linecap="round" fill="none"/><path d="M-4.8 20.4h0" stroke="#bdff42" stroke-width="7.4" stroke-linecap="round" fill="none"/><path d="M-22.9 23.8h0M-18.3 25.0h0" stroke="#e5ff1a" stroke-width="7.4" stroke-linecap="round" fill="none"/><path d="M-27.2 29.2h0M-22.1 30.1h0" stroke="#faff05" stroke-width="7.4" stroke-linecap="round" fill="none"/><path d="M-17.0 31.7h0M-13.2 28.7h0" stroke="#e5ff1a" stroke-width="7.4" stroke-linecap="round" fill="none"/><path d="M-35.7 33.8h0" stroke="#fff000" stroke-width="7.4" stroke-linecap="round" fill="none"/><path d="M-6.8 2.0h0M-0.8 1.2h0" stroke="#6bff94" stroke-width="7.4" stroke-linecap="round" fill="none"/><path d="M-2.5 11.4h0" stroke="#bdff42" stroke-width="7.4" stroke-linecap="round" fill="none"/><path d="M-28.9 48.7h0" stroke="#ffb300" stroke-width="7.4" stroke-linecap="round" fill="none"/><path d="M-27.2 54.7h0" stroke="#ff9e00" stroke-width="7.4" stroke-linecap="round" fill="none"/><path d="M-28.0 63.2h0" stroke="#ff3800" stroke-width="7.4" stroke-linecap="round" fill="none"/><path d="M-27.5 66.6h0" stroke="#ff2400" stroke-width="7.4" stroke-linecap="round" fill="none"/><path d="M-17.0 40.2h0" stroke="#faff05" stroke-width="7.4" stroke-linecap="round" fill="none"/><path d="M-13.6 50.4h0M-10.2 45.3h0" stroke="#fff000" stroke-width="7.4" stroke-linecap="round" fill="none"/><path d="M-5.9 48.7h0" stroke="#faff05" stroke-width="7.4" stroke-linecap="round" fill="none"/><path d="M-3.4 40.2h0" stroke="#e5ff1a" stroke-width="7.4" stroke-linecap="round" fill="none"/><path d="M-0.8 52.1h0" stroke="#ff2400" stroke-width="7.4" stroke-linecap="round" fill="none"/><path d="M-17.0 60.6h0" stroke="#ff7500" stroke-width="7.4" stroke-linecap="round" fill="none"/><path d="M-10.2 57.2h0" stroke="#ff9e00" stroke-width="7.4" stroke-linecap="round" fill="none"/><path d="M-2.5 60.6h0" stroke="#fa0000" stroke-width="7.4" stroke-linecap="round" fill="none"/><path d="M0.0 47.0h0" stroke="#ffdb00" stroke-width="7.4" stroke-linecap="round" fill="none"/><path d="M-11.9 64.0h0" stroke="#ff6100" stroke-width="7.4" stroke-linecap="round" fill="none"/><path d="M-6.8 63.7h0" stroke="#ff0f00" stroke-width="7.4" stroke-linecap="round" fill="none"/><path d="M-20.4 78.4h0M-15.3 77.6h0" stroke="#d10000" stroke-width="7.4" stroke-linecap="round" fill="none"/><path d="M-10.2 78.4h0M-5.1 80.1h0M-18.7 83.5h0" stroke="#bd0000" stroke-width="7.4" stroke-linecap="round" fill="none"/><path d="M-13.6 82.7h0M-8.5 83.5h0" stroke="#a80000" stroke-width="7.4" stroke-linecap="round" fill="none"/><path d="M-2.5 85.2h0" stroke="#bd0000" stroke-width="7.4" stroke-linecap="round" fill="none"/><path d="M-17.0 88.6h0M-11.9 87.8h0M-6.8 88.6h0M-1.7 89.5h0M-14.4 93.2h0M-9.3 93.7h0M-4.8 92.5h0" stroke="#a80000" stroke-width="7.4" stroke-linecap="round" fill="none"/><path d="M-22.4 80.6h0" stroke="#d10000" stroke-width="7.4" stroke-linecap="round" fill="none"/><path d="M-0.8 81.8h0" stroke="#bd0000" stroke-width="7.4" stroke-linecap="round" fill="none"/><path d="M-8.1 106.5h0M-4.2 108.1h0" stroke="#940000" stroke-width="7.4" stroke-linecap="round" fill="none"/><path d="M-8.5 110.7h0M-3.4 111.2h0M-6.5 114.6h0M-2.5 115.3h0" stroke="#800000" stroke-width="7.4" stroke-linecap="round" fill="none"/><path d="M-10.2 108.5h0" stroke="#940000" stroke-width="7.4" stroke-linecap="round" fill="none"/>
</g>
<use href="#st" transform="translate(1037.10 485.20) scale(1.00641 1.00797)" fill="none" stroke="#000" stroke-width="2.9" stroke-linejoin="round" stroke-linecap="round"/>
<rect x="1285.20" y="482.90" width="23.60" height="219.80" fill="url(#jet)" stroke="#262626" stroke-width="0.6"/>
<path d="M1308.8 499.5h-2.2" stroke="#262626" stroke-width="0.8"/>
<text x="1317.4" y="506.8" font-size="21.20" font-weight="bold" fill="#262626" text-anchor="start" textLength="41.8" lengthAdjust="spacingAndGlyphs" stroke="#262626" stroke-width="0.40" stroke-linejoin="round">280</text>
<path d="M1308.8 565.9h-2.2" stroke="#262626" stroke-width="0.8"/>
<text x="1317.4" y="573.2" font-size="21.20" font-weight="bold" fill="#262626" text-anchor="start" textLength="41.8" lengthAdjust="spacingAndGlyphs" stroke="#262626" stroke-width="0.40" stroke-linejoin="round">260</text>
<path d="M1308.8 632.3h-2.2" stroke="#262626" stroke-width="0.8"/>
<text x="1317.4" y="639.6" font-size="21.20" font-weight="bold" fill="#262626" text-anchor="start" textLength="41.8" lengthAdjust="spacingAndGlyphs" stroke="#262626" stroke-width="0.40" stroke-linejoin="round">240</text>
<path d="M1308.8 698.7h-2.2" stroke="#262626" stroke-width="0.8"/>
<text x="1317.4" y="706.0" font-size="21.20" font-weight="bold" fill="#262626" text-anchor="start" textLength="41.8" lengthAdjust="spacingAndGlyphs" stroke="#262626" stroke-width="0.40" stroke-linejoin="round">220</text>
<text x="988.3" y="501.7" font-size="12.70" font-weight="bold" fill="#262626" text-anchor="start" textLength="16.7" lengthAdjust="spacingAndGlyphs" stroke="#262626" stroke-width="0.30" stroke-linejoin="round">48</text>
<text x="1017.2" y="501.7" font-size="12.70" font-weight="bold" fill="#262626" text-anchor="start" textLength="9.8" lengthAdjust="spacingAndGlyphs" stroke="#262626" stroke-width="0.30" stroke-linejoin="round">N</text>
<ellipse cx="1009.4" cy="488.8" rx="1.7" ry="1.2" fill="none" stroke="#262626" stroke-width="0.95"/>
<text x="988.3" y="520.6" font-size="12.70" font-weight="bold" fill="#262626" text-anchor="start" textLength="16.7" lengthAdjust="spacingAndGlyphs" stroke="#262626" stroke-width="0.30" stroke-linejoin="round">46</text>
<text x="1017.2" y="520.6" font-size="12.70" font-weight="bold" fill="#262626" text-anchor="start" textLength="9.8" lengthAdjust="spacingAndGlyphs" stroke="#262626" stroke-width="0.30" stroke-linejoin="round">N</text>
<ellipse cx="1009.4" cy="507.8" rx="1.7" ry="1.2" fill="none" stroke="#262626" stroke-width="0.95"/>
<text x="988.3" y="538.0" font-size="12.70" font-weight="bold" fill="#262626" text-anchor="start" textLength="16.7" lengthAdjust="spacingAndGlyphs" stroke="#262626" stroke-width="0.30" stroke-linejoin="round">44</text>
<text x="1017.2" y="538.0" font-size="12.70" font-weight="bold" fill="#262626" text-anchor="start" textLength="9.8" lengthAdjust="spacingAndGlyphs" stroke="#262626" stroke-width="0.30" stroke-linejoin="round">N</text>
<ellipse cx="1009.4" cy="525.1" rx="1.7" ry="1.2" fill="none" stroke="#262626" stroke-width="0.95"/>
<text x="988.3" y="556.1" font-size="12.70" font-weight="bold" fill="#262626" text-anchor="start" textLength="16.7" lengthAdjust="spacingAndGlyphs" stroke="#262626" stroke-width="0.30" stroke-linejoin="round">42</text>
<text x="1017.2" y="556.1" font-size="12.70" font-weight="bold" fill="#262626" text-anchor="start" textLength="9.8" lengthAdjust="spacingAndGlyphs" stroke="#262626" stroke-width="0.30" stroke-linejoin="round">N</text>
<ellipse cx="1009.4" cy="543.2" rx="1.7" ry="1.2" fill="none" stroke="#262626" stroke-width="0.95"/>
<text x="988.3" y="572.8" font-size="12.70" font-weight="bold" fill="#262626" text-anchor="start" textLength="16.7" lengthAdjust="spacingAndGlyphs" stroke="#262626" stroke-width="0.30" stroke-linejoin="round">40</text>
<text x="1017.2" y="572.8" font-size="12.70" font-weight="bold" fill="#262626" text-anchor="start" textLength="9.8" lengthAdjust="spacingAndGlyphs" stroke="#262626" stroke-width="0.30" stroke-linejoin="round">N</text>
<ellipse cx="1009.4" cy="559.9" rx="1.7" ry="1.2" fill="none" stroke="#262626" stroke-width="0.95"/>
<text x="988.3" y="587.2" font-size="12.70" font-weight="bold" fill="#262626" text-anchor="start" textLength="16.7" lengthAdjust="spacingAndGlyphs" stroke="#262626" stroke-width="0.30" stroke-linejoin="round">38</text>
<text x="1017.2" y="587.2" font-size="12.70" font-weight="bold" fill="#262626" text-anchor="start" textLength="9.8" lengthAdjust="spacingAndGlyphs" stroke="#262626" stroke-width="0.30" stroke-linejoin="round">N</text>
<ellipse cx="1009.4" cy="574.4" rx="1.7" ry="1.2" fill="none" stroke="#262626" stroke-width="0.95"/>
<text x="988.3" y="604.0" font-size="12.70" font-weight="bold" fill="#262626" text-anchor="start" textLength="16.7" lengthAdjust="spacingAndGlyphs" stroke="#262626" stroke-width="0.30" stroke-linejoin="round">36</text>
<text x="1017.2" y="604.0" font-size="12.70" font-weight="bold" fill="#262626" text-anchor="start" textLength="9.8" lengthAdjust="spacingAndGlyphs" stroke="#262626" stroke-width="0.30" stroke-linejoin="round">N</text>
<ellipse cx="1009.4" cy="591.1" rx="1.7" ry="1.2" fill="none" stroke="#262626" stroke-width="0.95"/>
<text x="988.3" y="618.8" font-size="12.70" font-weight="bold" fill="#262626" text-anchor="start" textLength="16.7" lengthAdjust="spacingAndGlyphs" stroke="#262626" stroke-width="0.30" stroke-linejoin="round">34</text>
<text x="1017.2" y="618.8" font-size="12.70" font-weight="bold" fill="#262626" text-anchor="start" textLength="9.8" lengthAdjust="spacingAndGlyphs" stroke="#262626" stroke-width="0.30" stroke-linejoin="round">N</text>
<ellipse cx="1009.4" cy="605.9" rx="1.7" ry="1.2" fill="none" stroke="#262626" stroke-width="0.95"/>
<text x="988.3" y="635.0" font-size="12.70" font-weight="bold" fill="#262626" text-anchor="start" textLength="16.7" lengthAdjust="spacingAndGlyphs" stroke="#262626" stroke-width="0.30" stroke-linejoin="round">32</text>
<text x="1017.2" y="635.0" font-size="12.70" font-weight="bold" fill="#262626" text-anchor="start" textLength="9.8" lengthAdjust="spacingAndGlyphs" stroke="#262626" stroke-width="0.30" stroke-linejoin="round">N</text>
<ellipse cx="1009.4" cy="622.1" rx="1.7" ry="1.2" fill="none" stroke="#262626" stroke-width="0.95"/>
<text x="988.3" y="649.5" font-size="12.70" font-weight="bold" fill="#262626" text-anchor="start" textLength="16.7" lengthAdjust="spacingAndGlyphs" stroke="#262626" stroke-width="0.30" stroke-linejoin="round">30</text>
<text x="1017.2" y="649.5" font-size="12.70" font-weight="bold" fill="#262626" text-anchor="start" textLength="9.8" lengthAdjust="spacingAndGlyphs" stroke="#262626" stroke-width="0.30" stroke-linejoin="round">N</text>
<ellipse cx="1009.4" cy="636.6" rx="1.7" ry="1.2" fill="none" stroke="#262626" stroke-width="0.95"/>
<text x="988.3" y="664.8" font-size="12.70" font-weight="bold" fill="#262626" text-anchor="start" textLength="16.7" lengthAdjust="spacingAndGlyphs" stroke="#262626" stroke-width="0.30" stroke-linejoin="round">28</text>
<text x="1017.2" y="664.8" font-size="12.70" font-weight="bold" fill="#262626" text-anchor="start" textLength="9.8" lengthAdjust="spacingAndGlyphs" stroke="#262626" stroke-width="0.30" stroke-linejoin="round">N</text>
<ellipse cx="1009.4" cy="651.9" rx="1.7" ry="1.2" fill="none" stroke="#262626" stroke-width="0.95"/>
<text x="988.3" y="678.8" font-size="12.70" font-weight="bold" fill="#262626" text-anchor="start" textLength="16.7" lengthAdjust="spacingAndGlyphs" stroke="#262626" stroke-width="0.30" stroke-linejoin="round">26</text>
<text x="1017.2" y="678.8" font-size="12.70" font-weight="bold" fill="#262626" text-anchor="start" textLength="9.8" lengthAdjust="spacingAndGlyphs" stroke="#262626" stroke-width="0.30" stroke-linejoin="round">N</text>
<ellipse cx="1009.4" cy="665.9" rx="1.7" ry="1.2" fill="none" stroke="#262626" stroke-width="0.95"/>
<text x="988.3" y="691.9" font-size="12.70" font-weight="bold" fill="#262626" text-anchor="start" textLength="16.7" lengthAdjust="spacingAndGlyphs" stroke="#262626" stroke-width="0.30" stroke-linejoin="round">24</text>
<text x="1017.2" y="691.9" font-size="12.70" font-weight="bold" fill="#262626" text-anchor="start" textLength="9.8" lengthAdjust="spacingAndGlyphs" stroke="#262626" stroke-width="0.30" stroke-linejoin="round">N</text>
<ellipse cx="1009.4" cy="679.0" rx="1.7" ry="1.2" fill="none" stroke="#262626" stroke-width="0.95"/>
<text x="988.3" y="706.1" font-size="12.70" font-weight="bold" fill="#262626" text-anchor="start" textLength="16.7" lengthAdjust="spacingAndGlyphs" stroke="#262626" stroke-width="0.30" stroke-linejoin="round">22</text>
<text x="1017.2" y="706.1" font-size="12.70" font-weight="bold" fill="#262626" text-anchor="start" textLength="9.8" lengthAdjust="spacingAndGlyphs" stroke="#262626" stroke-width="0.30" stroke-linejoin="round">N</text>
<ellipse cx="1009.4" cy="693.2" rx="1.7" ry="1.2" fill="none" stroke="#262626" stroke-width="0.95"/>
<text x="1059.7" y="465.0" font-size="12.70" font-weight="bold" fill="#262626" text-anchor="start" textLength="25.1" lengthAdjust="spacingAndGlyphs" stroke="#262626" stroke-width="0.30" stroke-linejoin="round">100</text>
<ellipse cx="1089.1" cy="452.0" rx="1.65" ry="1.3" fill="none" stroke="#262626" stroke-width="0.9"/>
<text x="1096.8" y="465.0" font-size="12.70" font-weight="bold" fill="#262626" text-anchor="start" textLength="13.2" lengthAdjust="spacingAndGlyphs" stroke="#262626" stroke-width="0.30" stroke-linejoin="round">W</text>
<text x="1127.4" y="465.0" font-size="12.70" font-weight="bold" fill="#262626" text-anchor="start" textLength="16.7" lengthAdjust="spacingAndGlyphs" stroke="#262626" stroke-width="0.30" stroke-linejoin="round">90</text>
<ellipse cx="1148.4" cy="452.0" rx="1.65" ry="1.3" fill="none" stroke="#262626" stroke-width="0.9"/>
<text x="1156.1" y="465.0" font-size="12.70" font-weight="bold" fill="#262626" text-anchor="start" textLength="13.2" lengthAdjust="spacingAndGlyphs" stroke="#262626" stroke-width="0.30" stroke-linejoin="round">W</text>
<text x="1190.6" y="465.0" font-size="12.70" font-weight="bold" fill="#262626" text-anchor="start" textLength="16.7" lengthAdjust="spacingAndGlyphs" stroke="#262626" stroke-width="0.30" stroke-linejoin="round">80</text>
<ellipse cx="1211.6" cy="452.0" rx="1.65" ry="1.3" fill="none" stroke="#262626" stroke-width="0.9"/>
<text x="1219.3" y="465.0" font-size="12.70" font-weight="bold" fill="#262626" text-anchor="start" textLength="13.2" lengthAdjust="spacingAndGlyphs" stroke="#262626" stroke-width="0.30" stroke-linejoin="round">W</text>
<text x="1255.6" y="465.0" font-size="12.70" font-weight="bold" fill="#262626" text-anchor="start" textLength="16.7" lengthAdjust="spacingAndGlyphs" stroke="#262626" stroke-width="0.30" stroke-linejoin="round">70</text>
<ellipse cx="1276.6" cy="452.0" rx="1.65" ry="1.3" fill="none" stroke="#262626" stroke-width="0.9"/>
<text x="1284.3" y="465.0" font-size="12.70" font-weight="bold" fill="#262626" text-anchor="start" textLength="13.2" lengthAdjust="spacingAndGlyphs" stroke="#262626" stroke-width="0.30" stroke-linejoin="round">W</text>
<text x="959.0" y="732.0" font-size="24.30" font-weight="bold" fill="#262626" stroke="#262626" stroke-width="0.45" stroke-linejoin="round" textLength="98.8" lengthAdjust="spacingAndGlyphs">Surface</text>
<text x="1065.8" y="732.0" font-size="24.30" font-weight="bold" fill="#262626" stroke="#262626" stroke-width="0.45" stroke-linejoin="round" textLength="56.0" lengthAdjust="spacingAndGlyphs">Skin</text>
<text x="1129.7" y="732.0" font-size="24.30" font-weight="bold" fill="#262626" stroke="#262626" stroke-width="0.45" stroke-linejoin="round" textLength="165.0" lengthAdjust="spacingAndGlyphs">Temperature</text>
<text x="1302.8" y="732.0" font-size="24.30" font-weight="bold" fill="#262626" stroke="#262626" stroke-width="0.45" stroke-linejoin="round" textLength="38.7" lengthAdjust="spacingAndGlyphs">(K)</text>
</g>
</svg>
</body></html>
